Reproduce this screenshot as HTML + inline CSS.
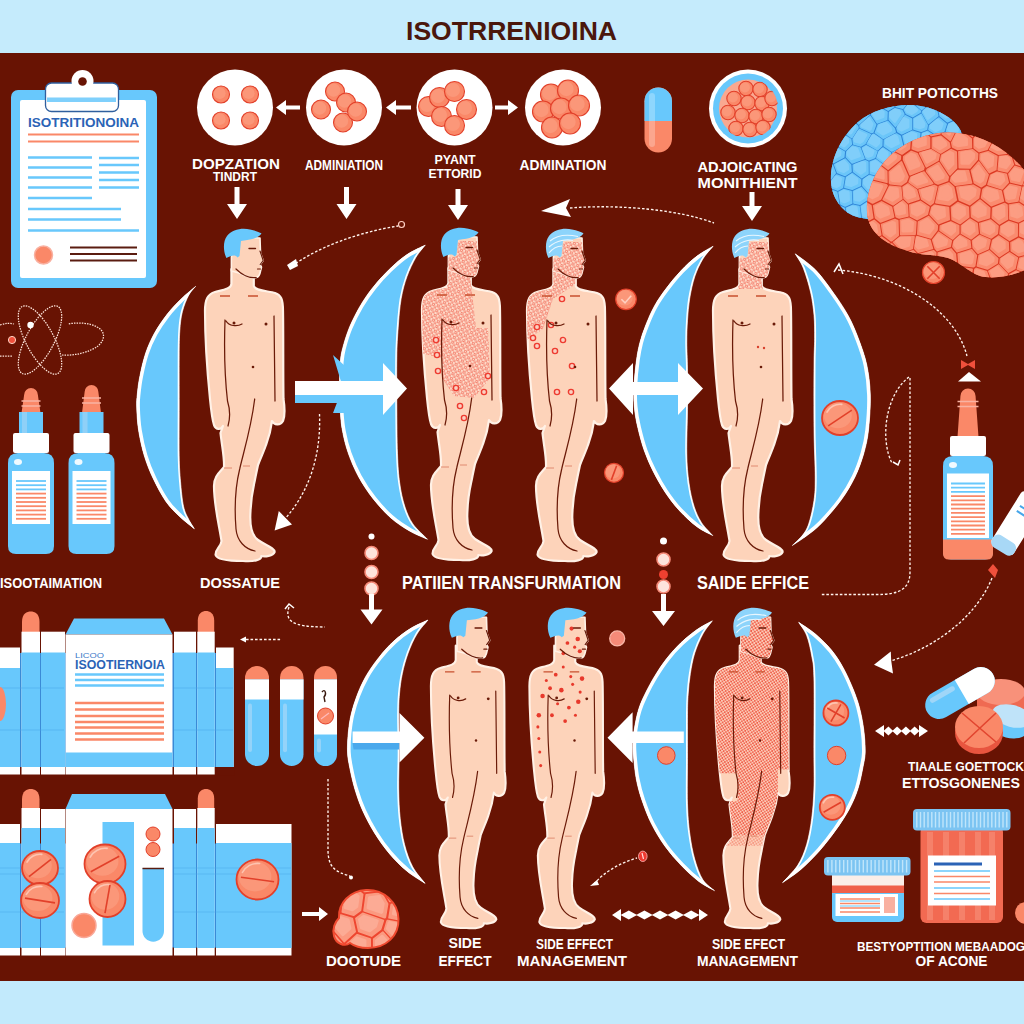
<!DOCTYPE html>
<html lang="en"><head><meta charset="utf-8"><title>Isotrrenioina</title>
<style>html,body{margin:0;padding:0;background:#681303;}svg{display:block;}text{font-family:"Liberation Sans",sans-serif;}</style></head>
<body>
<svg width="1024" height="1024" viewBox="0 0 1024 1024">
<defs>
<clipPath id="bodyclip"><path d="M-13.6,40 L-13.6,55 C-14,60 -22,61 -30,63 C-37,65 -40,70 -40,82 C-40,120 -37,150 -35,170 C-34,180 -33,190 -31,196 C-29,201 -24,201 -22,197 L-24.5,204 C-23,218 -20.5,228 -21,238 C-25,243 -31,247 -31,257 C-31,276 -26,296 -23.5,312 C-24,318 -30,320 -29.4,326 C-28,331 -15,332 -2,332 C8,333 17,331 16.3,327 C20,328 28,327 29.6,323 C30,319 20,316 13,311 C6,306 4.5,296 5.5,282 C6,268 8,260 9.7,252 C11,245 12,241 13,236 C16,228 19,222 21,216 C24,208 26,200 27,192 C29,196 35,197 38,192 C40,187 40,180 38.5,170 C38,140 38.5,110 38,82 C38,70 36,66 30,64 C24,62 10,62 8.8,57 L8.8,46 Z"/></clipPath>
<clipPath id="headclip"><path d="M-13.6,28 L-13.6,42 L-6,44 C0,47 6,49.5 11.3,48.5 C14,48 15,45 15.5,42 L16.5,38 L15.2,35.5 L18.2,31.5 L15.5,24 L15,9 L-7,8 Z"/></clipPath>
<pattern id="pdense" width="5" height="5" patternUnits="userSpaceOnUse" patternTransform="rotate(18)"><rect width="5" height="5" fill="#fddccb"/><circle cx="1.4" cy="1.4" r="1.2" fill="none" stroke="#ee5540" stroke-width="0.85"/><circle cx="3.9" cy="3.9" r="1.05" fill="none" stroke="#f26a56" stroke-width="0.8"/></pattern>
<pattern id="pfull" width="3.6" height="3.6" patternUnits="userSpaceOnUse" patternTransform="rotate(12)"><rect width="3.6" height="3.6" fill="#fdcfbb"/><circle cx="1" cy="1" r="0.95" fill="#ec4632"/><circle cx="2.8" cy="2.8" r="0.9" fill="#ee5642"/></pattern>
<clipPath id="c5"><circle cx="748" cy="108.5" r="30"/></clipPath>
<clipPath id="cr1"><path d="M195.7,286.3 C193.3,288.4 185.9,294.3 181.1,299.0 C176.3,303.7 171.5,308.6 167.1,314.3 C162.7,320.0 158.0,326.8 154.4,333.3 C150.8,339.9 147.9,346.4 145.5,353.6 C143.1,360.8 141.2,369.7 139.8,376.5 C138.4,383.3 137.8,389.2 137.3,394.3 C136.8,399.4 136.5,401.0 136.7,407.0 C136.9,413.0 137.3,422.3 138.6,430.4 C139.9,438.5 141.9,447.8 144.3,455.8 C146.7,463.8 149.6,471.0 153.2,478.6 C156.8,486.2 161.5,495.1 165.9,501.5 C170.3,507.9 175.1,512.2 179.8,516.7 C184.6,521.2 192.0,526.8 194.4,528.8 C193.4,527.2 190.5,523.0 188.7,519.3 C186.9,515.6 185.0,513.0 183.6,506.6 C182.2,500.2 181.2,489.7 180.5,481.2 C179.8,472.7 179.4,468.5 179.2,455.8 C179.0,443.1 179.2,421.6 179.2,405.0 C179.2,388.4 179.1,368.6 179.2,356.2 C179.3,343.8 179.3,338.2 179.8,330.8 C180.3,323.4 180.9,317.6 182.4,311.7 C183.9,305.8 186.5,299.4 188.7,295.2 C190.9,291.0 194.5,287.8 195.7,286.3 Z"/></clipPath>
<clipPath id="cr2"><path d="M425.3,245.1 C422.2,246.7 413.0,250.6 407.0,254.6 C401.0,258.6 395.0,263.9 389.4,269.3 C383.8,274.7 378.2,280.8 373.3,286.9 C368.4,293.0 364.2,299.1 360.2,305.9 C356.2,312.7 352.1,320.8 349.2,327.9 C346.3,335.0 344.1,342.7 342.6,348.4 C341.1,354.1 340.9,355.7 340.4,362.0 C339.9,368.3 339.5,377.6 339.5,386.0 C339.5,394.4 339.9,405.0 340.4,412.6 C340.9,420.2 341.3,424.8 342.6,431.6 C343.9,438.4 345.7,446.0 348.4,453.6 C351.1,461.2 354.5,469.4 358.7,477.0 C362.9,484.6 367.9,492.2 373.3,499.0 C378.7,505.8 384.8,512.6 390.9,518.0 C397.0,523.4 403.9,527.7 410.0,531.2 C416.1,534.8 424.6,537.9 427.5,539.3 C425.1,536.7 416.7,529.4 412.9,523.9 C409.1,518.4 407.0,513.1 404.8,506.3 C402.6,499.5 400.9,491.7 399.7,482.9 C398.5,474.1 398.0,466.8 397.5,453.6 C397.0,440.4 396.9,419.9 396.8,403.8 C396.7,387.7 396.6,369.9 396.8,357.2 C397.0,344.5 397.5,337.7 398.2,327.9 C398.9,318.1 399.7,307.2 401.2,298.6 C402.7,290.1 404.6,283.4 407.0,276.6 C409.4,269.8 412.8,262.9 415.8,257.6 C418.9,252.4 423.7,247.2 425.3,245.1 Z"/></clipPath>
<clipPath id="cr3"><path d="M713.1,246.2 C710.4,247.8 702.4,252.0 697.0,256.1 C691.6,260.2 686.0,265.4 680.9,270.8 C675.8,276.2 670.7,282.5 666.3,288.3 C661.9,294.1 657.9,299.8 654.5,305.9 C651.1,312.0 648.2,318.9 645.8,325.0 C643.4,331.1 641.4,336.7 639.9,342.5 C638.4,348.3 637.5,352.8 636.5,360.0 C635.5,367.2 634.4,378.2 634.0,386.0 C633.6,393.8 633.7,399.8 634.3,406.7 C634.9,413.6 636.0,419.9 637.7,427.2 C639.4,434.5 641.7,443.4 644.3,450.7 C646.9,458.0 649.7,464.4 653.1,471.2 C656.5,478.0 660.4,485.1 664.8,491.7 C669.2,498.3 674.1,504.9 679.5,510.7 C684.9,516.5 691.5,522.6 697.0,526.8 C702.5,530.9 710.2,534.1 712.8,535.6 C710.9,533.4 704.5,527.3 701.4,522.4 C698.3,517.5 696.2,512.9 694.1,506.3 C692.0,499.7 690.2,491.7 689.0,482.9 C687.8,474.1 687.0,465.8 686.8,453.6 C686.5,441.4 687.4,423.7 687.5,409.6 C687.6,395.5 687.6,380.1 687.5,368.9 C687.4,357.7 686.8,350.6 686.8,342.5 C686.8,334.4 687.0,327.9 687.5,320.6 C688.0,313.3 688.5,305.9 689.7,298.6 C690.9,291.3 692.6,283.2 694.8,276.6 C697.0,270.0 699.8,264.1 702.9,259.0 C706.0,253.9 711.4,248.3 713.1,246.2 Z"/></clipPath>
<clipPath id="cr4"><path d="M795.2,253.8 C798.5,256.4 808.9,263.2 815.2,269.6 C821.5,276.0 827.3,284.3 832.8,291.9 C838.3,299.5 843.7,307.5 848.0,315.3 C852.3,323.1 855.4,330.5 858.5,338.8 C861.6,347.1 864.8,355.6 866.8,365.0 C868.8,374.4 870.0,384.2 870.3,395.0 C870.6,405.8 869.6,420.3 868.5,430.0 C867.4,439.7 866.0,445.6 863.8,453.4 C861.5,461.2 858.8,469.1 855.0,476.9 C851.2,484.7 846.7,492.5 841.0,500.3 C835.3,508.1 826.7,517.9 821.0,523.8 C815.3,529.7 811.8,531.9 807.0,535.5 C802.2,539.1 794.8,543.8 792.3,545.5 C794.0,543.8 799.6,539.1 802.3,535.5 C805.0,531.9 806.8,529.7 808.7,523.8 C810.7,517.9 812.9,508.1 814.0,500.3 C815.1,492.5 815.2,488.6 815.2,476.9 C815.2,465.2 814.2,448.6 814.0,430.0 C813.8,411.4 813.9,380.2 814.0,365.0 C814.1,349.8 814.6,347.1 814.6,338.8 C814.6,330.5 814.7,323.1 814.0,315.3 C813.3,307.5 812.3,299.7 810.5,291.9 C808.7,284.1 805.9,274.8 803.4,268.4 C800.9,262.0 796.6,256.2 795.2,253.8 Z"/></clipPath>
<clipPath id="cr5"><path d="M428.0,620.0 C425.2,621.4 416.9,624.6 411.2,628.1 C405.5,631.6 399.0,636.4 393.6,641.3 C388.2,646.2 383.5,651.5 378.9,657.4 C374.3,663.2 369.4,670.0 365.8,676.4 C362.2,682.8 359.4,689.1 357.0,695.5 C354.6,701.9 352.6,708.1 351.1,714.5 C349.6,720.9 348.8,727.4 348.2,733.6 C347.6,739.9 347.3,746.4 347.5,752.0 C347.7,757.6 348.4,760.8 349.6,767.0 C350.8,773.2 352.6,781.7 354.8,789.0 C357.0,796.3 359.5,803.6 362.8,810.9 C366.1,818.2 370.1,825.8 374.5,832.9 C378.9,840.0 383.8,847.0 389.2,853.4 C394.6,859.8 400.8,866.0 406.8,871.0 C412.8,876.0 422.1,881.3 425.1,883.4 C423.0,880.6 416.0,873.1 412.6,866.6 C409.2,860.1 406.7,852.7 404.6,844.6 C402.5,836.5 401.2,827.5 400.2,818.2 C399.2,808.9 398.9,800.0 398.7,789.0 C398.5,778.0 399.2,764.4 399.2,752.0 C399.2,739.6 398.6,724.2 398.7,714.5 C398.8,704.8 398.9,700.8 399.5,694.0 C400.1,687.2 400.9,680.3 402.4,673.5 C403.8,666.7 405.8,659.6 408.2,653.0 C410.6,646.4 413.7,639.5 417.0,634.0 C420.3,628.5 426.2,622.3 428.0,620.0 Z"/></clipPath>
<clipPath id="cr6"><path d="M712.4,620.8 C709.8,622.3 702.2,625.9 697.0,629.6 C691.8,633.3 686.0,637.9 680.9,642.8 C675.8,647.7 670.7,653.3 666.3,658.9 C661.9,664.5 658.2,670.3 654.5,676.4 C650.8,682.5 647.0,689.9 644.3,695.5 C641.6,701.1 640.1,704.5 638.4,710.1 C636.7,715.7 635.2,723.4 634.3,729.2 C633.4,735.0 633.1,740.5 633.0,745.0 C632.9,749.5 633.0,750.4 633.5,756.0 C634.0,761.6 634.8,771.2 636.2,778.7 C637.6,786.2 639.5,793.1 642.1,800.7 C644.7,808.3 647.8,816.6 651.6,824.1 C655.4,831.6 659.9,839.2 664.8,846.0 C669.7,852.8 675.3,859.2 680.9,865.1 C686.5,871.0 692.9,876.9 698.5,881.2 C704.1,885.5 711.9,889.1 714.6,890.7 C712.6,888.9 706.2,885.0 702.9,879.8 C699.6,874.6 697.0,867.1 694.8,859.3 C692.6,851.5 690.9,842.2 689.7,832.9 C688.5,823.6 687.9,816.0 687.5,803.6 C687.1,791.2 687.5,773.4 687.5,758.5 C687.5,743.6 687.4,725.2 687.5,714.5 C687.6,703.8 687.7,700.8 688.2,694.0 C688.7,687.2 689.3,680.3 690.4,673.5 C691.5,666.7 692.7,659.6 694.8,653.0 C696.9,646.4 700.0,639.4 702.9,634.0 C705.8,628.6 710.8,623.0 712.4,620.8 Z"/></clipPath>
<clipPath id="cr7"><path d="M798.6,622.3 C801.4,624.2 809.9,629.4 815.4,634.0 C820.9,638.6 826.9,644.5 831.5,650.1 C836.1,655.7 839.7,661.4 843.2,667.7 C846.8,674.1 850.1,681.6 852.8,688.2 C855.5,694.8 857.6,700.4 859.4,707.2 C861.2,714.0 862.7,721.7 863.7,729.2 C864.7,736.7 865.3,745.7 865.2,752.0 C865.1,758.3 864.2,760.8 863.0,767.0 C861.8,773.2 860.2,781.9 857.9,789.0 C855.6,796.1 852.8,802.6 849.1,809.4 C845.4,816.2 840.8,823.1 835.9,830.0 C831.0,836.9 825.6,843.9 819.8,850.5 C813.9,857.1 807.0,864.1 800.8,869.5 C794.6,874.9 785.5,880.5 782.5,882.7 C785.0,879.8 793.8,871.5 797.8,865.1 C801.8,858.8 804.3,852.4 806.6,844.6 C808.9,836.8 810.5,827.5 811.7,818.2 C812.9,808.9 813.5,800.0 813.9,789.0 C814.3,778.0 813.9,770.5 813.9,752.0 C813.9,733.5 814.3,693.9 813.9,677.9 C813.5,661.9 812.9,663.1 811.7,656.0 C810.5,648.9 808.8,641.0 806.6,635.4 C804.4,629.8 799.9,624.5 798.6,622.3 Z"/></clipPath>
<clipPath id="bb1"><path d="M862,218 C845,216 832,200 831,182 C830,160 840,138 858,122 C878,106 910,100 935,110 C950,116 960,126 962,134 L900,170 L890,215 C880,220 870,220 862,218 Z"/></clipPath>
<clipPath id="bb2"><path d="M867,212 C866,190 876,168 892,154 C910,138 935,130 958,133 C985,136 1008,150 1024,170 L1030,172 L1030,268 C1015,275 995,280 980,276 C968,272 960,262 948,258 C935,254 920,256 905,250 C885,244 868,232 867,212 Z"/></clipPath>
<clipPath id="bb3"><path d="M366,890 C383,889 398,902 398.5,919 C399,936 386,948 368,948 C360,948 354,946 350,943 C345,947 336,944 334,936 C332,929 335,922 339,918 C338,903 350,891 366,890 Z"/></clipPath>
</defs>
<rect x="0" y="0" width="1024" height="1024" fill="#681303"/>
<rect x="0" y="0" width="1024" height="53" fill="#c5ebfc"/>
<rect x="0" y="981" width="1024" height="43" fill="#c2eafc"/>
<text x="511.5" y="40" font-size="26" text-anchor="middle" fill="#4b170c" font-weight="bold" textLength="211" lengthAdjust="spacingAndGlyphs">ISOTRRENIOINA</text>
<circle cx="235" cy="107.5" r="38" fill="#ffffff"/>
<circle cx="344" cy="107.5" r="38" fill="#ffffff"/>
<circle cx="454.5" cy="107.5" r="38" fill="#ffffff"/>
<circle cx="563" cy="107.5" r="38" fill="#ffffff"/>
<circle cx="221" cy="94.5" r="8.5" fill="#fa8868" stroke="#e2402a" stroke-width="1.1"/>
<circle cx="219.7" cy="93.2" r="5.9" fill="#fdb49c" opacity="0.35"/>
<circle cx="250" cy="94.5" r="8.5" fill="#fa8868" stroke="#e2402a" stroke-width="1.1"/>
<circle cx="248.7" cy="93.2" r="5.9" fill="#fdb49c" opacity="0.35"/>
<circle cx="221" cy="120.5" r="8.5" fill="#fa8868" stroke="#e2402a" stroke-width="1.1"/>
<circle cx="219.7" cy="119.2" r="5.9" fill="#fdb49c" opacity="0.35"/>
<circle cx="250" cy="120.5" r="8.5" fill="#fa8868" stroke="#e2402a" stroke-width="1.1"/>
<circle cx="248.7" cy="119.2" r="5.9" fill="#fdb49c" opacity="0.35"/>
<circle cx="321" cy="109.5" r="9.5" fill="#fa8868" stroke="#e2402a" stroke-width="1.1"/>
<circle cx="319.6" cy="108.1" r="6.6" fill="#fdb49c" opacity="0.35"/>
<circle cx="335" cy="91.5" r="9.5" fill="#fa8868" stroke="#e2402a" stroke-width="1.1"/>
<circle cx="333.6" cy="90.1" r="6.6" fill="#fdb49c" opacity="0.35"/>
<circle cx="346" cy="102.5" r="9.5" fill="#fa8868" stroke="#e2402a" stroke-width="1.1"/>
<circle cx="344.6" cy="101.1" r="6.6" fill="#fdb49c" opacity="0.35"/>
<circle cx="343" cy="122.5" r="9.5" fill="#fa8868" stroke="#e2402a" stroke-width="1.1"/>
<circle cx="341.6" cy="121.1" r="6.6" fill="#fdb49c" opacity="0.35"/>
<circle cx="357" cy="111.5" r="9.5" fill="#fa8868" stroke="#e2402a" stroke-width="1.1"/>
<circle cx="355.6" cy="110.1" r="6.6" fill="#fdb49c" opacity="0.35"/>
<circle cx="428.5" cy="106.5" r="10" fill="#fa8868" stroke="#e2402a" stroke-width="1.1"/>
<circle cx="427.0" cy="105.0" r="7.0" fill="#fdb49c" opacity="0.35"/>
<circle cx="439.5" cy="97.5" r="10" fill="#fa8868" stroke="#e2402a" stroke-width="1.1"/>
<circle cx="438.0" cy="96.0" r="7.0" fill="#fdb49c" opacity="0.35"/>
<circle cx="454.5" cy="91.5" r="10" fill="#fa8868" stroke="#e2402a" stroke-width="1.1"/>
<circle cx="453.0" cy="90.0" r="7.0" fill="#fdb49c" opacity="0.35"/>
<circle cx="441.5" cy="116.5" r="10" fill="#fa8868" stroke="#e2402a" stroke-width="1.1"/>
<circle cx="440.0" cy="115.0" r="7.0" fill="#fdb49c" opacity="0.35"/>
<circle cx="466.5" cy="109.5" r="10" fill="#fa8868" stroke="#e2402a" stroke-width="1.1"/>
<circle cx="465.0" cy="108.0" r="7.0" fill="#fdb49c" opacity="0.35"/>
<circle cx="454.5" cy="125.5" r="10" fill="#fa8868" stroke="#e2402a" stroke-width="1.1"/>
<circle cx="453.0" cy="124.0" r="7.0" fill="#fdb49c" opacity="0.35"/>
<circle cx="551" cy="94.5" r="10.5" fill="#fa8868" stroke="#e2402a" stroke-width="1.1"/>
<circle cx="549.4" cy="92.9" r="7.3" fill="#fdb49c" opacity="0.35"/>
<circle cx="568" cy="90.5" r="10.5" fill="#fa8868" stroke="#e2402a" stroke-width="1.1"/>
<circle cx="566.4" cy="88.9" r="7.3" fill="#fdb49c" opacity="0.35"/>
<circle cx="543" cy="111.5" r="10.5" fill="#fa8868" stroke="#e2402a" stroke-width="1.1"/>
<circle cx="541.4" cy="109.9" r="7.3" fill="#fdb49c" opacity="0.35"/>
<circle cx="561" cy="108.5" r="10.5" fill="#fa8868" stroke="#e2402a" stroke-width="1.1"/>
<circle cx="559.4" cy="106.9" r="7.3" fill="#fdb49c" opacity="0.35"/>
<circle cx="579" cy="105.5" r="10.5" fill="#fa8868" stroke="#e2402a" stroke-width="1.1"/>
<circle cx="577.4" cy="103.9" r="7.3" fill="#fdb49c" opacity="0.35"/>
<circle cx="552" cy="127.5" r="10.5" fill="#fa8868" stroke="#e2402a" stroke-width="1.1"/>
<circle cx="550.4" cy="125.9" r="7.3" fill="#fdb49c" opacity="0.35"/>
<circle cx="570" cy="123.5" r="10.5" fill="#fa8868" stroke="#e2402a" stroke-width="1.1"/>
<circle cx="568.4" cy="121.9" r="7.3" fill="#fdb49c" opacity="0.35"/>
<circle cx="748" cy="108.5" r="39" fill="#ffffff"/>
<circle cx="748" cy="108.5" r="35" fill="#68c8fc"/>
<circle cx="748" cy="108.5" r="29" fill="#f9a890"/>
<g clip-path="url(#c5)">
<circle cx="746" cy="88.5" r="7.2" fill="#fa8868" stroke="#e2402a" stroke-width="1.1"/>
<circle cx="744.9" cy="87.4" r="5.0" fill="#fdb49c" opacity="0.35"/>
<circle cx="760" cy="89.5" r="7.2" fill="#fa8868" stroke="#e2402a" stroke-width="1.1"/>
<circle cx="758.9" cy="88.4" r="5.0" fill="#fdb49c" opacity="0.35"/>
<circle cx="734" cy="98.5" r="7.2" fill="#fa8868" stroke="#e2402a" stroke-width="1.1"/>
<circle cx="732.9" cy="97.4" r="5.0" fill="#fdb49c" opacity="0.35"/>
<circle cx="748" cy="102.5" r="7.2" fill="#fa8868" stroke="#e2402a" stroke-width="1.1"/>
<circle cx="746.9" cy="101.4" r="5.0" fill="#fdb49c" opacity="0.35"/>
<circle cx="762" cy="103.5" r="7.2" fill="#fa8868" stroke="#e2402a" stroke-width="1.1"/>
<circle cx="760.9" cy="102.4" r="5.0" fill="#fdb49c" opacity="0.35"/>
<circle cx="772" cy="98.5" r="7.2" fill="#fa8868" stroke="#e2402a" stroke-width="1.1"/>
<circle cx="770.9" cy="97.4" r="5.0" fill="#fdb49c" opacity="0.35"/>
<circle cx="728" cy="112.5" r="7.2" fill="#fa8868" stroke="#e2402a" stroke-width="1.1"/>
<circle cx="726.9" cy="111.4" r="5.0" fill="#fdb49c" opacity="0.35"/>
<circle cx="742" cy="115.5" r="7.2" fill="#fa8868" stroke="#e2402a" stroke-width="1.1"/>
<circle cx="740.9" cy="114.4" r="5.0" fill="#fdb49c" opacity="0.35"/>
<circle cx="756" cy="116.5" r="7.2" fill="#fa8868" stroke="#e2402a" stroke-width="1.1"/>
<circle cx="754.9" cy="115.4" r="5.0" fill="#fdb49c" opacity="0.35"/>
<circle cx="769" cy="114.5" r="7.2" fill="#fa8868" stroke="#e2402a" stroke-width="1.1"/>
<circle cx="767.9" cy="113.4" r="5.0" fill="#fdb49c" opacity="0.35"/>
<circle cx="736" cy="128.5" r="7.2" fill="#fa8868" stroke="#e2402a" stroke-width="1.1"/>
<circle cx="734.9" cy="127.4" r="5.0" fill="#fdb49c" opacity="0.35"/>
<circle cx="750" cy="129.5" r="7.2" fill="#fa8868" stroke="#e2402a" stroke-width="1.1"/>
<circle cx="748.9" cy="128.4" r="5.0" fill="#fdb49c" opacity="0.35"/>
<circle cx="763" cy="127.5" r="7.2" fill="#fa8868" stroke="#e2402a" stroke-width="1.1"/>
<circle cx="761.9" cy="126.4" r="5.0" fill="#fdb49c" opacity="0.35"/>
</g>
<rect x="644.5" y="87.5" width="27.5" height="65" rx="13.7" fill="#fa8868"/>
<path d="M644.5,121 V101.2 A13.75,13.75 0 0 1 672,101.2 V121 Z" fill="#68c8fc"/>
<rect x="649" y="93" width="6" height="54" rx="3" fill="#fff" opacity="0.25"/>
<path d="M300,105.5 H286 V100.0 L276,107.5 L286,115.0 V109.5 H300 Z" fill="#ffffff"/>
<path d="M411,105.5 H396 V100.0 L386,107.5 L396,115.0 V109.5 H411 Z" fill="#ffffff"/>
<path d="M495,105.5 H508 V100.0 L518,107.5 L508,115.0 V109.5 H495 Z" fill="#ffffff"/>
<text x="236" y="168.5" font-size="15" text-anchor="middle" fill="#ffffff" font-weight="bold" textLength="88" lengthAdjust="spacingAndGlyphs">DOPZATION</text>
<text x="235" y="181" font-size="13" text-anchor="middle" fill="#ffffff" font-weight="bold" textLength="44" lengthAdjust="spacingAndGlyphs">TINDRT</text>
<text x="344" y="170" font-size="14" text-anchor="middle" fill="#ffffff" font-weight="bold" textLength="78" lengthAdjust="spacingAndGlyphs">ADMINIATION</text>
<text x="455" y="164" font-size="12.5" text-anchor="middle" fill="#ffffff" font-weight="bold" textLength="41" lengthAdjust="spacingAndGlyphs">PYANT</text>
<text x="455" y="178" font-size="12.5" text-anchor="middle" fill="#ffffff" font-weight="bold" textLength="53" lengthAdjust="spacingAndGlyphs">ETTORID</text>
<text x="563" y="170" font-size="14" text-anchor="middle" fill="#ffffff" font-weight="bold" textLength="87" lengthAdjust="spacingAndGlyphs">ADMINATION</text>
<text x="747.5" y="171.8" font-size="15.3" text-anchor="middle" fill="#ffffff" font-weight="bold" textLength="100" lengthAdjust="spacingAndGlyphs">ADJOICATING</text>
<text x="747.5" y="188" font-size="15" text-anchor="middle" fill="#ffffff" font-weight="bold" textLength="100" lengthAdjust="spacingAndGlyphs">MONITHIENT</text>
<text x="940" y="97.5" font-size="15" text-anchor="middle" fill="#ffffff" font-weight="bold" textLength="116" lengthAdjust="spacingAndGlyphs">BHIT POTICOTHS</text>
<path d="M234.5,187 H239.5 V204 H247 L237,219 L227,204 H234.5 Z" fill="#ffffff"/>
<path d="M344.0,187 H349.0 V204 H356.5 L346.5,219 L336.5,204 H344.0 Z" fill="#ffffff"/>
<path d="M455.5,189 H460.5 V205 H468 L458,220 L448,205 H455.5 Z" fill="#ffffff"/>
<path d="M749.5,192 H754.5 V206 H762 L752,221 L742,206 H749.5 Z" fill="#ffffff"/>
<rect x="11" y="90" width="146" height="198" rx="7" fill="#68c8fc"/>
<rect x="20" y="100" width="126" height="178" rx="2" fill="#ffffff"/>
<rect x="45.5" y="83" width="73" height="28.5" rx="6" fill="#ffffff" stroke="#2f5f9e" stroke-width="1.3"/>
<circle cx="82.5" cy="81" r="11" fill="#ffffff"/>
<circle cx="82.5" cy="81.5" r="4.3" fill="#681303"/>
<rect x="47" y="97.5" width="69" height="4.5" fill="#68c8fc" opacity="0.85"/>
<text x="83.5" y="127" font-size="13" text-anchor="middle" fill="#2b63b6" font-weight="bold" textLength="111" lengthAdjust="spacingAndGlyphs">ISOTRITIONOINA</text>
<path d="M28,134.5 H139 M28,141.5 H139" stroke="#fa8868" stroke-width="2.2"/>
<path d="M28,157.5 H92 M28,167.5 H92 M28,177.5 H92 M28,187.5 H92 M28,198 H92 M99,158 H139 M99,165 H139 M99,172.5 H139 M99,180 H139 M99,187.5 H139 M28,209 H121 M28,219.5 H121 M28,230.5 H139" stroke="#68c8fc" stroke-width="2.6"/>
<circle cx="43.5" cy="255" r="9" fill="#fa8868" stroke="#f9b0a0" stroke-width="1.5"/>
<path d="M70,247.5 H137 M70,254 H137 M70,260.5 H137" stroke="#5a1c10" stroke-width="2.2"/>
<g fill="none" stroke="#ffe6dc" stroke-width="1.25" stroke-dasharray="1.5 1.1"><ellipse cx="40" cy="340" rx="14" ry="38" transform="rotate(-28 40 340)"/><ellipse cx="40" cy="340" rx="14" ry="38" transform="rotate(28 40 340)"/><path d="M0,325 C6,323 10,323 14,324 M0,356 H12 M62,355 C75,356 90,352 98,346 C106,339 105,331 97,327 C90,323 78,322 68,324"/></g>
<circle cx="30.5" cy="325" r="3.2" fill="#fff" />
<circle cx="12" cy="340" r="3.6" fill="#f0503c" stroke="#ffd0c0" stroke-width="1"/>
<path d="M21.5,413 L24.16,394.84 A6.84,6.84 0 0 1 37.84,394.84 L40.5,413 Z" fill="#fa8868"/>
<path d="M21.5,401 h19 M21.5,406 h19" stroke="#f9b3a3" stroke-width="1.5"/>
<rect x="19.0" y="412" width="24" height="22" fill="#68c8fc"/>
<rect x="22.0" y="412" width="5" height="22" fill="#8fd0f7"/>
<rect x="13.0" y="433" width="36" height="20" rx="2" fill="#ffffff"/>
<path d="M8.0,546 V463 Q8.0,453 18.0,453 H44.0 Q54.0,453 54.0,463 V546 Q54.0,554 46.0,554 H16.0 Q8.0,554 8.0,546 Z" fill="#68c8fc"/>
<ellipse cx="18.0" cy="462" rx="4" ry="3" fill="#fff" opacity="0.9"/>
<rect x="12.0" y="471" width="38" height="53" fill="#ffffff"/>
<path d="M16.0,481 H46.0" stroke="#68c8fc" stroke-width="1.8"/>
<path d="M16.0,485.2 H46.0" stroke="#68c8fc" stroke-width="1.8"/>
<path d="M16.0,489.4 H46.0" stroke="#68c8fc" stroke-width="1.8"/>
<path d="M16.0,493.59999999999997 H46.0" stroke="#fa8868" stroke-width="1.8"/>
<path d="M16.0,497.79999999999995 H46.0" stroke="#fa8868" stroke-width="1.8"/>
<path d="M16.0,501.99999999999994 H46.0" stroke="#fa8868" stroke-width="1.8"/>
<path d="M16.0,506.19999999999993 H46.0" stroke="#fa8868" stroke-width="1.8"/>
<path d="M16.0,510.3999999999999 H46.0" stroke="#fa8868" stroke-width="1.8"/>
<path d="M16.0,514.5999999999999 H46.0" stroke="#fa8868" stroke-width="1.8"/>
<path d="M16.0,518.8 H46.0" stroke="#fa8868" stroke-width="1.8"/>
<path d="M82.0,413 L84.66,391.84 A6.84,6.84 0 0 1 98.34,391.84 L101.0,413 Z" fill="#fa8868"/>
<path d="M82.0,398 h19 M82.0,403 h19" stroke="#f9b3a3" stroke-width="1.5"/>
<rect x="79.5" y="412" width="24" height="22" fill="#68c8fc"/>
<rect x="82.5" y="412" width="5" height="22" fill="#8fd0f7"/>
<rect x="73.5" y="433" width="36" height="20" rx="2" fill="#ffffff"/>
<path d="M68.5,546 V463 Q68.5,453 78.5,453 H104.5 Q114.5,453 114.5,463 V546 Q114.5,554 106.5,554 H76.5 Q68.5,554 68.5,546 Z" fill="#68c8fc"/>
<ellipse cx="78.5" cy="462" rx="4" ry="3" fill="#fff" opacity="0.9"/>
<rect x="72.5" y="471" width="38" height="53" fill="#ffffff"/>
<path d="M76.5,481 H106.5" stroke="#68c8fc" stroke-width="1.8"/>
<path d="M76.5,485.2 H106.5" stroke="#68c8fc" stroke-width="1.8"/>
<path d="M76.5,489.4 H106.5" stroke="#68c8fc" stroke-width="1.8"/>
<path d="M76.5,493.59999999999997 H106.5" stroke="#fa8868" stroke-width="1.8"/>
<path d="M76.5,497.79999999999995 H106.5" stroke="#fa8868" stroke-width="1.8"/>
<path d="M76.5,501.99999999999994 H106.5" stroke="#fa8868" stroke-width="1.8"/>
<path d="M76.5,506.19999999999993 H106.5" stroke="#fa8868" stroke-width="1.8"/>
<path d="M76.5,510.3999999999999 H106.5" stroke="#fa8868" stroke-width="1.8"/>
<path d="M76.5,514.5999999999999 H106.5" stroke="#fa8868" stroke-width="1.8"/>
<path d="M76.5,518.8 H106.5" stroke="#fa8868" stroke-width="1.8"/>
<path d="M957.5,437 L960.44,396.06 A7.56,7.56 0 0 1 975.56,396.06 L978.5,437 Z" fill="#fa8868"/>
<path d="M957.5,401.5 h21 M957.5,406.5 h21" stroke="#f9b3a3" stroke-width="1.5"/>
<rect x="950.0" y="436" width="36" height="20" rx="2" fill="#ffffff"/>
<path d="M943.0,551.5 V466 Q943.0,456 953.0,456 H983.0 Q993.0,456 993.0,466 V551.5 Q993.0,559.5 985.0,559.5 H951.0 Q943.0,559.5 943.0,551.5 Z" fill="#68c8fc"/>
<path d="M943.0,539.5 H993.0 V553.5 Q993.0,559.5 987.0,559.5 H949.0 Q943.0,559.5 943.0,553.5 Z" fill="#fa8868"/>
<ellipse cx="953.0" cy="465" rx="4" ry="3" fill="#fff" opacity="0.9"/>
<rect x="947.0" y="473.5" width="42" height="64.5" fill="#ffffff"/>
<path d="M951.0,483.5 H985.0" stroke="#68c8fc" stroke-width="1.8"/>
<path d="M951.0,487.7 H985.0" stroke="#68c8fc" stroke-width="1.8"/>
<path d="M951.0,491.9 H985.0" stroke="#68c8fc" stroke-width="1.8"/>
<path d="M951.0,496.09999999999997 H985.0" stroke="#fa8868" stroke-width="1.8"/>
<path d="M951.0,500.29999999999995 H985.0" stroke="#fa8868" stroke-width="1.8"/>
<path d="M951.0,504.49999999999994 H985.0" stroke="#fa8868" stroke-width="1.8"/>
<path d="M951.0,508.69999999999993 H985.0" stroke="#fa8868" stroke-width="1.8"/>
<path d="M951.0,512.9 H985.0" stroke="#fa8868" stroke-width="1.8"/>
<path d="M951.0,517.1 H985.0" stroke="#fa8868" stroke-width="1.8"/>
<path d="M951.0,521.3000000000001 H985.0" stroke="#fa8868" stroke-width="1.8"/>
<path d="M951.0,525.5000000000001 H985.0" stroke="#fa8868" stroke-width="1.8"/>
<path d="M951.0,529.7000000000002 H985.0" stroke="#fa8868" stroke-width="1.8"/>
<path d="M951.0,533.9000000000002 H985.0" stroke="#fa8868" stroke-width="1.8"/>
<g transform="rotate(32 1010 535)"><rect x="997" y="490" width="26" height="62" rx="4" fill="#ffffff"/><rect x="997" y="540" width="26" height="14" rx="6" fill="#a8d8f6"/><path d="M1003,505 h12 M1003,511 h12" stroke="#46a6ea" stroke-width="2"/></g>
<g clip-path="url(#cr1)"><path d="M195.7,286.3 C193.3,288.4 185.9,294.3 181.1,299.0 C176.3,303.7 171.5,308.6 167.1,314.3 C162.7,320.0 158.0,326.8 154.4,333.3 C150.8,339.9 147.9,346.4 145.5,353.6 C143.1,360.8 141.2,369.7 139.8,376.5 C138.4,383.3 137.8,389.2 137.3,394.3 C136.8,399.4 136.5,401.0 136.7,407.0 C136.9,413.0 137.3,422.3 138.6,430.4 C139.9,438.5 141.9,447.8 144.3,455.8 C146.7,463.8 149.6,471.0 153.2,478.6 C156.8,486.2 161.5,495.1 165.9,501.5 C170.3,507.9 175.1,512.2 179.8,516.7 C184.6,521.2 192.0,526.8 194.4,528.8 C193.4,527.2 190.5,523.0 188.7,519.3 C186.9,515.6 185.0,513.0 183.6,506.6 C182.2,500.2 181.2,489.7 180.5,481.2 C179.8,472.7 179.4,468.5 179.2,455.8 C179.0,443.1 179.2,421.6 179.2,405.0 C179.2,388.4 179.1,368.6 179.2,356.2 C179.3,343.8 179.3,338.2 179.8,330.8 C180.3,323.4 180.9,317.6 182.4,311.7 C183.9,305.8 186.5,299.4 188.7,295.2 C190.9,291.0 194.5,287.8 195.7,286.3 Z" fill="#68c8fc" stroke="#ffffff" stroke-width="3.0"/><path d="M195.7,286.3 C193.3,288.4 185.9,294.3 181.1,299.0 C176.3,303.7 171.5,308.6 167.1,314.3 C162.7,320.0 158.0,326.8 154.4,333.3 C150.8,339.9 147.9,346.4 145.5,353.6 C143.1,360.8 141.2,369.7 139.8,376.5 C138.4,383.3 137.8,389.2 137.3,394.3 C136.8,399.4 136.5,401.0 136.7,407.0 C136.9,413.0 137.3,422.3 138.6,430.4 C139.9,438.5 141.9,447.8 144.3,455.8 C146.7,463.8 149.6,471.0 153.2,478.6 C156.8,486.2 161.5,495.1 165.9,501.5 C170.3,507.9 175.1,512.2 179.8,516.7 C184.6,521.2 192.0,526.8 194.4,528.8 " fill="none" stroke="#ffffff" stroke-width="6.4"/></g>
<path d="M195.7,286.3 C193.3,288.4 185.9,294.3 181.1,299.0 C176.3,303.7 171.5,308.6 167.1,314.3 C162.7,320.0 158.0,326.8 154.4,333.3 C150.8,339.9 147.9,346.4 145.5,353.6 C143.1,360.8 141.2,369.7 139.8,376.5 C138.4,383.3 137.8,389.2 137.3,394.3 C136.8,399.4 136.5,401.0 136.7,407.0 C136.9,413.0 137.3,422.3 138.6,430.4 C139.9,438.5 141.9,447.8 144.3,455.8 C146.7,463.8 149.6,471.0 153.2,478.6 C156.8,486.2 161.5,495.1 165.9,501.5 C170.3,507.9 175.1,512.2 179.8,516.7 C184.6,521.2 192.0,526.8 194.4,528.8 C193.4,527.2 190.5,523.0 188.7,519.3 C186.9,515.6 185.0,513.0 183.6,506.6 C182.2,500.2 181.2,489.7 180.5,481.2 C179.8,472.7 179.4,468.5 179.2,455.8 C179.0,443.1 179.2,421.6 179.2,405.0 C179.2,388.4 179.1,368.6 179.2,356.2 C179.3,343.8 179.3,338.2 179.8,330.8 C180.3,323.4 180.9,317.6 182.4,311.7 C183.9,305.8 186.5,299.4 188.7,295.2 C190.9,291.0 194.5,287.8 195.7,286.3 Z" fill="none" stroke="#ffffff" stroke-width="0.6"/>
<g clip-path="url(#cr2)"><path d="M425.3,245.1 C422.2,246.7 413.0,250.6 407.0,254.6 C401.0,258.6 395.0,263.9 389.4,269.3 C383.8,274.7 378.2,280.8 373.3,286.9 C368.4,293.0 364.2,299.1 360.2,305.9 C356.2,312.7 352.1,320.8 349.2,327.9 C346.3,335.0 344.1,342.7 342.6,348.4 C341.1,354.1 340.9,355.7 340.4,362.0 C339.9,368.3 339.5,377.6 339.5,386.0 C339.5,394.4 339.9,405.0 340.4,412.6 C340.9,420.2 341.3,424.8 342.6,431.6 C343.9,438.4 345.7,446.0 348.4,453.6 C351.1,461.2 354.5,469.4 358.7,477.0 C362.9,484.6 367.9,492.2 373.3,499.0 C378.7,505.8 384.8,512.6 390.9,518.0 C397.0,523.4 403.9,527.7 410.0,531.2 C416.1,534.8 424.6,537.9 427.5,539.3 C425.1,536.7 416.7,529.4 412.9,523.9 C409.1,518.4 407.0,513.1 404.8,506.3 C402.6,499.5 400.9,491.7 399.7,482.9 C398.5,474.1 398.0,466.8 397.5,453.6 C397.0,440.4 396.9,419.9 396.8,403.8 C396.7,387.7 396.6,369.9 396.8,357.2 C397.0,344.5 397.5,337.7 398.2,327.9 C398.9,318.1 399.7,307.2 401.2,298.6 C402.7,290.1 404.6,283.4 407.0,276.6 C409.4,269.8 412.8,262.9 415.8,257.6 C418.9,252.4 423.7,247.2 425.3,245.1 Z" fill="#68c8fc" stroke="#ffffff" stroke-width="3.0"/><path d="M425.3,245.1 C422.2,246.7 413.0,250.6 407.0,254.6 C401.0,258.6 395.0,263.9 389.4,269.3 C383.8,274.7 378.2,280.8 373.3,286.9 C368.4,293.0 364.2,299.1 360.2,305.9 C356.2,312.7 352.1,320.8 349.2,327.9 C346.3,335.0 344.1,342.7 342.6,348.4 C341.1,354.1 340.9,355.7 340.4,362.0 C339.9,368.3 339.5,377.6 339.5,386.0 C339.5,394.4 339.9,405.0 340.4,412.6 C340.9,420.2 341.3,424.8 342.6,431.6 C343.9,438.4 345.7,446.0 348.4,453.6 C351.1,461.2 354.5,469.4 358.7,477.0 C362.9,484.6 367.9,492.2 373.3,499.0 C378.7,505.8 384.8,512.6 390.9,518.0 C397.0,523.4 403.9,527.7 410.0,531.2 C416.1,534.8 424.6,537.9 427.5,539.3 " fill="none" stroke="#ffffff" stroke-width="6.4"/></g>
<path d="M425.3,245.1 C422.2,246.7 413.0,250.6 407.0,254.6 C401.0,258.6 395.0,263.9 389.4,269.3 C383.8,274.7 378.2,280.8 373.3,286.9 C368.4,293.0 364.2,299.1 360.2,305.9 C356.2,312.7 352.1,320.8 349.2,327.9 C346.3,335.0 344.1,342.7 342.6,348.4 C341.1,354.1 340.9,355.7 340.4,362.0 C339.9,368.3 339.5,377.6 339.5,386.0 C339.5,394.4 339.9,405.0 340.4,412.6 C340.9,420.2 341.3,424.8 342.6,431.6 C343.9,438.4 345.7,446.0 348.4,453.6 C351.1,461.2 354.5,469.4 358.7,477.0 C362.9,484.6 367.9,492.2 373.3,499.0 C378.7,505.8 384.8,512.6 390.9,518.0 C397.0,523.4 403.9,527.7 410.0,531.2 C416.1,534.8 424.6,537.9 427.5,539.3 C425.1,536.7 416.7,529.4 412.9,523.9 C409.1,518.4 407.0,513.1 404.8,506.3 C402.6,499.5 400.9,491.7 399.7,482.9 C398.5,474.1 398.0,466.8 397.5,453.6 C397.0,440.4 396.9,419.9 396.8,403.8 C396.7,387.7 396.6,369.9 396.8,357.2 C397.0,344.5 397.5,337.7 398.2,327.9 C398.9,318.1 399.7,307.2 401.2,298.6 C402.7,290.1 404.6,283.4 407.0,276.6 C409.4,269.8 412.8,262.9 415.8,257.6 C418.9,252.4 423.7,247.2 425.3,245.1 Z" fill="none" stroke="#ffffff" stroke-width="0.6"/>
<g clip-path="url(#cr3)"><path d="M713.1,246.2 C710.4,247.8 702.4,252.0 697.0,256.1 C691.6,260.2 686.0,265.4 680.9,270.8 C675.8,276.2 670.7,282.5 666.3,288.3 C661.9,294.1 657.9,299.8 654.5,305.9 C651.1,312.0 648.2,318.9 645.8,325.0 C643.4,331.1 641.4,336.7 639.9,342.5 C638.4,348.3 637.5,352.8 636.5,360.0 C635.5,367.2 634.4,378.2 634.0,386.0 C633.6,393.8 633.7,399.8 634.3,406.7 C634.9,413.6 636.0,419.9 637.7,427.2 C639.4,434.5 641.7,443.4 644.3,450.7 C646.9,458.0 649.7,464.4 653.1,471.2 C656.5,478.0 660.4,485.1 664.8,491.7 C669.2,498.3 674.1,504.9 679.5,510.7 C684.9,516.5 691.5,522.6 697.0,526.8 C702.5,530.9 710.2,534.1 712.8,535.6 C710.9,533.4 704.5,527.3 701.4,522.4 C698.3,517.5 696.2,512.9 694.1,506.3 C692.0,499.7 690.2,491.7 689.0,482.9 C687.8,474.1 687.0,465.8 686.8,453.6 C686.5,441.4 687.4,423.7 687.5,409.6 C687.6,395.5 687.6,380.1 687.5,368.9 C687.4,357.7 686.8,350.6 686.8,342.5 C686.8,334.4 687.0,327.9 687.5,320.6 C688.0,313.3 688.5,305.9 689.7,298.6 C690.9,291.3 692.6,283.2 694.8,276.6 C697.0,270.0 699.8,264.1 702.9,259.0 C706.0,253.9 711.4,248.3 713.1,246.2 Z" fill="#68c8fc" stroke="#ffffff" stroke-width="3.0"/><path d="M713.1,246.2 C710.4,247.8 702.4,252.0 697.0,256.1 C691.6,260.2 686.0,265.4 680.9,270.8 C675.8,276.2 670.7,282.5 666.3,288.3 C661.9,294.1 657.9,299.8 654.5,305.9 C651.1,312.0 648.2,318.9 645.8,325.0 C643.4,331.1 641.4,336.7 639.9,342.5 C638.4,348.3 637.5,352.8 636.5,360.0 C635.5,367.2 634.4,378.2 634.0,386.0 C633.6,393.8 633.7,399.8 634.3,406.7 C634.9,413.6 636.0,419.9 637.7,427.2 C639.4,434.5 641.7,443.4 644.3,450.7 C646.9,458.0 649.7,464.4 653.1,471.2 C656.5,478.0 660.4,485.1 664.8,491.7 C669.2,498.3 674.1,504.9 679.5,510.7 C684.9,516.5 691.5,522.6 697.0,526.8 C702.5,530.9 710.2,534.1 712.8,535.6 " fill="none" stroke="#ffffff" stroke-width="6.4"/></g>
<path d="M713.1,246.2 C710.4,247.8 702.4,252.0 697.0,256.1 C691.6,260.2 686.0,265.4 680.9,270.8 C675.8,276.2 670.7,282.5 666.3,288.3 C661.9,294.1 657.9,299.8 654.5,305.9 C651.1,312.0 648.2,318.9 645.8,325.0 C643.4,331.1 641.4,336.7 639.9,342.5 C638.4,348.3 637.5,352.8 636.5,360.0 C635.5,367.2 634.4,378.2 634.0,386.0 C633.6,393.8 633.7,399.8 634.3,406.7 C634.9,413.6 636.0,419.9 637.7,427.2 C639.4,434.5 641.7,443.4 644.3,450.7 C646.9,458.0 649.7,464.4 653.1,471.2 C656.5,478.0 660.4,485.1 664.8,491.7 C669.2,498.3 674.1,504.9 679.5,510.7 C684.9,516.5 691.5,522.6 697.0,526.8 C702.5,530.9 710.2,534.1 712.8,535.6 C710.9,533.4 704.5,527.3 701.4,522.4 C698.3,517.5 696.2,512.9 694.1,506.3 C692.0,499.7 690.2,491.7 689.0,482.9 C687.8,474.1 687.0,465.8 686.8,453.6 C686.5,441.4 687.4,423.7 687.5,409.6 C687.6,395.5 687.6,380.1 687.5,368.9 C687.4,357.7 686.8,350.6 686.8,342.5 C686.8,334.4 687.0,327.9 687.5,320.6 C688.0,313.3 688.5,305.9 689.7,298.6 C690.9,291.3 692.6,283.2 694.8,276.6 C697.0,270.0 699.8,264.1 702.9,259.0 C706.0,253.9 711.4,248.3 713.1,246.2 Z" fill="none" stroke="#ffffff" stroke-width="0.6"/>
<g clip-path="url(#cr4)"><path d="M795.2,253.8 C798.5,256.4 808.9,263.2 815.2,269.6 C821.5,276.0 827.3,284.3 832.8,291.9 C838.3,299.5 843.7,307.5 848.0,315.3 C852.3,323.1 855.4,330.5 858.5,338.8 C861.6,347.1 864.8,355.6 866.8,365.0 C868.8,374.4 870.0,384.2 870.3,395.0 C870.6,405.8 869.6,420.3 868.5,430.0 C867.4,439.7 866.0,445.6 863.8,453.4 C861.5,461.2 858.8,469.1 855.0,476.9 C851.2,484.7 846.7,492.5 841.0,500.3 C835.3,508.1 826.7,517.9 821.0,523.8 C815.3,529.7 811.8,531.9 807.0,535.5 C802.2,539.1 794.8,543.8 792.3,545.5 C794.0,543.8 799.6,539.1 802.3,535.5 C805.0,531.9 806.8,529.7 808.7,523.8 C810.7,517.9 812.9,508.1 814.0,500.3 C815.1,492.5 815.2,488.6 815.2,476.9 C815.2,465.2 814.2,448.6 814.0,430.0 C813.8,411.4 813.9,380.2 814.0,365.0 C814.1,349.8 814.6,347.1 814.6,338.8 C814.6,330.5 814.7,323.1 814.0,315.3 C813.3,307.5 812.3,299.7 810.5,291.9 C808.7,284.1 805.9,274.8 803.4,268.4 C800.9,262.0 796.6,256.2 795.2,253.8 Z" fill="#68c8fc" stroke="#ffffff" stroke-width="3.0"/><path d="M795.2,253.8 C798.5,256.4 808.9,263.2 815.2,269.6 C821.5,276.0 827.3,284.3 832.8,291.9 C838.3,299.5 843.7,307.5 848.0,315.3 C852.3,323.1 855.4,330.5 858.5,338.8 C861.6,347.1 864.8,355.6 866.8,365.0 C868.8,374.4 870.0,384.2 870.3,395.0 C870.6,405.8 869.6,420.3 868.5,430.0 C867.4,439.7 866.0,445.6 863.8,453.4 C861.5,461.2 858.8,469.1 855.0,476.9 C851.2,484.7 846.7,492.5 841.0,500.3 C835.3,508.1 826.7,517.9 821.0,523.8 C815.3,529.7 811.8,531.9 807.0,535.5 C802.2,539.1 794.8,543.8 792.3,545.5 " fill="none" stroke="#ffffff" stroke-width="6.4"/></g>
<path d="M795.2,253.8 C798.5,256.4 808.9,263.2 815.2,269.6 C821.5,276.0 827.3,284.3 832.8,291.9 C838.3,299.5 843.7,307.5 848.0,315.3 C852.3,323.1 855.4,330.5 858.5,338.8 C861.6,347.1 864.8,355.6 866.8,365.0 C868.8,374.4 870.0,384.2 870.3,395.0 C870.6,405.8 869.6,420.3 868.5,430.0 C867.4,439.7 866.0,445.6 863.8,453.4 C861.5,461.2 858.8,469.1 855.0,476.9 C851.2,484.7 846.7,492.5 841.0,500.3 C835.3,508.1 826.7,517.9 821.0,523.8 C815.3,529.7 811.8,531.9 807.0,535.5 C802.2,539.1 794.8,543.8 792.3,545.5 C794.0,543.8 799.6,539.1 802.3,535.5 C805.0,531.9 806.8,529.7 808.7,523.8 C810.7,517.9 812.9,508.1 814.0,500.3 C815.1,492.5 815.2,488.6 815.2,476.9 C815.2,465.2 814.2,448.6 814.0,430.0 C813.8,411.4 813.9,380.2 814.0,365.0 C814.1,349.8 814.6,347.1 814.6,338.8 C814.6,330.5 814.7,323.1 814.0,315.3 C813.3,307.5 812.3,299.7 810.5,291.9 C808.7,284.1 805.9,274.8 803.4,268.4 C800.9,262.0 796.6,256.2 795.2,253.8 Z" fill="none" stroke="#ffffff" stroke-width="0.6"/>
<g clip-path="url(#cr5)"><path d="M428.0,620.0 C425.2,621.4 416.9,624.6 411.2,628.1 C405.5,631.6 399.0,636.4 393.6,641.3 C388.2,646.2 383.5,651.5 378.9,657.4 C374.3,663.2 369.4,670.0 365.8,676.4 C362.2,682.8 359.4,689.1 357.0,695.5 C354.6,701.9 352.6,708.1 351.1,714.5 C349.6,720.9 348.8,727.4 348.2,733.6 C347.6,739.9 347.3,746.4 347.5,752.0 C347.7,757.6 348.4,760.8 349.6,767.0 C350.8,773.2 352.6,781.7 354.8,789.0 C357.0,796.3 359.5,803.6 362.8,810.9 C366.1,818.2 370.1,825.8 374.5,832.9 C378.9,840.0 383.8,847.0 389.2,853.4 C394.6,859.8 400.8,866.0 406.8,871.0 C412.8,876.0 422.1,881.3 425.1,883.4 C423.0,880.6 416.0,873.1 412.6,866.6 C409.2,860.1 406.7,852.7 404.6,844.6 C402.5,836.5 401.2,827.5 400.2,818.2 C399.2,808.9 398.9,800.0 398.7,789.0 C398.5,778.0 399.2,764.4 399.2,752.0 C399.2,739.6 398.6,724.2 398.7,714.5 C398.8,704.8 398.9,700.8 399.5,694.0 C400.1,687.2 400.9,680.3 402.4,673.5 C403.8,666.7 405.8,659.6 408.2,653.0 C410.6,646.4 413.7,639.5 417.0,634.0 C420.3,628.5 426.2,622.3 428.0,620.0 Z" fill="#68c8fc" stroke="#ffffff" stroke-width="3.0"/><path d="M428.0,620.0 C425.2,621.4 416.9,624.6 411.2,628.1 C405.5,631.6 399.0,636.4 393.6,641.3 C388.2,646.2 383.5,651.5 378.9,657.4 C374.3,663.2 369.4,670.0 365.8,676.4 C362.2,682.8 359.4,689.1 357.0,695.5 C354.6,701.9 352.6,708.1 351.1,714.5 C349.6,720.9 348.8,727.4 348.2,733.6 C347.6,739.9 347.3,746.4 347.5,752.0 C347.7,757.6 348.4,760.8 349.6,767.0 C350.8,773.2 352.6,781.7 354.8,789.0 C357.0,796.3 359.5,803.6 362.8,810.9 C366.1,818.2 370.1,825.8 374.5,832.9 C378.9,840.0 383.8,847.0 389.2,853.4 C394.6,859.8 400.8,866.0 406.8,871.0 C412.8,876.0 422.1,881.3 425.1,883.4 " fill="none" stroke="#ffffff" stroke-width="6.4"/></g>
<path d="M428.0,620.0 C425.2,621.4 416.9,624.6 411.2,628.1 C405.5,631.6 399.0,636.4 393.6,641.3 C388.2,646.2 383.5,651.5 378.9,657.4 C374.3,663.2 369.4,670.0 365.8,676.4 C362.2,682.8 359.4,689.1 357.0,695.5 C354.6,701.9 352.6,708.1 351.1,714.5 C349.6,720.9 348.8,727.4 348.2,733.6 C347.6,739.9 347.3,746.4 347.5,752.0 C347.7,757.6 348.4,760.8 349.6,767.0 C350.8,773.2 352.6,781.7 354.8,789.0 C357.0,796.3 359.5,803.6 362.8,810.9 C366.1,818.2 370.1,825.8 374.5,832.9 C378.9,840.0 383.8,847.0 389.2,853.4 C394.6,859.8 400.8,866.0 406.8,871.0 C412.8,876.0 422.1,881.3 425.1,883.4 C423.0,880.6 416.0,873.1 412.6,866.6 C409.2,860.1 406.7,852.7 404.6,844.6 C402.5,836.5 401.2,827.5 400.2,818.2 C399.2,808.9 398.9,800.0 398.7,789.0 C398.5,778.0 399.2,764.4 399.2,752.0 C399.2,739.6 398.6,724.2 398.7,714.5 C398.8,704.8 398.9,700.8 399.5,694.0 C400.1,687.2 400.9,680.3 402.4,673.5 C403.8,666.7 405.8,659.6 408.2,653.0 C410.6,646.4 413.7,639.5 417.0,634.0 C420.3,628.5 426.2,622.3 428.0,620.0 Z" fill="none" stroke="#ffffff" stroke-width="0.6"/>
<g clip-path="url(#cr6)"><path d="M712.4,620.8 C709.8,622.3 702.2,625.9 697.0,629.6 C691.8,633.3 686.0,637.9 680.9,642.8 C675.8,647.7 670.7,653.3 666.3,658.9 C661.9,664.5 658.2,670.3 654.5,676.4 C650.8,682.5 647.0,689.9 644.3,695.5 C641.6,701.1 640.1,704.5 638.4,710.1 C636.7,715.7 635.2,723.4 634.3,729.2 C633.4,735.0 633.1,740.5 633.0,745.0 C632.9,749.5 633.0,750.4 633.5,756.0 C634.0,761.6 634.8,771.2 636.2,778.7 C637.6,786.2 639.5,793.1 642.1,800.7 C644.7,808.3 647.8,816.6 651.6,824.1 C655.4,831.6 659.9,839.2 664.8,846.0 C669.7,852.8 675.3,859.2 680.9,865.1 C686.5,871.0 692.9,876.9 698.5,881.2 C704.1,885.5 711.9,889.1 714.6,890.7 C712.6,888.9 706.2,885.0 702.9,879.8 C699.6,874.6 697.0,867.1 694.8,859.3 C692.6,851.5 690.9,842.2 689.7,832.9 C688.5,823.6 687.9,816.0 687.5,803.6 C687.1,791.2 687.5,773.4 687.5,758.5 C687.5,743.6 687.4,725.2 687.5,714.5 C687.6,703.8 687.7,700.8 688.2,694.0 C688.7,687.2 689.3,680.3 690.4,673.5 C691.5,666.7 692.7,659.6 694.8,653.0 C696.9,646.4 700.0,639.4 702.9,634.0 C705.8,628.6 710.8,623.0 712.4,620.8 Z" fill="#68c8fc" stroke="#ffffff" stroke-width="3.0"/><path d="M712.4,620.8 C709.8,622.3 702.2,625.9 697.0,629.6 C691.8,633.3 686.0,637.9 680.9,642.8 C675.8,647.7 670.7,653.3 666.3,658.9 C661.9,664.5 658.2,670.3 654.5,676.4 C650.8,682.5 647.0,689.9 644.3,695.5 C641.6,701.1 640.1,704.5 638.4,710.1 C636.7,715.7 635.2,723.4 634.3,729.2 C633.4,735.0 633.1,740.5 633.0,745.0 C632.9,749.5 633.0,750.4 633.5,756.0 C634.0,761.6 634.8,771.2 636.2,778.7 C637.6,786.2 639.5,793.1 642.1,800.7 C644.7,808.3 647.8,816.6 651.6,824.1 C655.4,831.6 659.9,839.2 664.8,846.0 C669.7,852.8 675.3,859.2 680.9,865.1 C686.5,871.0 692.9,876.9 698.5,881.2 C704.1,885.5 711.9,889.1 714.6,890.7 " fill="none" stroke="#ffffff" stroke-width="6.4"/></g>
<path d="M712.4,620.8 C709.8,622.3 702.2,625.9 697.0,629.6 C691.8,633.3 686.0,637.9 680.9,642.8 C675.8,647.7 670.7,653.3 666.3,658.9 C661.9,664.5 658.2,670.3 654.5,676.4 C650.8,682.5 647.0,689.9 644.3,695.5 C641.6,701.1 640.1,704.5 638.4,710.1 C636.7,715.7 635.2,723.4 634.3,729.2 C633.4,735.0 633.1,740.5 633.0,745.0 C632.9,749.5 633.0,750.4 633.5,756.0 C634.0,761.6 634.8,771.2 636.2,778.7 C637.6,786.2 639.5,793.1 642.1,800.7 C644.7,808.3 647.8,816.6 651.6,824.1 C655.4,831.6 659.9,839.2 664.8,846.0 C669.7,852.8 675.3,859.2 680.9,865.1 C686.5,871.0 692.9,876.9 698.5,881.2 C704.1,885.5 711.9,889.1 714.6,890.7 C712.6,888.9 706.2,885.0 702.9,879.8 C699.6,874.6 697.0,867.1 694.8,859.3 C692.6,851.5 690.9,842.2 689.7,832.9 C688.5,823.6 687.9,816.0 687.5,803.6 C687.1,791.2 687.5,773.4 687.5,758.5 C687.5,743.6 687.4,725.2 687.5,714.5 C687.6,703.8 687.7,700.8 688.2,694.0 C688.7,687.2 689.3,680.3 690.4,673.5 C691.5,666.7 692.7,659.6 694.8,653.0 C696.9,646.4 700.0,639.4 702.9,634.0 C705.8,628.6 710.8,623.0 712.4,620.8 Z" fill="none" stroke="#ffffff" stroke-width="0.6"/>
<g clip-path="url(#cr7)"><path d="M798.6,622.3 C801.4,624.2 809.9,629.4 815.4,634.0 C820.9,638.6 826.9,644.5 831.5,650.1 C836.1,655.7 839.7,661.4 843.2,667.7 C846.8,674.1 850.1,681.6 852.8,688.2 C855.5,694.8 857.6,700.4 859.4,707.2 C861.2,714.0 862.7,721.7 863.7,729.2 C864.7,736.7 865.3,745.7 865.2,752.0 C865.1,758.3 864.2,760.8 863.0,767.0 C861.8,773.2 860.2,781.9 857.9,789.0 C855.6,796.1 852.8,802.6 849.1,809.4 C845.4,816.2 840.8,823.1 835.9,830.0 C831.0,836.9 825.6,843.9 819.8,850.5 C813.9,857.1 807.0,864.1 800.8,869.5 C794.6,874.9 785.5,880.5 782.5,882.7 C785.0,879.8 793.8,871.5 797.8,865.1 C801.8,858.8 804.3,852.4 806.6,844.6 C808.9,836.8 810.5,827.5 811.7,818.2 C812.9,808.9 813.5,800.0 813.9,789.0 C814.3,778.0 813.9,770.5 813.9,752.0 C813.9,733.5 814.3,693.9 813.9,677.9 C813.5,661.9 812.9,663.1 811.7,656.0 C810.5,648.9 808.8,641.0 806.6,635.4 C804.4,629.8 799.9,624.5 798.6,622.3 Z" fill="#68c8fc" stroke="#ffffff" stroke-width="3.0"/><path d="M798.6,622.3 C801.4,624.2 809.9,629.4 815.4,634.0 C820.9,638.6 826.9,644.5 831.5,650.1 C836.1,655.7 839.7,661.4 843.2,667.7 C846.8,674.1 850.1,681.6 852.8,688.2 C855.5,694.8 857.6,700.4 859.4,707.2 C861.2,714.0 862.7,721.7 863.7,729.2 C864.7,736.7 865.3,745.7 865.2,752.0 C865.1,758.3 864.2,760.8 863.0,767.0 C861.8,773.2 860.2,781.9 857.9,789.0 C855.6,796.1 852.8,802.6 849.1,809.4 C845.4,816.2 840.8,823.1 835.9,830.0 C831.0,836.9 825.6,843.9 819.8,850.5 C813.9,857.1 807.0,864.1 800.8,869.5 C794.6,874.9 785.5,880.5 782.5,882.7 " fill="none" stroke="#ffffff" stroke-width="6.4"/></g>
<path d="M798.6,622.3 C801.4,624.2 809.9,629.4 815.4,634.0 C820.9,638.6 826.9,644.5 831.5,650.1 C836.1,655.7 839.7,661.4 843.2,667.7 C846.8,674.1 850.1,681.6 852.8,688.2 C855.5,694.8 857.6,700.4 859.4,707.2 C861.2,714.0 862.7,721.7 863.7,729.2 C864.7,736.7 865.3,745.7 865.2,752.0 C865.1,758.3 864.2,760.8 863.0,767.0 C861.8,773.2 860.2,781.9 857.9,789.0 C855.6,796.1 852.8,802.6 849.1,809.4 C845.4,816.2 840.8,823.1 835.9,830.0 C831.0,836.9 825.6,843.9 819.8,850.5 C813.9,857.1 807.0,864.1 800.8,869.5 C794.6,874.9 785.5,880.5 782.5,882.7 C785.0,879.8 793.8,871.5 797.8,865.1 C801.8,858.8 804.3,852.4 806.6,844.6 C808.9,836.8 810.5,827.5 811.7,818.2 C812.9,808.9 813.5,800.0 813.9,789.0 C814.3,778.0 813.9,770.5 813.9,752.0 C813.9,733.5 814.3,693.9 813.9,677.9 C813.5,661.9 812.9,663.1 811.7,656.0 C810.5,648.9 808.8,641.0 806.6,635.4 C804.4,629.8 799.9,624.5 798.6,622.3 Z" fill="none" stroke="#ffffff" stroke-width="0.6"/>
<path d="M333,355 L345,366 V413 L333,413 L338,400 L295,400 V395 H345 Z" fill="#68c8fc"/>
<path d="M295,395 H383 V403 H295 Z" fill="#68c8fc"/>
<path d="M295,381 H383 V363 L407,388.5 L383,415 V395 H295 Z" fill="#ffffff"/>
<path d="M609,388.5 L633,363 V382 H678 V363 L703,388.5 L678,415 V395 H633 V415 Z" fill="#ffffff"/>
<path d="M352.6,743 H399.5 V749.5 H353.5 Z" fill="#4aa9ec"/>
<path d="M352.6,731.4 H399.5 V713 L424.4,737.7 L399.5,762.4 V743.1 H352.6 Z" fill="#ffffff"/>
<path d="M607.5,737.7 L632.6,712.3 V731.4 H683.8 V743.1 H632.6 V763 Z" fill="#ffffff"/>
<g transform="translate(245,229) scale(1.0,1.0)">
<path d="M-13.6,40 L-13.6,55 C-14,60 -22,61 -30,63 C-37,65 -40,70 -40,82 C-40,120 -37,150 -35,170 C-34,180 -33,190 -31,196 C-29,201 -24,201 -22,197 L-24.5,204 C-23,218 -20.5,228 -21,238 C-25,243 -31,247 -31,257 C-31,276 -26,296 -23.5,312 C-24,318 -30,320 -29.4,326 C-28,331 -15,332 -2,332 C8,333 17,331 16.3,327 C20,328 28,327 29.6,323 C30,319 20,316 13,311 C6,306 4.5,296 5.5,282 C6,268 8,260 9.7,252 C11,245 12,241 13,236 C16,228 19,222 21,216 C24,208 26,200 27,192 C29,196 35,197 38,192 C40,187 40,180 38.5,170 C38,140 38.5,110 38,82 C38,70 36,66 30,64 C24,62 10,62 8.8,57 L8.8,46 Z" fill="#fdd3ba" stroke="#fff1e6" stroke-width="2.2" stroke-linejoin="round"/>
<g><path d="M-20,91 C-21,120 -20,150 -17.5,172 C-15,180 -15,190 -17,197 M29,87 C29.5,120 30,150 30,172 M9.7,170 C6,200 -2,225 -5.3,240 C-9,255 -11,275 -9,300 C-8,312 0,320 10,322 M-19,92 C-16,97 -8,98 -3,95 " fill="none" stroke="#6a1a08" stroke-width="1.25" stroke-linecap="round"/><path d="M-25,67 H-15 M3,67 H13" stroke="#c8502f" stroke-width="1.3" fill="none"/><path d="M-21,239 h8 M-2,237 h7" stroke="#e08a70" stroke-width="1" fill="none"/><circle cx="-11" cy="94" r="1.5" fill="#6a1a08"/><circle cx="21" cy="95" r="1.5" fill="#6a1a08"/><circle cx="8" cy="138" r="1.3" fill="#6a1a08"/></g>
</g>
<g transform="translate(245,229) scale(1.0)">
<path d="M-13.6,28 L-13.6,42 L-6,44 C0,47 6,49.5 11.3,48.5 C14,48 15,45 15.5,42 L16.5,38 L15.2,35.5 L18.2,31.5 L15.5,24 L15,9 L-7,8 Z" fill="#fdd3ba" stroke="#fff1e6" stroke-width="1.6" stroke-linejoin="round"/>
<g><path d="M-9,40 C-3,46 5,49.5 11.3,48.5 M15,22 L18.2,31.5 L15.2,35.5 M15.5,40 h-3" fill="none" stroke="#6a1a08" stroke-width="1.2" stroke-linecap="round"/><path d="M4,19.5 h6.5" stroke="#6a1a08" stroke-width="1.4" stroke-linecap="round"/></g>
<path d="M-18.6,29 C-22,22 -22,12 -18,7 C-13,0 -2,-1.5 5,0.5 C10,1.5 14,3 16.5,4.3 C14,8.5 9,10.5 -4,12 L-5.5,27 L-7.5,28.5 C-10,25 -14,27 -18.6,29 Z" fill="#68c8fc"/>
</g>
<g transform="translate(462,228) scale(1.0,1.0)">
<path d="M-13.6,40 L-13.6,55 C-14,60 -22,61 -30,63 C-37,65 -40,70 -40,82 C-40,120 -37,150 -35,170 C-34,180 -33,190 -31,196 C-29,201 -24,201 -22,197 L-24.5,204 C-23,218 -20.5,228 -21,238 C-25,243 -31,247 -31,257 C-31,276 -26,296 -23.5,312 C-24,318 -30,320 -29.4,326 C-28,331 -15,332 -2,332 C8,333 17,331 16.3,327 C20,328 28,327 29.6,323 C30,319 20,316 13,311 C6,306 4.5,296 5.5,282 C6,268 8,260 9.7,252 C11,245 12,241 13,236 C16,228 19,222 21,216 C24,208 26,200 27,192 C29,196 35,197 38,192 C40,187 40,180 38.5,170 C38,140 38.5,110 38,82 C38,70 36,66 30,64 C24,62 10,62 8.8,57 L8.8,46 Z" fill="#fdd3ba" stroke="#fff1e6" stroke-width="2.2" stroke-linejoin="round"/>
<g clip-path="url(#bodyclip)">
<path d="M-42,60 L-15,60 L-15,38 L10,38 L10,64 L14,100 L26,100 L28,150 L12,170 L-8,168 L-20,150 L-20,130 L-42,125 Z" fill="url(#pdense)"/>
</g>
<circle cx="-26" cy="112" r="2.6" fill="#fbd0c0" stroke="#ee3b30" stroke-width="1.4"/>
<circle cx="-25" cy="127" r="2.6" fill="#fbd0c0" stroke="#ee3b30" stroke-width="1.4"/>
<circle cx="-24" cy="143" r="2.6" fill="#fbd0c0" stroke="#ee3b30" stroke-width="1.4"/>
<circle cx="-6" cy="160" r="2.6" fill="#fbd0c0" stroke="#ee3b30" stroke-width="1.4"/>
<circle cx="-2" cy="178" r="2.6" fill="#fbd0c0" stroke="#ee3b30" stroke-width="1.4"/>
<circle cx="2" cy="190" r="2.6" fill="#fbd0c0" stroke="#ee3b30" stroke-width="1.4"/>
<circle cx="22" cy="164" r="2.6" fill="#fbd0c0" stroke="#ee3b30" stroke-width="1.4"/>
<circle cx="26" cy="148" r="2.6" fill="#fbd0c0" stroke="#ee3b30" stroke-width="1.4"/>
<g><path d="M-20,91 C-21,120 -20,150 -17.5,172 C-15,180 -15,190 -17,197 M29,87 C29.5,120 30,150 30,172 M9.7,170 C6,200 -2,225 -5.3,240 C-9,255 -11,275 -9,300 C-8,312 0,320 10,322 M-19,92 C-16,97 -8,98 -3,95 " fill="none" stroke="#6a1a08" stroke-width="1.25" stroke-linecap="round"/><path d="M-25,67 H-15 M3,67 H13" stroke="#c8502f" stroke-width="1.3" fill="none"/><path d="M-21,239 h8 M-2,237 h7" stroke="#e08a70" stroke-width="1" fill="none"/><circle cx="-11" cy="94" r="1.5" fill="#6a1a08"/><circle cx="21" cy="95" r="1.5" fill="#6a1a08"/><circle cx="8" cy="138" r="1.3" fill="#6a1a08"/></g>
</g>
<g transform="translate(462,228) scale(1.0)">
<path d="M-13.6,28 L-13.6,42 L-6,44 C0,47 6,49.5 11.3,48.5 C14,48 15,45 15.5,42 L16.5,38 L15.2,35.5 L18.2,31.5 L15.5,24 L15,9 L-7,8 Z" fill="#fdd3ba" stroke="#fff1e6" stroke-width="1.6" stroke-linejoin="round"/>
<g clip-path="url(#headclip)"><path d="M-15,30 L-5,28 L-4,13 L20,13 L20,50 L-15,50 Z" fill="url(#pdense)"/></g>
<g><path d="M-9,40 C-3,46 5,49.5 11.3,48.5 M15,22 L18.2,31.5 L15.2,35.5 M15.5,40 h-3" fill="none" stroke="#6a1a08" stroke-width="1.2" stroke-linecap="round"/><path d="M4,19.5 h6.5" stroke="#6a1a08" stroke-width="1.4" stroke-linecap="round"/></g>
<path d="M-18.6,29 C-22,22 -22,12 -18,7 C-13,0 -2,-1.5 5,0.5 C10,1.5 14,3 16.5,4.3 C14,8.5 9,10.5 -4,12 L-5.5,27 L-7.5,28.5 C-10,25 -14,27 -18.6,29 Z" fill="#68c8fc"/>
</g>
<g transform="translate(567,229) scale(1.0,1.0)">
<path d="M-13.6,40 L-13.6,55 C-14,60 -22,61 -30,63 C-37,65 -40,70 -40,82 C-40,120 -37,150 -35,170 C-34,180 -33,190 -31,196 C-29,201 -24,201 -22,197 L-24.5,204 C-23,218 -20.5,228 -21,238 C-25,243 -31,247 -31,257 C-31,276 -26,296 -23.5,312 C-24,318 -30,320 -29.4,326 C-28,331 -15,332 -2,332 C8,333 17,331 16.3,327 C20,328 28,327 29.6,323 C30,319 20,316 13,311 C6,306 4.5,296 5.5,282 C6,268 8,260 9.7,252 C11,245 12,241 13,236 C16,228 19,222 21,216 C24,208 26,200 27,192 C29,196 35,197 38,192 C40,187 40,180 38.5,170 C38,140 38.5,110 38,82 C38,70 36,66 30,64 C24,62 10,62 8.8,57 L8.8,46 Z" fill="#fdd3ba" stroke="#fff1e6" stroke-width="2.2" stroke-linejoin="round"/>
<g clip-path="url(#bodyclip)">
<path d="M-42,60 L-15,60 L-15,38 L10,38 L8,56 L-2,62 L-14,70 L-24,100 L-42,112 Z" fill="url(#pdense)"/>
</g>
<circle cx="-5" cy="70" r="2.6" fill="#fbd0c0" stroke="#ee3b30" stroke-width="1.4"/>
<circle cx="-30" cy="98" r="2.6" fill="#fbd0c0" stroke="#ee3b30" stroke-width="1.4"/>
<circle cx="-34" cy="109" r="2.6" fill="#fbd0c0" stroke="#ee3b30" stroke-width="1.4"/>
<circle cx="-30" cy="117" r="2.6" fill="#fbd0c0" stroke="#ee3b30" stroke-width="1.4"/>
<circle cx="-12" cy="122" r="2.6" fill="#fbd0c0" stroke="#ee3b30" stroke-width="1.4"/>
<circle cx="-4" cy="111" r="2.6" fill="#fbd0c0" stroke="#ee3b30" stroke-width="1.4"/>
<circle cx="-16" cy="96" r="2.6" fill="#fbd0c0" stroke="#ee3b30" stroke-width="1.4"/>
<circle cx="5" cy="137" r="2.6" fill="#fbd0c0" stroke="#ee3b30" stroke-width="1.4"/>
<circle cx="-10" cy="163" r="2.6" fill="#fbd0c0" stroke="#ee3b30" stroke-width="1.4"/>
<circle cx="4" cy="163" r="2.6" fill="#fbd0c0" stroke="#ee3b30" stroke-width="1.4"/>
<g><path d="M-20,91 C-21,120 -20,150 -17.5,172 C-15,180 -15,190 -17,197 M29,87 C29.5,120 30,150 30,172 M9.7,170 C6,200 -2,225 -5.3,240 C-9,255 -11,275 -9,300 C-8,312 0,320 10,322 M-19,92 C-16,97 -8,98 -3,95 " fill="none" stroke="#6a1a08" stroke-width="1.25" stroke-linecap="round"/><path d="M-25,67 H-15 M3,67 H13" stroke="#c8502f" stroke-width="1.3" fill="none"/><path d="M-21,239 h8 M-2,237 h7" stroke="#e08a70" stroke-width="1" fill="none"/><circle cx="-11" cy="94" r="1.5" fill="#6a1a08"/><circle cx="21" cy="95" r="1.5" fill="#6a1a08"/><circle cx="8" cy="138" r="1.3" fill="#6a1a08"/></g>
</g>
<g transform="translate(567,229) scale(1.0)">
<path d="M-13.6,28 L-13.6,42 L-6,44 C0,47 6,49.5 11.3,48.5 C14,48 15,45 15.5,42 L16.5,38 L15.2,35.5 L18.2,31.5 L15.5,24 L15,9 L-7,8 Z" fill="#fdd3ba" stroke="#fff1e6" stroke-width="1.6" stroke-linejoin="round"/>
<g clip-path="url(#headclip)"><path d="M-15,30 L-5,28 L-4,13 L20,13 L20,50 L-15,50 Z" fill="url(#pdense)"/></g>
<g><path d="M-9,40 C-3,46 5,49.5 11.3,48.5 M15,22 L18.2,31.5 L15.2,35.5 M15.5,40 h-3" fill="none" stroke="#6a1a08" stroke-width="1.2" stroke-linecap="round"/><path d="M4,19.5 h6.5" stroke="#6a1a08" stroke-width="1.4" stroke-linecap="round"/></g>
<path d="M-18.6,29 C-22,22 -22,12 -18,7 C-13,0 -2,-1.5 5,0.5 C10,1.5 14,3 16.5,4.3 C14,8.5 9,10.5 -4,12 L-5.5,27 L-7.5,28.5 C-10,25 -14,27 -18.6,29 Z" fill="#8dd4fb"/>
<path d="M-17,12 C-10,6 0,5 11,7.5 M-18,18 C-10,11 0,10 6,11.5 M-18,24 C-14,19 -9,17 -5,17" stroke="#e8f6fe" stroke-width="1.1" fill="none"/>
</g>
<g transform="translate(753,229) scale(1.0,1.0)">
<path d="M-13.6,40 L-13.6,55 C-14,60 -22,61 -30,63 C-37,65 -40,70 -40,82 C-40,120 -37,150 -35,170 C-34,180 -33,190 -31,196 C-29,201 -24,201 -22,197 L-24.5,204 C-23,218 -20.5,228 -21,238 C-25,243 -31,247 -31,257 C-31,276 -26,296 -23.5,312 C-24,318 -30,320 -29.4,326 C-28,331 -15,332 -2,332 C8,333 17,331 16.3,327 C20,328 28,327 29.6,323 C30,319 20,316 13,311 C6,306 4.5,296 5.5,282 C6,268 8,260 9.7,252 C11,245 12,241 13,236 C16,228 19,222 21,216 C24,208 26,200 27,192 C29,196 35,197 38,192 C40,187 40,180 38.5,170 C38,140 38.5,110 38,82 C38,70 36,66 30,64 C24,62 10,62 8.8,57 L8.8,46 Z" fill="#fdd3ba" stroke="#fff1e6" stroke-width="2.2" stroke-linejoin="round"/>
<g clip-path="url(#bodyclip)"><path d="M-15,38 L10,38 L10,60 L-15,60 Z" fill="url(#pdense)"/></g>
<circle cx="5" cy="118" r="1.2" fill="#d8402c"/><circle cx="11" cy="119" r="1.2" fill="#d8402c"/>
<g><path d="M-20,91 C-21,120 -20,150 -17.5,172 C-15,180 -15,190 -17,197 M29,87 C29.5,120 30,150 30,172 M9.7,170 C6,200 -2,225 -5.3,240 C-9,255 -11,275 -9,300 C-8,312 0,320 10,322 M-19,92 C-16,97 -8,98 -3,95 " fill="none" stroke="#6a1a08" stroke-width="1.25" stroke-linecap="round"/><path d="M-25,67 H-15 M3,67 H13" stroke="#c8502f" stroke-width="1.3" fill="none"/><path d="M-21,239 h8 M-2,237 h7" stroke="#e08a70" stroke-width="1" fill="none"/><circle cx="-11" cy="94" r="1.5" fill="#6a1a08"/><circle cx="21" cy="95" r="1.5" fill="#6a1a08"/><circle cx="8" cy="138" r="1.3" fill="#6a1a08"/></g>
</g>
<g transform="translate(753,229) scale(1.0)">
<path d="M-13.6,28 L-13.6,42 L-6,44 C0,47 6,49.5 11.3,48.5 C14,48 15,45 15.5,42 L16.5,38 L15.2,35.5 L18.2,31.5 L15.5,24 L15,9 L-7,8 Z" fill="#fdd3ba" stroke="#fff1e6" stroke-width="1.6" stroke-linejoin="round"/>
<g clip-path="url(#headclip)"><path d="M-15,30 L-5,28 L-4,13 L20,13 L20,50 L-15,50 Z" fill="url(#pdense)"/></g>
<g><path d="M-9,40 C-3,46 5,49.5 11.3,48.5 M15,22 L18.2,31.5 L15.2,35.5 M15.5,40 h-3" fill="none" stroke="#6a1a08" stroke-width="1.2" stroke-linecap="round"/><path d="M4,19.5 h6.5" stroke="#6a1a08" stroke-width="1.4" stroke-linecap="round"/></g>
<path d="M-18.6,29 C-22,22 -22,12 -18,7 C-13,0 -2,-1.5 5,0.5 C10,1.5 14,3 16.5,4.3 C14,8.5 9,10.5 -4,12 L-5.5,27 L-7.5,28.5 C-10,25 -14,27 -18.6,29 Z" fill="#8dd4fb"/>
<path d="M-17,12 C-10,6 0,5 11,7.5 M-18,18 C-10,11 0,10 6,11.5 M-18,24 C-14,19 -9,17 -5,17" stroke="#e8f6fe" stroke-width="1.1" fill="none"/>
</g>
<g transform="translate(468.5,607) scale(0.94,0.967)">
<path d="M-13.6,40 L-13.6,55 C-14,60 -22,61 -30,63 C-37,65 -40,70 -40,82 C-40,120 -37,150 -35,170 C-34,180 -33,190 -31,196 C-29,201 -24,201 -22,197 L-24.5,204 C-23,218 -20.5,228 -21,238 C-25,243 -31,247 -31,257 C-31,276 -26,296 -23.5,312 C-24,318 -30,320 -29.4,326 C-28,331 -15,332 -2,332 C8,333 17,331 16.3,327 C20,328 28,327 29.6,323 C30,319 20,316 13,311 C6,306 4.5,296 5.5,282 C6,268 8,260 9.7,252 C11,245 12,241 13,236 C16,228 19,222 21,216 C24,208 26,200 27,192 C29,196 35,197 38,192 C40,187 40,180 38.5,170 C38,140 38.5,110 38,82 C38,70 36,66 30,64 C24,62 10,62 8.8,57 L8.8,46 Z" fill="#fdd3ba" stroke="#fff1e6" stroke-width="2.2" stroke-linejoin="round"/>
<g><path d="M-20,91 C-21,120 -20,150 -17.5,172 C-15,180 -15,190 -17,197 M29,87 C29.5,120 30,150 30,172 M9.7,170 C6,200 -2,225 -5.3,240 C-9,255 -11,275 -9,300 C-8,312 0,320 10,322 M-19,92 C-16,97 -8,98 -3,95 " fill="none" stroke="#6a1a08" stroke-width="1.25" stroke-linecap="round"/><path d="M-25,67 H-15 M3,67 H13" stroke="#c8502f" stroke-width="1.3" fill="none"/><path d="M-21,239 h8 M-2,237 h7" stroke="#e08a70" stroke-width="1" fill="none"/><circle cx="-11" cy="94" r="1.5" fill="#6a1a08"/><circle cx="21" cy="95" r="1.5" fill="#6a1a08"/><circle cx="8" cy="138" r="1.3" fill="#6a1a08"/></g>
</g>
<g transform="translate(471.0,608) scale(1.03)">
<path d="M-13.6,28 L-13.6,42 L-6,44 C0,47 6,49.5 11.3,48.5 C14,48 15,45 15.5,42 L16.5,38 L15.2,35.5 L18.2,31.5 L15.5,24 L15,9 L-7,8 Z" fill="#fdd3ba" stroke="#fff1e6" stroke-width="1.6" stroke-linejoin="round"/>
<g><path d="M-9,40 C-3,46 5,49.5 11.3,48.5 M15,22 L18.2,31.5 L15.2,35.5 M15.5,40 h-3" fill="none" stroke="#6a1a08" stroke-width="1.2" stroke-linecap="round"/><path d="M4,19.5 h6.5" stroke="#6a1a08" stroke-width="1.4" stroke-linecap="round"/></g>
<path d="M-18.6,29 C-22,22 -22,12 -18,7 C-13,0 -2,-1.5 5,0.5 C10,1.5 14,3 16.5,4.3 C14,8.5 9,10.5 -4,12 L-5.5,27 L-7.5,28.5 C-10,25 -14,27 -18.6,29 Z" fill="#68c8fc"/>
</g>
<g transform="translate(567,607) scale(0.94,0.967)">
<path d="M-13.6,40 L-13.6,55 C-14,60 -22,61 -30,63 C-37,65 -40,70 -40,82 C-40,120 -37,150 -35,170 C-34,180 -33,190 -31,196 C-29,201 -24,201 -22,197 L-24.5,204 C-23,218 -20.5,228 -21,238 C-25,243 -31,247 -31,257 C-31,276 -26,296 -23.5,312 C-24,318 -30,320 -29.4,326 C-28,331 -15,332 -2,332 C8,333 17,331 16.3,327 C20,328 28,327 29.6,323 C30,319 20,316 13,311 C6,306 4.5,296 5.5,282 C6,268 8,260 9.7,252 C11,245 12,241 13,236 C16,228 19,222 21,216 C24,208 26,200 27,192 C29,196 35,197 38,192 C40,187 40,180 38.5,170 C38,140 38.5,110 38,82 C38,70 36,66 30,64 C24,62 10,62 8.8,57 L8.8,46 Z" fill="#fdd3ba" stroke="#fff1e6" stroke-width="2.2" stroke-linejoin="round"/>
<circle cx="-12" cy="70" r="2.0" fill="#e8392c"/>
<circle cx="4" cy="72" r="1.6" fill="#e8392c"/>
<circle cx="-18" cy="84" r="2.0" fill="#e8392c"/>
<circle cx="-6" cy="86" r="2.4" fill="#e8392c"/>
<circle cx="6" cy="80" r="1.6" fill="#e8392c"/>
<circle cx="14" cy="88" r="1.6" fill="#e8392c"/>
<circle cx="-26" cy="92" r="2.4" fill="#e8392c"/>
<circle cx="-10" cy="100" r="1.6" fill="#e8392c"/>
<circle cx="2" cy="104" r="2.0" fill="#e8392c"/>
<circle cx="12" cy="98" r="2.4" fill="#e8392c"/>
<circle cx="-4" cy="62" r="1.6" fill="#e8392c"/>
<circle cx="-30" cy="112" r="2.4" fill="#e8392c"/>
<circle cx="-31" cy="124" r="1.6" fill="#e8392c"/>
<circle cx="-30" cy="136" r="1.6" fill="#e8392c"/>
<circle cx="-29" cy="150" r="1.6" fill="#e8392c"/>
<circle cx="-16" cy="112" r="2.0" fill="#e8392c"/>
<circle cx="-2" cy="118" r="2.0" fill="#e8392c"/>
<circle cx="9" cy="112" r="1.6" fill="#e8392c"/>
<circle cx="-28" cy="164" r="1.6" fill="#e8392c"/>
<circle cx="-22" cy="76" r="1.6" fill="#e8392c"/>
<circle cx="16" cy="74" r="2.4" fill="#e8392c"/>
<g><path d="M-20,91 C-21,120 -20,150 -17.5,172 C-15,180 -15,190 -17,197 M29,87 C29.5,120 30,150 30,172 M9.7,170 C6,200 -2,225 -5.3,240 C-9,255 -11,275 -9,300 C-8,312 0,320 10,322 M-19,92 C-16,97 -8,98 -3,95 " fill="none" stroke="#6a1a08" stroke-width="1.25" stroke-linecap="round"/><path d="M-25,67 H-15 M3,67 H13" stroke="#c8502f" stroke-width="1.3" fill="none"/><path d="M-21,239 h8 M-2,237 h7" stroke="#e08a70" stroke-width="1" fill="none"/><circle cx="-11" cy="94" r="1.5" fill="#6a1a08"/><circle cx="21" cy="95" r="1.5" fill="#6a1a08"/><circle cx="8" cy="138" r="1.3" fill="#6a1a08"/></g>
</g>
<g transform="translate(569.5,608) scale(1.03)">
<path d="M-13.6,28 L-13.6,42 L-6,44 C0,47 6,49.5 11.3,48.5 C14,48 15,45 15.5,42 L16.5,38 L15.2,35.5 L18.2,31.5 L15.5,24 L15,9 L-7,8 Z" fill="#fdd3ba" stroke="#fff1e6" stroke-width="1.6" stroke-linejoin="round"/>
<circle cx="2" cy="20" r="2" fill="#e8392c"/>
<circle cx="8" cy="30" r="2.2" fill="#e8392c"/>
<circle cx="-2" cy="34" r="1.8" fill="#e8392c"/>
<circle cx="10" cy="42" r="2" fill="#e8392c"/>
<circle cx="-6" cy="44" r="1.8" fill="#e8392c"/>
<circle cx="5" cy="38" r="1.5" fill="#e8392c"/>
<g><path d="M-9,40 C-3,46 5,49.5 11.3,48.5 M15,22 L18.2,31.5 L15.2,35.5 M15.5,40 h-3" fill="none" stroke="#6a1a08" stroke-width="1.2" stroke-linecap="round"/><path d="M4,19.5 h6.5" stroke="#6a1a08" stroke-width="1.4" stroke-linecap="round"/></g>
<path d="M-18.6,29 C-22,22 -22,12 -18,7 C-13,0 -2,-1.5 5,0.5 C10,1.5 14,3 16.5,4.3 C14,8.5 9,10.5 -4,12 L-5.5,27 L-7.5,28.5 C-10,25 -14,27 -18.6,29 Z" fill="#68c8fc"/>
</g>
<g transform="translate(752.5,607) scale(0.94,0.967)">
<path d="M-13.6,40 L-13.6,55 C-14,60 -22,61 -30,63 C-37,65 -40,70 -40,82 C-40,120 -37,150 -35,170 C-34,180 -33,190 -31,196 C-29,201 -24,201 -22,197 L-24.5,204 C-23,218 -20.5,228 -21,238 C-25,243 -31,247 -31,257 C-31,276 -26,296 -23.5,312 C-24,318 -30,320 -29.4,326 C-28,331 -15,332 -2,332 C8,333 17,331 16.3,327 C20,328 28,327 29.6,323 C30,319 20,316 13,311 C6,306 4.5,296 5.5,282 C6,268 8,260 9.7,252 C11,245 12,241 13,236 C16,228 19,222 21,216 C24,208 26,200 27,192 C29,196 35,197 38,192 C40,187 40,180 38.5,170 C38,140 38.5,110 38,82 C38,70 36,66 30,64 C24,62 10,62 8.8,57 L8.8,46 Z" fill="#fdd3ba" stroke="#fff1e6" stroke-width="2.2" stroke-linejoin="round"/>
<g clip-path="url(#bodyclip)"><path d="M-45,30 H45 V168 H27 V236 H-30 V201 H-16 V172 H-45 Z" fill="url(#pfull)"/><rect x="-45" y="235" width="90" height="12" fill="url(#pfull)" opacity="0.5"/></g>
<g><path d="M-20,91 C-21,120 -20,150 -17.5,172 C-15,180 -15,190 -17,197 M29,87 C29.5,120 30,150 30,172 M9.7,170 C6,200 -2,225 -5.3,240 C-9,255 -11,275 -9,300 C-8,312 0,320 10,322 M-19,92 C-16,97 -8,98 -3,95 " fill="none" stroke="#6a1a08" stroke-width="1.25" stroke-linecap="round"/><path d="M-25,67 H-15 M3,67 H13" stroke="#c8502f" stroke-width="1.3" fill="none"/><path d="M-21,239 h8 M-2,237 h7" stroke="#e08a70" stroke-width="1" fill="none"/><circle cx="-11" cy="94" r="1.5" fill="#6a1a08"/><circle cx="21" cy="95" r="1.5" fill="#6a1a08"/><circle cx="8" cy="138" r="1.3" fill="#6a1a08"/></g>
</g>
<g transform="translate(755.0,608) scale(1.03)">
<path d="M-13.6,28 L-13.6,42 L-6,44 C0,47 6,49.5 11.3,48.5 C14,48 15,45 15.5,42 L16.5,38 L15.2,35.5 L18.2,31.5 L15.5,24 L15,9 L-7,8 Z" fill="#fdd3ba" stroke="#fff1e6" stroke-width="1.6" stroke-linejoin="round"/>
<g clip-path="url(#headclip)"><rect x="-20" y="5" width="45" height="50" fill="url(#pfull)"/></g>
<g><path d="M-9,40 C-3,46 5,49.5 11.3,48.5 M15,22 L18.2,31.5 L15.2,35.5 M15.5,40 h-3" fill="none" stroke="#6a1a08" stroke-width="1.2" stroke-linecap="round"/><path d="M4,19.5 h6.5" stroke="#6a1a08" stroke-width="1.4" stroke-linecap="round"/></g>
<path d="M-18.6,29 C-22,22 -22,12 -18,7 C-13,0 -2,-1.5 5,0.5 C10,1.5 14,3 16.5,4.3 C14,8.5 9,10.5 -4,12 L-5.5,27 L-7.5,28.5 C-10,25 -14,27 -18.6,29 Z" fill="#8dd4fb"/>
<path d="M-17,12 C-10,6 0,5 11,7.5 M-18,18 C-10,11 0,10 6,11.5 M-18,24 C-14,19 -9,17 -5,17" stroke="#e8f6fe" stroke-width="1.1" fill="none"/>
</g>
<text x="0" y="588" font-size="15" text-anchor="start" fill="#ffffff" font-weight="bold" textLength="102" lengthAdjust="spacingAndGlyphs">ISOOTAIMATION</text>
<text x="240" y="588" font-size="15" text-anchor="middle" fill="#ffffff" font-weight="bold" textLength="80" lengthAdjust="spacingAndGlyphs">DOSSATUE</text>
<text x="511.5" y="588.5" font-size="17.5" text-anchor="middle" fill="#ffffff" font-weight="bold" textLength="219" lengthAdjust="spacingAndGlyphs">PATIIEN TRANSFURMATION</text>
<text x="753" y="588.5" font-size="17.5" text-anchor="middle" fill="#ffffff" font-weight="bold" textLength="112" lengthAdjust="spacingAndGlyphs">SAIDE EFFICE</text>
<text x="363.5" y="965.5" font-size="15" text-anchor="middle" fill="#ffffff" font-weight="bold" textLength="75" lengthAdjust="spacingAndGlyphs">DOOTUDE</text>
<text x="465" y="948" font-size="14" text-anchor="middle" fill="#ffffff" font-weight="bold" textLength="33" lengthAdjust="spacingAndGlyphs">SIDE</text>
<text x="465" y="965.5" font-size="15" text-anchor="middle" fill="#ffffff" font-weight="bold" textLength="53" lengthAdjust="spacingAndGlyphs">EFFECT</text>
<text x="574.5" y="948.5" font-size="14.5" text-anchor="middle" fill="#ffffff" font-weight="bold" textLength="77" lengthAdjust="spacingAndGlyphs">SIDE EFFECT</text>
<text x="572" y="965.5" font-size="15.5" text-anchor="middle" fill="#ffffff" font-weight="bold" textLength="110" lengthAdjust="spacingAndGlyphs">MANAGEMENT</text>
<text x="748.5" y="948.5" font-size="14.5" text-anchor="middle" fill="#ffffff" font-weight="bold" textLength="73" lengthAdjust="spacingAndGlyphs">SIDE EFECT</text>
<text x="747.5" y="965.5" font-size="15.5" text-anchor="middle" fill="#ffffff" font-weight="bold" textLength="101" lengthAdjust="spacingAndGlyphs">MANAGEMENT</text>
<text x="966" y="771.2" font-size="13.5" text-anchor="middle" fill="#ffffff" font-weight="bold" textLength="116" lengthAdjust="spacingAndGlyphs">TIAALE GOETTOCK</text>
<text x="961" y="787.7" font-size="15" text-anchor="middle" fill="#ffffff" font-weight="bold" textLength="118" lengthAdjust="spacingAndGlyphs">ETTOSGONENES</text>
<text x="941" y="950.5" font-size="13.5" text-anchor="middle" fill="#ffffff" font-weight="bold" textLength="168" lengthAdjust="spacingAndGlyphs">BESTYOPTITION MEBAADOG</text>
<text x="951.5" y="965.5" font-size="14.5" text-anchor="middle" fill="#ffffff" font-weight="bold" textLength="72" lengthAdjust="spacingAndGlyphs">OF ACONE</text>
<circle cx="371.5" cy="536.5" r="3" fill="#fff"/>
<circle cx="371.5" cy="553" r="6.5" fill="#fde4dc" stroke="#f58a78" stroke-width="1.6"/>
<circle cx="371.5" cy="572" r="6.5" fill="#fde4dc" stroke="#f58a78" stroke-width="1.6"/>
<circle cx="371.5" cy="588.5" r="6.5" fill="#fde4dc" stroke="#f58a78" stroke-width="1.6"/>
<path d="M369.0,594 H374.0 V609.5 H382.5 L371.5,624.5 L360.5,609.5 H369.0 Z" fill="#ffffff"/>
<circle cx="663.5" cy="541" r="3.5" fill="#fff"/>
<circle cx="663.5" cy="559.5" r="6.5" fill="#fde4dc" stroke="#f58a78" stroke-width="1.6"/>
<circle cx="663.5" cy="574.5" r="4.5" fill="#ee4030"/>
<circle cx="663.5" cy="586.5" r="6.5" fill="#fde4dc" stroke="#f58a78" stroke-width="1.6"/>
<path d="M661.0,594 H666.0 V611 H675.0 L663.5,626 L652.0,611 H661.0 Z" fill="#ffffff"/>
<g transform="translate(626,299.3)">
<ellipse rx="10.3" ry="10.3" fill="#fa8868" stroke="#e2402a" stroke-width="1.2"/>
<ellipse cx="-1.2" cy="-1.5" rx="8.0" ry="7.7" fill="#fdb49c" opacity="0.35"/>
<path d="M-4.6,0 L-1.0,3.6 L5.2,-3.6" stroke="#ffd0c0" stroke-width="1.6" fill="none"/>
</g>
<g transform="translate(614,472.8)">
<ellipse rx="9.5" ry="9.5" fill="#fa8868" stroke="#e2402a" stroke-width="1.2"/>
<ellipse cx="-1.1" cy="-1.4" rx="7.4" ry="7.1" fill="#fdb49c" opacity="0.35"/>
<path d="M-2.6,7.1 L2.6,-7.1" stroke="#e2402a" stroke-width="1.6" fill="none"/>
</g>
<g transform="translate(840,418)">
<ellipse rx="18" ry="17" fill="#fa8868" stroke="#e2402a" stroke-width="1.8"/>
<path d="M-13.0,-5.9 A14.4,13.6 0 0 1 1.8,-13.6" fill="none" stroke="#ffd9cc" stroke-width="1.6" stroke-linecap="round" opacity="0.85"/>
<ellipse cx="-2.2" cy="-2.5" rx="14.0" ry="12.8" fill="#fdb49c" opacity="0.35"/>
<path d="M-11.8,7.8 L11.8,-7.8" stroke="#e2402a" stroke-width="1.6" fill="none"/>
</g>
<circle cx="617.2" cy="638.4" r="7.5" fill="#f58a78" stroke="#f9b5a6" stroke-width="1.3"/>
<circle cx="666.3" cy="755.5" r="8.8" fill="#fa8868" stroke="#e2402a" stroke-width="1"/>
<g transform="translate(835.9,713)">
<ellipse rx="12.5" ry="12.5" fill="#fa8868" stroke="#e2402a" stroke-width="1.8"/>
<path d="M-9.0,-4.4 A10.0,10.0 0 0 1 1.2,-10.0" fill="none" stroke="#ffd9cc" stroke-width="1.6" stroke-linecap="round" opacity="0.85"/>
<ellipse cx="-1.5" cy="-1.9" rx="9.8" ry="9.4" fill="#fdb49c" opacity="0.35"/>
<path d="M-8.7,-5.0 L8.7,5.0 M5.0,-8.7 L-5.0,8.7" stroke="#e2402a" stroke-width="1.6" fill="none"/>
</g>
<circle cx="836.6" cy="755.5" r="9.2" fill="#fa8868" stroke="#e2402a" stroke-width="1"/>
<g transform="translate(832.3,807.3)">
<ellipse rx="12.5" ry="12.5" fill="#fa8868" stroke="#e2402a" stroke-width="1.8"/>
<path d="M-9.0,-4.4 A10.0,10.0 0 0 1 1.2,-10.0" fill="none" stroke="#ffd9cc" stroke-width="1.6" stroke-linecap="round" opacity="0.85"/>
<ellipse cx="-1.5" cy="-1.9" rx="9.8" ry="9.4" fill="#fdb49c" opacity="0.35"/>
<path d="M-8.7,5.0 L8.7,-5.0" stroke="#e2402a" stroke-width="1.6" fill="none"/>
</g>
<g transform="translate(933.5,272.5)">
<ellipse rx="11" ry="11" fill="#fa8868" stroke="#e2402a" stroke-width="1.2"/>
<ellipse cx="-1.3" cy="-1.6" rx="8.6" ry="8.2" fill="#fdb49c" opacity="0.35"/>
<path d="M-6.2,6.2 L6.2,-6.2 M-6.2,-6.2 L6.2,6.2" stroke="#e2402a" stroke-width="1.6" fill="none"/>
</g>
<path d="M292,266 C320,246 360,232 398,226" fill="none" stroke="#fff4ee" stroke-width="1.35" stroke-dasharray="2.6 1.9" stroke-linecap="butt"/>
<circle cx="401.5" cy="224.5" r="3" fill="none" stroke="#ffd0c4" stroke-width="1.2"/>
<path d="M287,265 L296,259 L298,266 L290,270 Z" fill="#fff"/>
<path d="M319.5,414 C321,450 312,490 283,521" fill="none" stroke="#fff4ee" stroke-width="1.35" stroke-dasharray="2.6 1.9" stroke-linecap="butt"/>
<path d="M274.6,530.4 L278.8,511 L292,524.6 Z" fill="#fff"/>
<path d="M570,208 C620,204 680,210 714,223" fill="none" stroke="#fff4ee" stroke-width="1.35" stroke-dasharray="2.6 1.9" stroke-linecap="butt"/>
<path d="M541,211 L570,199 L566,208 L571,217 Z" fill="#fff"/>
<path d="M838,270 C900,275 955,310 967,356" fill="none" stroke="#fff4ee" stroke-width="1.35" stroke-dasharray="2.6 1.9" stroke-linecap="butt"/>
<path d="M834,272 L839,264 L843,274" fill="none" stroke="#fff" stroke-width="1.5"/>
<path d="M961,360 l7,4 l7,-4 v9 l-7,-4 l-7,4 Z" fill="#f0503c"/>
<path d="M958,381.5 L969,372 L981,381.5 Z" fill="#fff"/>
<path d="M910,378 V572 C910,589 899,594.5 878,594.5 H820" fill="none" stroke="#fff4ee" stroke-width="1.35" stroke-dasharray="2.6 1.9" stroke-linecap="butt"/>
<path d="M909,377 C885,395 880,440 892,463" fill="none" stroke="#fff4ee" stroke-width="1.35" stroke-dasharray="2.6 1.9" stroke-linecap="butt"/>
<path d="M893,462 l5,3 l2,-5" fill="none" stroke="#fff" stroke-width="1.5"/>
<path d="M992,578 C975,620 930,650 890,661" fill="none" stroke="#fff4ee" stroke-width="1.35" stroke-dasharray="2.6 1.9" stroke-linecap="butt"/>
<path d="M874,664.7 L890.8,651.5 L891.2,660.5 L893,673.5 Z" fill="#fff"/>
<path d="M988,570 l5,-6 l5,6 l-3,8 Z" fill="#f0503c"/>
<path d="M289,607 C285,620 290,627 325,627" fill="none" stroke="#fff4ee" stroke-width="1.35" stroke-dasharray="2.6 1.9" stroke-linecap="butt"/>
<path d="M285,609 l4,-5 l5,4" fill="none" stroke="#fff" stroke-width="1.5"/>
<path d="M246,639.5 H281" fill="none" stroke="#fff4ee" stroke-width="1.35" stroke-dasharray="2.6 1.9" stroke-linecap="butt"/>
<path d="M240,639.5 l6,-3 v6 Z" fill="#fff"/>
<path d="M328,779 V850 C328,868 336,872 350,876" fill="none" stroke="#fff4ee" stroke-width="1.35" stroke-dasharray="2.6 1.9" stroke-linecap="butt"/>
<circle cx="351" cy="877.5" r="2" fill="#fff"/>
<path d="M594,884 C604,872 620,863 637,858" fill="none" stroke="#fff4ee" stroke-width="1.35" stroke-dasharray="2.6 1.9" stroke-linecap="butt"/>
<path d="M590,886 l7,-6 l2,5 Z" fill="#fff"/>
<ellipse cx="642.8" cy="856.3" rx="4.3" ry="5.2" fill="#ee3a30" stroke="#fbb" stroke-width="0.8"/><path d="M642,853 l1.5,6" stroke="#fdd" stroke-width="1.2"/>
<path d="M302,912.0 H319 V907 L328,914 L319,921 V916.0 H302 Z" fill="#ffffff"/>
<path d="M612,915 L621,909 L621,921 Z M708,915 L699,909 L699,921 Z " fill="#fff"/>
<path d="M620.5,915 L628.8,910.5 L637.1,915 L628.8,919.5 Z" fill="#fff"/>
<path d="M636.1,915 L644.4,910.5 L652.7,915 L644.4,919.5 Z" fill="#fff"/>
<path d="M651.7,915 L660.0,910.5 L668.3,915 L660.0,919.5 Z" fill="#fff"/>
<path d="M667.3,915 L675.6,910.5 L683.9,915 L675.6,919.5 Z" fill="#fff"/>
<path d="M682.9,915 L691.2,910.5 L699.5,915 L691.2,919.5 Z" fill="#fff"/>
<path d="M875,731 L884,725 L884,737 Z M928,731 L919,725 L919,737 Z " fill="#fff"/>
<path d="M883.5,731 L888.4,726.5 L893.2,731 L888.4,735.5 Z" fill="#fff"/>
<path d="M892.2,731 L897.1,726.5 L902.0,731 L897.1,735.5 Z" fill="#fff"/>
<path d="M901.0,731 L905.9,726.5 L910.8,731 L905.9,735.5 Z" fill="#fff"/>
<path d="M909.8,731 L914.6,726.5 L919.5,731 L914.6,735.5 Z" fill="#fff"/>
<rect x="0" y="653" width="233" height="114" fill="#3a8ad6"/>
<rect x="-2" y="647.5" width="22" height="127.0" fill="#ffffff"/>
<rect x="-2" y="668" width="22" height="99.0" fill="#68c8fc"/>
<path d="M22.0,632.7 V621.675 C22.0,613.5 27.05,611.5 30.75,611.5 C34.45,611.5 39.5,613.5 39.5,621.675 V632.7 Z" fill="#fa8868"/>
<rect x="21.5" y="631.7" width="18.5" height="142.79999999999995" fill="#ffffff"/>
<rect x="21.5" y="652.5" width="18.5" height="114.5" fill="#68c8fc"/>
<rect x="41" y="631.7" width="24" height="142.79999999999995" fill="#ffffff"/>
<rect x="41" y="652.5" width="24" height="114.5" fill="#68c8fc"/>
<rect x="174" y="631.7" width="22" height="142.79999999999995" fill="#ffffff"/>
<rect x="174" y="652.5" width="22" height="114.5" fill="#68c8fc"/>
<path d="M197.8,632.7 V620.5699999999999 C197.8,613 202.52,611 206.0,611 C209.48,611 214.2,613 214.2,620.5699999999999 V632.7 Z" fill="#fa8868"/>
<rect x="197.3" y="631.7" width="17.399999999999977" height="142.79999999999995" fill="#ffffff"/>
<rect x="197.3" y="652.5" width="17.399999999999977" height="114.5" fill="#68c8fc"/>
<rect x="216" y="647.5" width="17.69999999999999" height="127.0" fill="#ffffff"/>
<rect x="216" y="668" width="17.69999999999999" height="99.0" fill="#68c8fc"/>
<rect x="215.5" y="767" width="19" height="8.5" fill="#681303"/>
<path d="M74,618.5 H164 L172.5,634.5 H65.5 Z" fill="#68c8fc"/>
<rect x="65.5" y="634.5" width="107" height="140" fill="#ffffff"/>
<rect x="65.5" y="752.5" width="107" height="14.5" fill="#68c8fc"/>
<path d="M0,688 H64 M174,688 H233 M0,730 H64 M174,730 H233" stroke="#46a6ea" stroke-width="1" opacity="0.5"/>
<ellipse cx="0" cy="704" rx="6" ry="17" fill="#fa8868"/>
<text x="75" y="657.5" font-size="7.5" text-anchor="start" fill="#3b79c9" font-weight="normal" textLength="29" lengthAdjust="spacingAndGlyphs">LICOO</text>
<text x="75" y="669" font-size="12.5" text-anchor="start" fill="#2b63b6" font-weight="bold" textLength="90" lengthAdjust="spacingAndGlyphs">ISOOTIERNOIA</text>
<path d="M75,674.5 H164 M75,680 H164 M75,685.5 H164" stroke="#68c8fc" stroke-width="2.4"/>
<path d="M75,703 H164 M75,709.5 H164 M75,716 H164 M75,722 H164 M75,727.5 H164 M75,733.5 H164 M75,739.5 H164 " stroke="#fa8868" stroke-width="2.4"/>
<rect x="0" y="843.5" width="291" height="104" fill="#3a8ad6"/>
<rect x="-2" y="824" width="22" height="131.5" fill="#ffffff"/>
<rect x="-2" y="843" width="22" height="105.0" fill="#68c8fc"/>
<path d="M22.0,809 V799.175 C22.0,791 27.05,789 30.75,789 C34.45,789 39.5,791 39.5,799.175 V809 Z" fill="#fa8868"/>
<rect x="21.5" y="808" width="18.5" height="147.5" fill="#ffffff"/>
<rect x="21.5" y="828" width="18.5" height="120.0" fill="#68c8fc"/>
<rect x="41" y="809" width="24" height="146.5" fill="#ffffff"/>
<rect x="41" y="828" width="24" height="120.0" fill="#68c8fc"/>
<rect x="174" y="809" width="22" height="146.5" fill="#ffffff"/>
<rect x="174" y="828" width="22" height="120.0" fill="#68c8fc"/>
<path d="M197.8,809 V798.5699999999999 C197.8,791 202.52,789 206.0,789 C209.48,789 214.2,791 214.2,798.5699999999999 V809 Z" fill="#fa8868"/>
<rect x="197.3" y="808" width="17.399999999999977" height="147.5" fill="#ffffff"/>
<rect x="197.3" y="828" width="17.399999999999977" height="120.0" fill="#68c8fc"/>
<rect x="216" y="824" width="75.5" height="131.5" fill="#ffffff"/>
<rect x="216" y="843" width="75.5" height="105.0" fill="#68c8fc"/>
<path d="M72,794 H165 L172.5,809 H65.5 Z" fill="#68c8fc"/>
<rect x="65.5" y="809" width="107" height="146.5" fill="#ffffff"/>
<rect x="102.5" y="822" width="31.5" height="123.5" fill="#68c8fc"/>
<path d="M0,868 H64 M174,868 H291 M0,912 H64 M174,912 H291 M0,874 H64 M174,874 H291" stroke="#46a6ea" stroke-width="1" opacity="0.45"/>
<g transform="translate(40,868)">
<ellipse rx="18" ry="17" fill="#fa8868" stroke="#e2402a" stroke-width="1.8"/>
<path d="M-13.0,-5.9 A14.4,13.6 0 0 1 1.8,-13.6" fill="none" stroke="#ffd9cc" stroke-width="1.6" stroke-linecap="round" opacity="0.85"/>
<ellipse cx="-2.2" cy="-2.5" rx="14.0" ry="12.8" fill="#fdb49c" opacity="0.35"/>
<path d="M-11.0,8.7 L11.0,-8.7" stroke="#e2402a" stroke-width="1.6" fill="none"/>
</g>
<g transform="translate(40,900.5)">
<ellipse rx="19" ry="17.5" fill="#fa8868" stroke="#e2402a" stroke-width="1.8"/>
<path d="M-13.7,-6.1 A15.2,14.0 0 0 1 1.9,-14.0" fill="none" stroke="#ffd9cc" stroke-width="1.6" stroke-linecap="round" opacity="0.85"/>
<ellipse cx="-2.3" cy="-2.6" rx="14.8" ry="13.1" fill="#fdb49c" opacity="0.35"/>
<path d="M-15.0,-2.4 L15.0,2.4" stroke="#e2402a" stroke-width="1.6" fill="none"/>
</g>
<g transform="translate(105,864)">
<ellipse rx="20.5" ry="19.5" fill="#fa8868" stroke="#e2402a" stroke-width="1.8"/>
<path d="M-14.8,-6.8 A16.4,15.6 0 0 1 2.1,-15.6" fill="none" stroke="#ffd9cc" stroke-width="1.6" stroke-linecap="round" opacity="0.85"/>
<ellipse cx="-2.5" cy="-2.9" rx="16.0" ry="14.6" fill="#fdb49c" opacity="0.35"/>
<path d="M-14.2,7.8 L14.2,-7.8" stroke="#e2402a" stroke-width="1.6" fill="none"/>
</g>
<g transform="translate(107.5,899)">
<ellipse rx="18" ry="18" fill="#fa8868" stroke="#e2402a" stroke-width="1.8"/>
<path d="M-13.0,-6.3 A14.4,14.4 0 0 1 1.8,-14.4" fill="none" stroke="#ffd9cc" stroke-width="1.6" stroke-linecap="round" opacity="0.85"/>
<ellipse cx="-2.2" cy="-2.7" rx="14.0" ry="13.5" fill="#fdb49c" opacity="0.35"/>
<path d="M-2.5,14.2 L2.5,-14.2" stroke="#e2402a" stroke-width="1.6" fill="none"/>
</g>
<circle cx="84" cy="925.5" r="12" fill="#fa8868" stroke="#f9a898" stroke-width="1.5"/>
<circle cx="153" cy="834" r="7" fill="#fa8868" stroke="#e2402a" stroke-width="1"/><circle cx="153" cy="849.5" r="7" fill="#fa8868" stroke="#e2402a" stroke-width="1"/>
<path d="M142.5,868 H164 V931 A10.75,10.75 0 0 1 142.5,931 Z" fill="#68c8fc"/><path d="M142.5,868.5 H164" stroke="#5a1c10" stroke-width="1.5"/>
<g transform="translate(257.5,879.5)">
<ellipse rx="21" ry="20" fill="#fa8868" stroke="#e2402a" stroke-width="1.8"/>
<path d="M-15.1,-7.0 A16.8,16.0 0 0 1 2.1,-16.0" fill="none" stroke="#ffd9cc" stroke-width="1.6" stroke-linecap="round" opacity="0.85"/>
<ellipse cx="-2.5" cy="-3.0" rx="16.4" ry="15.0" fill="#fdb49c" opacity="0.35"/>
<path d="M-16.6,-2.2 L16.6,2.2" stroke="#e2402a" stroke-width="1.6" fill="none"/>
</g>
<path d="M245,680 V678.0 A12.0,12.0 0 0 1 269,678.0 V680 Z" fill="#fa8868"/>
<path d="M245,679.5 H269 V754.0 A12.0,12.0 0 0 1 245,754.0 Z" fill="#68c8fc"/>
<rect x="245" y="679.5" width="24" height="20.0" fill="#ffffff"/>
<rect x="248" y="703.5" width="4" height="48.5" rx="2" fill="#9fd6f8" opacity="0.8"/>
<path d="M280,680 V677.75 A11.75,11.75 0 0 1 303.5,677.75 V680 Z" fill="#fa8868"/>
<path d="M280,679.5 H303.5 V754.25 A11.75,11.75 0 0 1 280,754.25 Z" fill="#68c8fc"/>
<rect x="280" y="679.5" width="23.5" height="20.0" fill="#ffffff"/>
<rect x="283" y="703.5" width="4" height="48.75" rx="2" fill="#9fd6f8" opacity="0.8"/>
<path d="M314,680 V677.5 A11.5,11.5 0 0 1 337,677.5 V680 Z" fill="#fa8868"/>
<path d="M314,679.5 H337 V754.5 A11.5,11.5 0 0 1 314,754.5 Z" fill="#68c8fc"/>
<rect x="314" y="679.5" width="23" height="55.0" fill="#ffffff"/>
<rect x="317" y="738.5" width="4" height="14.0" rx="2" fill="#9fd6f8" opacity="0.8"/>
<circle cx="325.5" cy="716" r="8" fill="#fa8868" stroke="#e2402a" stroke-width="1"/>
<path d="M321,719 l8,-6" stroke="#fbb" stroke-width="1.2"/>
<path d="M322,692 c3,-4 5,2 2,5 l1,5" stroke="#3a1a10" stroke-width="1.4" fill="none"/>
<ellipse cx="245" cy="700" rx="0" ry="0"/>
<path d="M862,218 C845,216 832,200 831,182 C830,160 840,138 858,122 C878,106 910,100 935,110 C950,116 960,126 962,134 L900,170 L890,215 C880,220 870,220 862,218 Z" fill="#2f86d8"/>
<g clip-path="url(#bb1)">
<path d="M847.7,91.0 L864.2,91.6 L866.2,89.6 L860.5,70.6 L847.5,90.4 Z" fill="#6cc6f9" stroke="#6cc6f9" stroke-width="1.6" stroke-linejoin="round"/>
<path d="M850.0,88.3 L860.7,88.6 L862.0,87.3 L858.4,75.1 L849.9,87.9 Z" fill="#93d6fb" stroke="#93d6fb" stroke-width="3" stroke-linejoin="round" opacity="0.55"/>
<path d="M825.8,93.1 L818.2,90.6 L810.5,97.5 L820.6,105.7 L829.3,101.5 Z" fill="#6cc6f9" stroke="#6cc6f9" stroke-width="1.6" stroke-linejoin="round"/>
<path d="M823.1,93.5 L818.2,91.9 L813.2,96.3 L819.7,101.7 L825.4,99.0 Z" fill="#93d6fb" stroke="#93d6fb" stroke-width="3" stroke-linejoin="round" opacity="0.55"/>
<path d="M844.8,92.3 L843.4,99.9 L836.8,102.9 L831.9,101.1 L828.4,92.7 L836.9,85.5 L844.6,91.7 Z" fill="#6cc6f9" stroke="#6cc6f9" stroke-width="1.6" stroke-linejoin="round"/>
<path d="M841.4,92.1 L840.5,97.1 L836.3,99.0 L833.1,97.8 L830.8,92.4 L836.4,87.7 L841.3,91.7 Z" fill="#93d6fb" stroke="#93d6fb" stroke-width="3" stroke-linejoin="round" opacity="0.55"/>
<path d="M847.2,93.0 L863.8,93.5 L861.0,104.9 L853.5,107.2 L845.8,100.6 Z" fill="#6cc6f9" stroke="#6cc6f9" stroke-width="1.6" stroke-linejoin="round"/>
<path d="M848.7,94.2 L859.4,94.6 L857.6,101.9 L852.8,103.4 L847.8,99.2 Z" fill="#93d6fb" stroke="#93d6fb" stroke-width="3" stroke-linejoin="round" opacity="0.55"/>
<path d="M870.6,109.5 L878.1,105.5 L878.4,93.6 L868.2,91.6 L866.3,93.5 L863.4,104.9 Z" fill="#6cc6f9" stroke="#6cc6f9" stroke-width="1.6" stroke-linejoin="round"/>
<path d="M869.7,104.9 L874.5,102.3 L874.7,94.6 L868.1,93.3 L866.9,94.5 L865.0,101.9 Z" fill="#93d6fb" stroke="#93d6fb" stroke-width="3" stroke-linejoin="round" opacity="0.55"/>
<path d="M893.8,106.5 L892.8,93.9 L886.5,90.2 L880.8,93.6 L880.5,105.6 L888.2,110.1 Z" fill="#6cc6f9" stroke="#6cc6f9" stroke-width="1.6" stroke-linejoin="round"/>
<path d="M890.5,103.0 L889.8,94.9 L885.7,92.5 L882.0,94.7 L881.9,102.4 L886.8,105.3 Z" fill="#93d6fb" stroke="#93d6fb" stroke-width="3" stroke-linejoin="round" opacity="0.55"/>
<path d="M903.0,108.1 L896.2,106.4 L895.2,93.8 L905.6,92.2 L909.2,94.8 L908.8,100.7 Z" fill="#6cc6f9" stroke="#6cc6f9" stroke-width="1.6" stroke-linejoin="round"/>
<path d="M902.0,103.8 L897.6,102.7 L897.0,94.6 L903.7,93.5 L906.0,95.2 L905.7,99.0 Z" fill="#93d6fb" stroke="#93d6fb" stroke-width="3" stroke-linejoin="round" opacity="0.55"/>
<path d="M911.4,100.6 L911.8,94.7 L922.4,92.1 L925.5,93.5 L929.2,103.1 L921.6,109.4 Z" fill="#6cc6f9" stroke="#6cc6f9" stroke-width="1.6" stroke-linejoin="round"/>
<path d="M913.5,98.8 L913.8,95.0 L920.7,93.3 L922.7,94.2 L925.0,100.4 L920.2,104.5 Z" fill="#93d6fb" stroke="#93d6fb" stroke-width="3" stroke-linejoin="round" opacity="0.55"/>
<path d="M931.5,102.9 L936.8,104.9 L941.6,102.7 L942.7,93.0 L935.8,87.3 L927.9,93.3 Z" fill="#6cc6f9" stroke="#6cc6f9" stroke-width="1.6" stroke-linejoin="round"/>
<path d="M932.1,99.7 L935.5,101.0 L938.6,99.6 L939.3,93.4 L934.9,89.7 L929.8,93.5 Z" fill="#93d6fb" stroke="#93d6fb" stroke-width="3" stroke-linejoin="round" opacity="0.55"/>
<path d="M958.7,97.6 L952.7,103.3 L943.7,102.7 L944.8,93.0 L952.3,89.8 Z" fill="#6cc6f9" stroke="#6cc6f9" stroke-width="1.6" stroke-linejoin="round"/>
<path d="M954.8,96.3 L950.9,100.0 L945.1,99.6 L945.8,93.3 L950.7,91.2 Z" fill="#93d6fb" stroke="#93d6fb" stroke-width="3" stroke-linejoin="round" opacity="0.55"/>
<path d="M971.3,88.4 L994.4,95.6 L972.1,105.5 L962.8,97.5 Z" fill="#6cc6f9" stroke="#6cc6f9" stroke-width="1.6" stroke-linejoin="round"/>
<path d="M971.7,90.1 L986.6,94.8 L972.2,101.2 L966.1,96.1 Z" fill="#93d6fb" stroke="#93d6fb" stroke-width="3" stroke-linejoin="round" opacity="0.55"/>
<path d="M830.5,103.7 L821.8,107.8 L821.5,114.0 L829.8,121.6 L833.7,119.4 L835.4,105.4 Z" fill="#6cc6f9" stroke="#6cc6f9" stroke-width="1.6" stroke-linejoin="round"/>
<path d="M828.9,105.4 L823.3,108.1 L823.1,112.1 L828.5,117.0 L831.0,115.6 L832.1,106.5 Z" fill="#93d6fb" stroke="#93d6fb" stroke-width="3" stroke-linejoin="round" opacity="0.55"/>
<path d="M844.2,102.6 L852.0,109.1 L850.5,118.2 L842.9,120.9 L835.9,119.5 L837.7,105.5 Z" fill="#6cc6f9" stroke="#6cc6f9" stroke-width="1.6" stroke-linejoin="round"/>
<path d="M843.1,104.9 L848.1,109.1 L847.2,115.0 L842.3,116.8 L837.7,115.9 L838.8,106.8 Z" fill="#93d6fb" stroke="#93d6fb" stroke-width="3" stroke-linejoin="round" opacity="0.55"/>
<path d="M869.1,111.7 L862.0,107.1 L854.6,109.3 L853.1,118.4 L858.9,123.9 L869.1,114.7 Z" fill="#6cc6f9" stroke="#6cc6f9" stroke-width="1.6" stroke-linejoin="round"/>
<path d="M865.3,111.4 L860.7,108.4 L855.9,109.8 L854.9,115.7 L858.7,119.3 L865.3,113.3 Z" fill="#93d6fb" stroke="#93d6fb" stroke-width="3" stroke-linejoin="round" opacity="0.55"/>
<path d="M871.8,111.8 L879.3,107.8 L887.0,112.3 L886.7,119.4 L877.2,122.9 L871.8,114.8 Z" fill="#6cc6f9" stroke="#6cc6f9" stroke-width="1.6" stroke-linejoin="round"/>
<path d="M873.3,111.7 L878.2,109.1 L883.1,112.0 L883.0,116.6 L876.8,118.8 L873.3,113.6 Z" fill="#93d6fb" stroke="#93d6fb" stroke-width="3" stroke-linejoin="round" opacity="0.55"/>
<path d="M901.9,110.5 L895.2,108.8 L889.5,112.4 L889.3,119.5 L895.6,126.4 L903.8,114.2 Z" fill="#6cc6f9" stroke="#6cc6f9" stroke-width="1.6" stroke-linejoin="round"/>
<path d="M898.8,111.0 L894.4,109.9 L890.8,112.2 L890.6,116.8 L894.7,121.3 L900.0,113.4 Z" fill="#93d6fb" stroke="#93d6fb" stroke-width="3" stroke-linejoin="round" opacity="0.55"/>
<path d="M904.4,109.8 L910.2,102.4 L920.4,111.2 L919.9,112.4 L912.7,116.6 L906.3,113.5 Z" fill="#6cc6f9" stroke="#6cc6f9" stroke-width="1.6" stroke-linejoin="round"/>
<path d="M906.2,109.0 L909.9,104.2 L916.6,109.9 L916.2,110.7 L911.6,113.4 L907.4,111.4 Z" fill="#93d6fb" stroke="#93d6fb" stroke-width="3" stroke-linejoin="round" opacity="0.55"/>
<path d="M923.0,111.4 L930.6,105.2 L935.9,107.2 L937.7,115.8 L928.5,123.3 L922.5,112.6 Z" fill="#6cc6f9" stroke="#6cc6f9" stroke-width="1.6" stroke-linejoin="round"/>
<path d="M924.4,110.6 L929.3,106.6 L932.7,107.9 L933.9,113.5 L927.9,118.3 L924.1,111.4 Z" fill="#93d6fb" stroke="#93d6fb" stroke-width="3" stroke-linejoin="round" opacity="0.55"/>
<path d="M943.1,105.0 L938.3,107.1 L940.2,115.8 L947.5,121.8 L954.9,118.5 L952.0,105.6 Z" fill="#6cc6f9" stroke="#6cc6f9" stroke-width="1.6" stroke-linejoin="round"/>
<path d="M943.1,106.4 L940.0,107.8 L941.2,113.3 L946.0,117.2 L950.8,115.1 L948.9,106.7 Z" fill="#93d6fb" stroke="#93d6fb" stroke-width="3" stroke-linejoin="round" opacity="0.55"/>
<path d="M960.4,99.5 L960.8,99.5 L970.1,107.5 L968.1,117.7 L961.9,119.5 L957.3,118.1 L954.4,105.2 Z" fill="#6cc6f9" stroke="#6cc6f9" stroke-width="1.6" stroke-linejoin="round"/>
<path d="M959.9,101.8 L960.2,101.8 L966.2,107.0 L964.9,113.6 L960.9,114.8 L957.9,113.9 L956.0,105.5 Z" fill="#93d6fb" stroke="#93d6fb" stroke-width="3" stroke-linejoin="round" opacity="0.55"/>
<path d="M828.5,123.3 L828.0,124.5 L819.3,131.4 L803.6,122.7 L820.1,115.7 Z" fill="#6cc6f9" stroke="#6cc6f9" stroke-width="1.6" stroke-linejoin="round"/>
<path d="M824.5,122.2 L824.2,123.0 L818.6,127.4 L808.3,121.8 L819.1,117.3 Z" fill="#93d6fb" stroke="#93d6fb" stroke-width="3" stroke-linejoin="round" opacity="0.55"/>
<path d="M843.7,133.4 L835.8,135.3 L830.5,125.0 L831.0,123.9 L834.8,121.6 L841.8,123.0 Z" fill="#6cc6f9" stroke="#6cc6f9" stroke-width="1.6" stroke-linejoin="round"/>
<path d="M840.1,129.9 L835.0,131.2 L831.5,124.6 L831.8,123.8 L834.3,122.4 L838.8,123.3 Z" fill="#93d6fb" stroke="#93d6fb" stroke-width="3" stroke-linejoin="round" opacity="0.55"/>
<path d="M851.7,120.5 L844.1,123.2 L846.0,133.5 L851.8,137.5 L858.0,127.9 L857.4,126.0 Z" fill="#6cc6f9" stroke="#6cc6f9" stroke-width="1.6" stroke-linejoin="round"/>
<path d="M850.6,122.0 L845.7,123.7 L846.9,130.4 L850.7,133.0 L854.7,126.8 L854.3,125.5 Z" fill="#93d6fb" stroke="#93d6fb" stroke-width="3" stroke-linejoin="round" opacity="0.55"/>
<path d="M870.2,116.6 L875.6,124.6 L872.8,132.2 L871.5,132.5 L860.5,127.6 L860.0,125.8 Z" fill="#6cc6f9" stroke="#6cc6f9" stroke-width="1.6" stroke-linejoin="round"/>
<path d="M868.6,118.9 L872.0,124.1 L870.2,129.0 L869.4,129.2 L862.3,126.1 L861.9,124.8 Z" fill="#93d6fb" stroke="#93d6fb" stroke-width="3" stroke-linejoin="round" opacity="0.55"/>
<path d="M883.4,138.3 L875.4,132.7 L878.2,125.1 L887.7,121.6 L894.1,128.6 L895.2,132.1 Z" fill="#6cc6f9" stroke="#6cc6f9" stroke-width="1.6" stroke-linejoin="round"/>
<path d="M883.2,134.0 L878.0,130.4 L879.8,125.5 L886.0,123.3 L890.1,127.8 L890.8,130.1 Z" fill="#93d6fb" stroke="#93d6fb" stroke-width="3" stroke-linejoin="round" opacity="0.55"/>
<path d="M905.1,115.8 L896.9,128.1 L897.9,131.6 L901.8,133.9 L911.5,129.2 L911.5,118.9 Z" fill="#6cc6f9" stroke="#6cc6f9" stroke-width="1.6" stroke-linejoin="round"/>
<path d="M903.7,118.3 L898.4,126.2 L899.1,128.5 L901.6,130.0 L907.9,126.9 L907.9,120.3 Z" fill="#93d6fb" stroke="#93d6fb" stroke-width="3" stroke-linejoin="round" opacity="0.55"/>
<path d="M913.9,118.6 L913.9,128.9 L921.2,131.3 L926.5,129.3 L927.2,125.1 L921.2,114.4 Z" fill="#6cc6f9" stroke="#6cc6f9" stroke-width="1.6" stroke-linejoin="round"/>
<path d="M915.3,119.6 L915.3,126.2 L920.0,127.7 L923.4,126.5 L923.9,123.8 L920.0,116.8 Z" fill="#93d6fb" stroke="#93d6fb" stroke-width="3" stroke-linejoin="round" opacity="0.55"/>
<path d="M929.0,129.7 L936.2,134.4 L943.9,130.9 L946.2,124.0 L938.9,118.0 L929.7,125.5 Z" fill="#6cc6f9" stroke="#6cc6f9" stroke-width="1.6" stroke-linejoin="round"/>
<path d="M930.9,127.6 L935.6,130.6 L940.6,128.4 L942.1,123.9 L937.3,120.0 L931.4,124.9 Z" fill="#93d6fb" stroke="#93d6fb" stroke-width="3" stroke-linejoin="round" opacity="0.55"/>
<path d="M948.8,124.2 L946.5,131.1 L953.0,137.4 L960.6,133.7 L960.8,122.3 L956.2,120.9 Z" fill="#6cc6f9" stroke="#6cc6f9" stroke-width="1.6" stroke-linejoin="round"/>
<path d="M949.7,124.4 L948.2,128.9 L952.4,133.0 L957.4,130.6 L957.5,123.2 L954.5,122.3 Z" fill="#93d6fb" stroke="#93d6fb" stroke-width="3" stroke-linejoin="round" opacity="0.55"/>
<path d="M970.3,139.1 L979.9,127.1 L969.2,120.6 L963.0,122.4 L962.8,133.8 Z" fill="#6cc6f9" stroke="#6cc6f9" stroke-width="1.6" stroke-linejoin="round"/>
<path d="M968.9,134.2 L975.1,126.4 L968.2,122.2 L964.1,123.4 L964.0,130.7 Z" fill="#93d6fb" stroke="#93d6fb" stroke-width="3" stroke-linejoin="round" opacity="0.55"/>
<path d="M832.7,143.5 L834.4,137.0 L829.1,126.8 L820.4,133.7 L820.6,143.9 L824.7,145.8 Z" fill="#6cc6f9" stroke="#6cc6f9" stroke-width="1.6" stroke-linejoin="round"/>
<path d="M829.7,140.5 L830.8,136.3 L827.4,129.7 L821.7,134.1 L821.9,140.7 L824.5,142.0 Z" fill="#93d6fb" stroke="#93d6fb" stroke-width="3" stroke-linejoin="round" opacity="0.55"/>
<path d="M850.7,139.5 L851.3,144.2 L845.5,150.0 L835.2,144.0 L837.0,137.5 L844.9,135.6 Z" fill="#6cc6f9" stroke="#6cc6f9" stroke-width="1.6" stroke-linejoin="round"/>
<path d="M847.4,139.1 L847.7,142.2 L844.0,145.9 L837.4,142.0 L838.5,137.8 L843.6,136.6 Z" fill="#93d6fb" stroke="#93d6fb" stroke-width="3" stroke-linejoin="round" opacity="0.55"/>
<path d="M853.2,139.2 L853.7,143.9 L861.0,145.9 L864.9,143.6 L870.3,134.4 L859.3,129.6 Z" fill="#6cc6f9" stroke="#6cc6f9" stroke-width="1.6" stroke-linejoin="round"/>
<path d="M854.7,138.1 L855.1,141.1 L859.8,142.4 L862.3,140.9 L865.8,135.0 L858.7,131.9 Z" fill="#93d6fb" stroke="#93d6fb" stroke-width="3" stroke-linejoin="round" opacity="0.55"/>
<path d="M881.9,140.0 L873.9,134.4 L872.6,134.7 L867.2,143.9 L877.7,149.7 L881.7,145.8 Z" fill="#6cc6f9" stroke="#6cc6f9" stroke-width="1.6" stroke-linejoin="round"/>
<path d="M878.8,139.3 L873.6,135.7 L872.7,135.9 L869.3,141.8 L876.1,145.6 L878.6,143.1 Z" fill="#93d6fb" stroke="#93d6fb" stroke-width="3" stroke-linejoin="round" opacity="0.55"/>
<path d="M884.5,140.1 L896.3,133.9 L900.2,136.2 L902.5,145.6 L891.8,151.0 L884.3,145.9 Z" fill="#6cc6f9" stroke="#6cc6f9" stroke-width="1.6" stroke-linejoin="round"/>
<path d="M886.6,139.6 L894.2,135.6 L896.8,137.1 L898.3,143.2 L891.3,146.6 L886.5,143.4 Z" fill="#93d6fb" stroke="#93d6fb" stroke-width="3" stroke-linejoin="round" opacity="0.55"/>
<path d="M912.5,131.2 L902.9,135.9 L905.2,145.3 L908.5,148.5 L918.7,143.3 L919.7,133.5 Z" fill="#6cc6f9" stroke="#6cc6f9" stroke-width="1.6" stroke-linejoin="round"/>
<path d="M911.1,133.0 L904.9,136.0 L906.4,142.1 L908.5,144.2 L915.1,140.8 L915.8,134.5 Z" fill="#93d6fb" stroke="#93d6fb" stroke-width="3" stroke-linejoin="round" opacity="0.55"/>
<path d="M927.7,131.6 L934.8,136.3 L934.5,144.3 L928.8,148.3 L921.3,143.3 L922.3,133.5 Z" fill="#6cc6f9" stroke="#6cc6f9" stroke-width="1.6" stroke-linejoin="round"/>
<path d="M926.9,133.2 L931.5,136.2 L931.3,141.4 L927.6,144.0 L922.7,140.8 L923.4,134.4 Z" fill="#93d6fb" stroke="#93d6fb" stroke-width="3" stroke-linejoin="round" opacity="0.55"/>
<path d="M936.9,144.6 L944.7,149.5 L951.4,144.8 L951.5,139.3 L945.0,133.0 L937.2,136.5 Z" fill="#6cc6f9" stroke="#6cc6f9" stroke-width="1.6" stroke-linejoin="round"/>
<path d="M938.6,142.2 L943.6,145.4 L948.0,142.3 L948.0,138.8 L943.8,134.8 L938.8,137.0 Z" fill="#93d6fb" stroke="#93d6fb" stroke-width="3" stroke-linejoin="round" opacity="0.55"/>
<path d="M954.0,145.0 L962.6,150.1 L969.5,145.8 L969.2,141.3 L961.8,135.9 L954.1,139.6 Z" fill="#6cc6f9" stroke="#6cc6f9" stroke-width="1.6" stroke-linejoin="round"/>
<path d="M955.8,143.1 L961.3,146.4 L965.8,143.6 L965.6,140.7 L960.8,137.2 L955.8,139.6 Z" fill="#93d6fb" stroke="#93d6fb" stroke-width="3" stroke-linejoin="round" opacity="0.55"/>
<path d="M827.1,161.8 L818.6,167.2 L808.0,151.7 L819.5,146.4 L823.5,148.3 Z" fill="#6cc6f9" stroke="#6cc6f9" stroke-width="1.6" stroke-linejoin="round"/>
<path d="M823.4,158.2 L817.9,161.7 L811.0,151.7 L818.4,148.2 L821.1,149.5 Z" fill="#93d6fb" stroke="#93d6fb" stroke-width="3" stroke-linejoin="round" opacity="0.55"/>
<path d="M833.4,162.5 L829.5,161.7 L825.9,148.2 L833.9,145.9 L844.2,151.9 L843.7,157.1 Z" fill="#6cc6f9" stroke="#6cc6f9" stroke-width="1.6" stroke-linejoin="round"/>
<path d="M833.0,158.5 L830.5,158.0 L828.1,149.2 L833.3,147.7 L840.0,151.7 L839.7,155.0 Z" fill="#93d6fb" stroke="#93d6fb" stroke-width="3" stroke-linejoin="round" opacity="0.55"/>
<path d="M846.5,157.0 L846.9,151.9 L852.7,146.1 L860.0,148.1 L864.0,158.6 L852.1,163.0 Z" fill="#6cc6f9" stroke="#6cc6f9" stroke-width="1.6" stroke-linejoin="round"/>
<path d="M848.0,154.8 L848.3,151.5 L852.1,147.7 L856.8,149.0 L859.3,155.8 L851.6,158.7 Z" fill="#93d6fb" stroke="#93d6fb" stroke-width="3" stroke-linejoin="round" opacity="0.55"/>
<path d="M869.0,159.7 L866.3,158.5 L862.4,148.0 L866.2,145.7 L876.8,151.5 L874.7,157.6 Z" fill="#6cc6f9" stroke="#6cc6f9" stroke-width="1.6" stroke-linejoin="round"/>
<path d="M868.1,156.3 L866.3,155.5 L863.8,148.7 L866.3,147.3 L873.1,151.0 L871.8,155.0 Z" fill="#93d6fb" stroke="#93d6fb" stroke-width="3" stroke-linejoin="round" opacity="0.55"/>
<path d="M882.9,148.0 L879.0,151.9 L876.9,158.0 L885.0,163.9 L890.2,161.1 L890.4,153.0 Z" fill="#6cc6f9" stroke="#6cc6f9" stroke-width="1.6" stroke-linejoin="round"/>
<path d="M882.3,149.6 L879.8,152.2 L878.4,156.1 L883.6,159.9 L887.0,158.1 L887.1,152.9 Z" fill="#93d6fb" stroke="#93d6fb" stroke-width="3" stroke-linejoin="round" opacity="0.55"/>
<path d="M892.9,153.0 L892.7,161.0 L900.3,163.7 L908.3,156.6 L906.9,150.9 L903.6,147.6 Z" fill="#6cc6f9" stroke="#6cc6f9" stroke-width="1.6" stroke-linejoin="round"/>
<path d="M894.7,152.6 L894.5,157.9 L899.4,159.6 L904.6,155.0 L903.8,151.3 L901.6,149.2 Z" fill="#93d6fb" stroke="#93d6fb" stroke-width="3" stroke-linejoin="round" opacity="0.55"/>
<path d="M927.4,150.4 L926.1,155.9 L918.5,161.1 L911.0,156.2 L909.6,150.6 L919.8,145.4 Z" fill="#6cc6f9" stroke="#6cc6f9" stroke-width="1.6" stroke-linejoin="round"/>
<path d="M923.3,150.2 L922.5,153.8 L917.6,157.2 L912.7,154.0 L911.9,150.3 L918.4,147.0 Z" fill="#93d6fb" stroke="#93d6fb" stroke-width="3" stroke-linejoin="round" opacity="0.55"/>
<path d="M930.1,150.6 L928.8,156.1 L938.5,162.6 L944.0,160.1 L943.5,151.5 L935.8,146.6 Z" fill="#6cc6f9" stroke="#6cc6f9" stroke-width="1.6" stroke-linejoin="round"/>
<path d="M931.5,150.8 L930.7,154.4 L936.9,158.6 L940.5,157.0 L940.1,151.4 L935.1,148.2 Z" fill="#93d6fb" stroke="#93d6fb" stroke-width="3" stroke-linejoin="round" opacity="0.55"/>
<path d="M952.6,146.8 L961.2,152.0 L959.9,158.0 L949.6,161.8 L946.4,160.2 L945.9,151.6 Z" fill="#6cc6f9" stroke="#6cc6f9" stroke-width="1.6" stroke-linejoin="round"/>
<path d="M951.6,148.5 L957.2,151.8 L956.3,155.8 L949.6,158.2 L947.6,157.2 L947.3,151.6 Z" fill="#93d6fb" stroke="#93d6fb" stroke-width="3" stroke-linejoin="round" opacity="0.55"/>
<path d="M970.6,147.8 L963.7,152.1 L962.4,158.1 L968.9,166.1 L981.2,154.5 Z" fill="#6cc6f9" stroke="#6cc6f9" stroke-width="1.6" stroke-linejoin="round"/>
<path d="M969.2,149.4 L964.7,152.1 L963.9,156.0 L968.0,161.2 L976.1,153.7 Z" fill="#93d6fb" stroke="#93d6fb" stroke-width="3" stroke-linejoin="round" opacity="0.55"/>
<path d="M832.2,165.0 L828.3,164.2 L819.8,169.6 L819.2,171.2 L827.8,182.9 L835.2,173.1 Z" fill="#6cc6f9" stroke="#6cc6f9" stroke-width="1.6" stroke-linejoin="round"/>
<path d="M829.4,165.9 L826.8,165.4 L821.4,168.9 L821.0,170.0 L826.5,177.5 L831.3,171.1 Z" fill="#93d6fb" stroke="#93d6fb" stroke-width="3" stroke-linejoin="round" opacity="0.55"/>
<path d="M851.0,171.5 L850.6,165.1 L845.1,159.1 L834.7,164.6 L837.7,172.6 L845.2,175.4 Z" fill="#6cc6f9" stroke="#6cc6f9" stroke-width="1.6" stroke-linejoin="round"/>
<path d="M847.6,169.1 L847.3,165.0 L843.7,161.1 L837.0,164.6 L839.0,169.8 L843.8,171.6 Z" fill="#93d6fb" stroke="#93d6fb" stroke-width="3" stroke-linejoin="round" opacity="0.55"/>
<path d="M861.8,177.6 L868.0,173.5 L867.9,162.0 L865.2,160.7 L853.3,165.2 L853.7,171.5 Z" fill="#6cc6f9" stroke="#6cc6f9" stroke-width="1.6" stroke-linejoin="round"/>
<path d="M860.8,173.2 L864.7,170.5 L864.7,163.0 L862.9,162.2 L855.2,165.1 L855.5,169.2 Z" fill="#93d6fb" stroke="#93d6fb" stroke-width="3" stroke-linejoin="round" opacity="0.55"/>
<path d="M879.5,175.7 L882.9,172.4 L883.9,165.7 L875.9,159.8 L870.2,161.9 L870.3,173.4 Z" fill="#6cc6f9" stroke="#6cc6f9" stroke-width="1.6" stroke-linejoin="round"/>
<path d="M877.7,171.9 L879.8,169.7 L880.5,165.4 L875.3,161.5 L871.7,162.9 L871.7,170.4 Z" fill="#93d6fb" stroke="#93d6fb" stroke-width="3" stroke-linejoin="round" opacity="0.55"/>
<path d="M886.3,166.0 L891.5,163.2 L899.1,165.9 L900.2,174.6 L896.3,176.7 L885.3,172.7 Z" fill="#6cc6f9" stroke="#6cc6f9" stroke-width="1.6" stroke-linejoin="round"/>
<path d="M887.7,166.1 L891.1,164.3 L896.0,166.1 L896.7,171.7 L894.2,173.1 L887.0,170.5 Z" fill="#93d6fb" stroke="#93d6fb" stroke-width="3" stroke-linejoin="round" opacity="0.55"/>
<path d="M909.7,158.5 L901.7,165.7 L902.8,174.4 L911.0,178.3 L918.4,171.5 L917.2,163.5 Z" fill="#6cc6f9" stroke="#6cc6f9" stroke-width="1.6" stroke-linejoin="round"/>
<path d="M908.8,160.9 L903.6,165.5 L904.4,171.2 L909.7,173.7 L914.5,169.3 L913.7,164.1 Z" fill="#93d6fb" stroke="#93d6fb" stroke-width="3" stroke-linejoin="round" opacity="0.55"/>
<path d="M919.8,163.2 L921.0,171.2 L925.5,173.0 L934.1,171.2 L937.1,164.5 L927.5,158.0 Z" fill="#6cc6f9" stroke="#6cc6f9" stroke-width="1.6" stroke-linejoin="round"/>
<path d="M921.5,163.3 L922.3,168.5 L925.2,169.6 L930.8,168.5 L932.7,164.1 L926.5,159.9 Z" fill="#93d6fb" stroke="#93d6fb" stroke-width="3" stroke-linejoin="round" opacity="0.55"/>
<path d="M939.6,164.8 L945.1,162.3 L948.3,163.9 L951.1,172.3 L942.6,179.5 L936.6,171.6 Z" fill="#6cc6f9" stroke="#6cc6f9" stroke-width="1.6" stroke-linejoin="round"/>
<path d="M940.1,165.1 L943.7,163.5 L945.7,164.5 L947.5,169.9 L942.0,174.6 L938.1,169.5 Z" fill="#93d6fb" stroke="#93d6fb" stroke-width="3" stroke-linejoin="round" opacity="0.55"/>
<path d="M961.1,160.1 L950.8,163.9 L953.6,172.3 L963.1,176.5 L967.5,173.7 L967.5,168.1 Z" fill="#6cc6f9" stroke="#6cc6f9" stroke-width="1.6" stroke-linejoin="round"/>
<path d="M959.9,162.1 L953.2,164.5 L955.1,170.0 L961.2,172.7 L964.1,170.9 L964.1,167.3 Z" fill="#93d6fb" stroke="#93d6fb" stroke-width="3" stroke-linejoin="round" opacity="0.55"/>
<path d="M826.9,187.1 L826.5,184.8 L817.9,173.2 L802.4,181.7 L820.0,193.0 Z" fill="#6cc6f9" stroke="#6cc6f9" stroke-width="1.6" stroke-linejoin="round"/>
<path d="M823.0,184.8 L822.8,183.3 L817.2,175.8 L807.1,181.3 L818.5,188.6 Z" fill="#93d6fb" stroke="#93d6fb" stroke-width="3" stroke-linejoin="round" opacity="0.55"/>
<path d="M842.4,187.5 L844.0,177.8 L836.6,175.0 L829.2,184.8 L829.6,187.1 L837.7,190.1 Z" fill="#6cc6f9" stroke="#6cc6f9" stroke-width="1.6" stroke-linejoin="round"/>
<path d="M839.4,185.0 L840.4,178.7 L835.6,176.9 L830.8,183.2 L831.0,184.7 L836.3,186.7 Z" fill="#93d6fb" stroke="#93d6fb" stroke-width="3" stroke-linejoin="round" opacity="0.55"/>
<path d="M844.9,187.3 L846.5,177.5 L852.3,173.6 L860.5,179.7 L860.3,185.5 L852.2,189.2 Z" fill="#6cc6f9" stroke="#6cc6f9" stroke-width="1.6" stroke-linejoin="round"/>
<path d="M846.7,184.3 L847.7,177.9 L851.5,175.4 L856.8,179.3 L856.6,183.1 L851.4,185.5 Z" fill="#93d6fb" stroke="#93d6fb" stroke-width="3" stroke-linejoin="round" opacity="0.55"/>
<path d="M862.9,185.6 L869.1,192.7 L879.7,186.1 L878.5,178.0 L869.3,175.6 L863.2,179.8 Z" fill="#6cc6f9" stroke="#6cc6f9" stroke-width="1.6" stroke-linejoin="round"/>
<path d="M864.6,183.5 L868.6,188.0 L875.4,183.8 L874.7,178.5 L868.7,177.0 L864.7,179.7 Z" fill="#93d6fb" stroke="#93d6fb" stroke-width="3" stroke-linejoin="round" opacity="0.55"/>
<path d="M881.0,177.9 L884.4,174.6 L895.4,178.5 L891.9,187.9 L887.1,188.9 L882.2,186.0 Z" fill="#6cc6f9" stroke="#6cc6f9" stroke-width="1.6" stroke-linejoin="round"/>
<path d="M882.1,178.2 L884.3,176.1 L891.4,178.7 L889.1,184.7 L886.1,185.3 L882.9,183.5 Z" fill="#93d6fb" stroke="#93d6fb" stroke-width="3" stroke-linejoin="round" opacity="0.55"/>
<path d="M901.4,192.9 L894.2,188.1 L897.7,178.8 L901.6,176.7 L909.8,180.5 L910.3,186.2 Z" fill="#6cc6f9" stroke="#6cc6f9" stroke-width="1.6" stroke-linejoin="round"/>
<path d="M900.8,188.5 L896.1,185.4 L898.4,179.4 L900.9,178.0 L906.3,180.5 L906.6,184.2 Z" fill="#93d6fb" stroke="#93d6fb" stroke-width="3" stroke-linejoin="round" opacity="0.55"/>
<path d="M920.0,192.4 L927.7,186.7 L924.3,175.4 L919.8,173.6 L912.4,180.3 L912.9,186.0 Z" fill="#6cc6f9" stroke="#6cc6f9" stroke-width="1.6" stroke-linejoin="round"/>
<path d="M918.8,187.7 L923.8,184.0 L921.6,176.6 L918.7,175.5 L913.9,179.9 L914.2,183.5 Z" fill="#93d6fb" stroke="#93d6fb" stroke-width="3" stroke-linejoin="round" opacity="0.55"/>
<path d="M941.0,187.9 L941.2,181.2 L935.2,173.3 L926.6,175.1 L930.0,186.5 Z" fill="#6cc6f9" stroke="#6cc6f9" stroke-width="1.6" stroke-linejoin="round"/>
<path d="M937.8,184.2 L938.0,179.9 L934.1,174.8 L928.5,175.9 L930.7,183.3 Z" fill="#93d6fb" stroke="#93d6fb" stroke-width="3" stroke-linejoin="round" opacity="0.55"/>
<path d="M943.9,189.4 L951.2,193.9 L958.0,190.3 L961.6,178.9 L952.1,174.7 L943.6,181.9 L943.4,188.5 Z" fill="#6cc6f9" stroke="#6cc6f9" stroke-width="1.6" stroke-linejoin="round"/>
<path d="M945.3,186.8 L950.0,189.7 L954.4,187.4 L956.7,180.0 L950.5,177.3 L945.0,181.9 L944.9,186.2 Z" fill="#93d6fb" stroke="#93d6fb" stroke-width="3" stroke-linejoin="round" opacity="0.55"/>
<path d="M994.8,186.7 L969.2,176.1 L964.8,178.9 L961.2,190.3 L969.9,194.4 Z" fill="#6cc6f9" stroke="#6cc6f9" stroke-width="1.6" stroke-linejoin="round"/>
<path d="M985.7,185.0 L969.2,178.1 L966.3,180.0 L964.0,187.3 L969.6,190.0 Z" fill="#93d6fb" stroke="#93d6fb" stroke-width="3" stroke-linejoin="round" opacity="0.55"/>
<path d="M836.7,192.3 L828.5,189.2 L821.7,195.1 L821.0,199.3 L832.3,207.0 L838.7,204.0 Z" fill="#6cc6f9" stroke="#6cc6f9" stroke-width="1.6" stroke-linejoin="round"/>
<path d="M833.3,193.0 L828.0,191.0 L823.5,194.9 L823.1,197.6 L830.4,202.6 L834.5,200.6 Z" fill="#93d6fb" stroke="#93d6fb" stroke-width="3" stroke-linejoin="round" opacity="0.55"/>
<path d="M851.7,203.1 L851.1,191.5 L843.7,189.6 L839.0,192.2 L841.0,204.0 L845.1,205.9 Z" fill="#6cc6f9" stroke="#6cc6f9" stroke-width="1.6" stroke-linejoin="round"/>
<path d="M848.4,200.0 L848.1,192.5 L843.3,191.3 L840.2,193.0 L841.5,200.6 L844.2,201.8 Z" fill="#93d6fb" stroke="#93d6fb" stroke-width="3" stroke-linejoin="round" opacity="0.55"/>
<path d="M854.0,202.9 L853.4,191.4 L861.4,187.7 L867.7,194.7 L867.7,199.1 L860.1,204.1 Z" fill="#6cc6f9" stroke="#6cc6f9" stroke-width="1.6" stroke-linejoin="round"/>
<path d="M855.4,199.5 L855.0,192.0 L860.2,189.6 L864.2,194.2 L864.2,197.1 L859.3,200.3 Z" fill="#93d6fb" stroke="#93d6fb" stroke-width="3" stroke-linejoin="round" opacity="0.55"/>
<path d="M880.8,188.1 L885.7,190.9 L884.7,200.6 L874.9,203.0 L870.2,199.0 L870.2,194.6 Z" fill="#6cc6f9" stroke="#6cc6f9" stroke-width="1.6" stroke-linejoin="round"/>
<path d="M878.7,189.7 L881.9,191.5 L881.2,197.8 L874.9,199.4 L871.9,196.8 L871.9,193.9 Z" fill="#93d6fb" stroke="#93d6fb" stroke-width="3" stroke-linejoin="round" opacity="0.55"/>
<path d="M900.0,200.8 L893.4,206.2 L887.1,200.8 L888.1,191.1 L892.9,190.1 L900.0,194.9 Z" fill="#6cc6f9" stroke="#6cc6f9" stroke-width="1.6" stroke-linejoin="round"/>
<path d="M896.8,198.4 L892.5,201.8 L888.4,198.4 L889.0,192.1 L892.1,191.5 L896.7,194.6 Z" fill="#93d6fb" stroke="#93d6fb" stroke-width="3" stroke-linejoin="round" opacity="0.55"/>
<path d="M902.7,200.8 L911.9,205.4 L919.1,197.7 L918.7,194.6 L911.6,188.2 L902.6,194.8 Z" fill="#6cc6f9" stroke="#6cc6f9" stroke-width="1.6" stroke-linejoin="round"/>
<path d="M904.7,198.2 L910.6,201.2 L915.3,196.2 L915.0,194.2 L910.4,190.1 L904.6,194.4 Z" fill="#93d6fb" stroke="#93d6fb" stroke-width="3" stroke-linejoin="round" opacity="0.55"/>
<path d="M922.0,197.2 L930.0,202.8 L941.0,190.7 L940.4,189.8 L929.4,188.4 L921.7,194.1 Z" fill="#6cc6f9" stroke="#6cc6f9" stroke-width="1.6" stroke-linejoin="round"/>
<path d="M924.1,194.8 L929.3,198.4 L936.4,190.6 L936.0,190.0 L928.8,189.1 L923.9,192.8 Z" fill="#93d6fb" stroke="#93d6fb" stroke-width="3" stroke-linejoin="round" opacity="0.55"/>
<path d="M942.7,191.9 L950.0,196.4 L949.9,204.3 L947.3,207.4 L933.0,207.5 L931.8,204.0 Z" fill="#6cc6f9" stroke="#6cc6f9" stroke-width="1.6" stroke-linejoin="round"/>
<path d="M941.6,194.2 L946.3,197.1 L946.2,202.3 L944.6,204.3 L935.3,204.3 L934.5,202.1 Z" fill="#93d6fb" stroke="#93d6fb" stroke-width="3" stroke-linejoin="round" opacity="0.55"/>
<path d="M968.4,205.6 L968.2,196.8 L959.6,192.6 L952.7,196.2 L952.6,204.2 L962.9,210.1 Z" fill="#6cc6f9" stroke="#6cc6f9" stroke-width="1.6" stroke-linejoin="round"/>
<path d="M964.7,202.8 L964.6,197.0 L959.0,194.3 L954.6,196.7 L954.5,201.8 L961.1,205.7 Z" fill="#93d6fb" stroke="#93d6fb" stroke-width="3" stroke-linejoin="round" opacity="0.55"/>
<path d="M830.9,209.0 L819.6,201.3 L809.4,212.6 L815.0,217.5 L828.1,216.3 Z" fill="#6cc6f9" stroke="#6cc6f9" stroke-width="1.6" stroke-linejoin="round"/>
<path d="M826.3,208.7 L819.0,203.7 L812.3,210.9 L816.0,214.1 L824.5,213.4 Z" fill="#93d6fb" stroke="#93d6fb" stroke-width="3" stroke-linejoin="round" opacity="0.55"/>
<path d="M845.8,217.7 L835.9,224.1 L830.8,216.7 L833.6,209.4 L839.9,206.4 L844.1,208.3 Z" fill="#6cc6f9" stroke="#6cc6f9" stroke-width="1.6" stroke-linejoin="round"/>
<path d="M842.2,215.1 L835.8,219.3 L832.5,214.5 L834.3,209.7 L838.4,207.8 L841.1,209.0 Z" fill="#93d6fb" stroke="#93d6fb" stroke-width="3" stroke-linejoin="round" opacity="0.55"/>
<path d="M854.7,221.3 L848.1,217.6 L846.4,208.2 L852.9,205.4 L859.0,206.6 L860.6,219.4 Z" fill="#6cc6f9" stroke="#6cc6f9" stroke-width="1.6" stroke-linejoin="round"/>
<path d="M853.3,217.2 L849.1,214.8 L847.9,208.7 L852.2,206.9 L856.1,207.7 L857.1,216.0 Z" fill="#93d6fb" stroke="#93d6fb" stroke-width="3" stroke-linejoin="round" opacity="0.55"/>
<path d="M862.8,219.1 L867.7,220.9 L875.0,215.2 L873.4,205.3 L868.8,201.3 L861.2,206.3 Z" fill="#6cc6f9" stroke="#6cc6f9" stroke-width="1.6" stroke-linejoin="round"/>
<path d="M863.7,215.2 L866.9,216.3 L871.6,212.6 L870.6,206.2 L867.6,203.7 L862.6,206.9 Z" fill="#93d6fb" stroke="#93d6fb" stroke-width="3" stroke-linejoin="round" opacity="0.55"/>
<path d="M891.3,216.6 L887.8,218.0 L877.5,215.1 L876.0,205.3 L885.8,202.9 L892.1,208.2 Z" fill="#6cc6f9" stroke="#6cc6f9" stroke-width="1.6" stroke-linejoin="round"/>
<path d="M888.1,213.5 L885.9,214.3 L879.2,212.5 L878.2,206.1 L884.5,204.6 L888.6,208.0 Z" fill="#93d6fb" stroke="#93d6fb" stroke-width="3" stroke-linejoin="round" opacity="0.55"/>
<path d="M901.3,203.1 L894.7,208.4 L893.8,216.8 L900.9,220.9 L911.6,216.9 L910.5,207.8 Z" fill="#6cc6f9" stroke="#6cc6f9" stroke-width="1.6" stroke-linejoin="round"/>
<path d="M900.6,205.2 L896.3,208.6 L895.8,214.0 L900.4,216.7 L907.3,214.1 L906.6,208.2 Z" fill="#93d6fb" stroke="#93d6fb" stroke-width="3" stroke-linejoin="round" opacity="0.55"/>
<path d="M920.7,199.6 L928.6,205.2 L929.9,208.7 L928.0,214.2 L916.0,217.3 L914.6,216.5 L913.5,207.4 Z" fill="#6cc6f9" stroke="#6cc6f9" stroke-width="1.6" stroke-linejoin="round"/>
<path d="M920.0,202.0 L925.1,205.6 L925.9,207.9 L924.7,211.5 L917.0,213.4 L916.0,212.9 L915.3,207.0 Z" fill="#93d6fb" stroke="#93d6fb" stroke-width="3" stroke-linejoin="round" opacity="0.55"/>
<path d="M930.5,215.0 L936.1,222.7 L945.5,219.8 L946.6,209.4 L932.4,209.5 Z" fill="#6cc6f9" stroke="#6cc6f9" stroke-width="1.6" stroke-linejoin="round"/>
<path d="M932.2,213.9 L935.8,218.9 L941.9,217.0 L942.6,210.3 L933.4,210.4 Z" fill="#93d6fb" stroke="#93d6fb" stroke-width="3" stroke-linejoin="round" opacity="0.55"/>
<path d="M963.5,221.1 L950.9,222.4 L947.9,219.8 L949.0,209.4 L951.6,206.3 L961.9,212.2 Z" fill="#6cc6f9" stroke="#6cc6f9" stroke-width="1.6" stroke-linejoin="round"/>
<path d="M959.2,217.9 L951.0,218.6 L949.1,217.0 L949.8,210.3 L951.5,208.2 L958.1,212.1 Z" fill="#93d6fb" stroke="#93d6fb" stroke-width="3" stroke-linejoin="round" opacity="0.55"/>
<path d="M966.1,221.3 L964.5,212.4 L970.1,207.9 L988.0,214.4 L969.1,224.1 Z" fill="#6cc6f9" stroke="#6cc6f9" stroke-width="1.6" stroke-linejoin="round"/>
<path d="M967.0,218.2 L966.0,212.4 L969.6,209.5 L981.2,213.7 L969.0,220.0 Z" fill="#93d6fb" stroke="#93d6fb" stroke-width="3" stroke-linejoin="round" opacity="0.55"/>
<path d="M829.2,279.0 L816.0,221.3 L829.1,220.2 L834.3,227.6 Z" fill="#6cc6f9" stroke="#6cc6f9" stroke-width="1.6" stroke-linejoin="round"/>
<path d="M827.5,263.0 L818.9,225.7 L827.4,224.9 L830.7,229.7 Z" fill="#93d6fb" stroke="#93d6fb" stroke-width="3" stroke-linejoin="round" opacity="0.55"/>
<path d="M869.1,223.3 L876.3,217.6 L886.6,220.4 L876.5,248.1 Z" fill="#6cc6f9" stroke="#6cc6f9" stroke-width="1.6" stroke-linejoin="round"/>
<path d="M870.9,223.5 L875.6,219.8 L882.3,221.7 L875.8,239.6 Z" fill="#93d6fb" stroke="#93d6fb" stroke-width="3" stroke-linejoin="round" opacity="0.55"/>
<path d="M916.8,219.9 L926.8,248.5 L934.3,224.5 L928.7,216.8 Z" fill="#6cc6f9" stroke="#6cc6f9" stroke-width="1.6" stroke-linejoin="round"/>
<path d="M919.2,221.4 L925.8,239.8 L930.6,224.4 L927.0,219.4 Z" fill="#93d6fb" stroke="#93d6fb" stroke-width="3" stroke-linejoin="round" opacity="0.55"/>
</g>
<path d="M867,212 C866,190 876,168 892,154 C910,138 935,130 958,133 C985,136 1008,150 1024,170 L1030,172 L1030,268 C1015,275 995,280 980,276 C968,272 960,262 948,258 C935,254 920,256 905,250 C885,244 868,232 867,212 Z" fill="#dc3a24"/>
<g clip-path="url(#bb2)">
<path d="M863.1,130.3 L863.0,122.4 L854.8,112.6 L844.1,124.6 L851.7,132.5 Z" fill="#fa8c70" stroke="#fa8c70" stroke-width="1.6" stroke-linejoin="round"/>
<path d="M859.3,127.0 L859.3,122.0 L854.0,115.7 L847.2,123.4 L852.0,128.4 Z" fill="#fdab94" stroke="#fdab94" stroke-width="3" stroke-linejoin="round" opacity="0.55"/>
<path d="M868.9,132.6 L874.2,131.8 L880.4,122.2 L874.2,113.9 L865.3,122.6 L865.3,130.4 Z" fill="#fa8c70" stroke="#fa8c70" stroke-width="1.6" stroke-linejoin="round"/>
<path d="M868.8,128.8 L872.2,128.4 L876.1,122.2 L872.2,116.9 L866.5,122.4 L866.5,127.5 Z" fill="#fdab94" stroke="#fdab94" stroke-width="3" stroke-linejoin="round" opacity="0.55"/>
<path d="M876.6,132.1 L887.6,139.3 L896.3,128.5 L894.1,121.7 L893.3,121.4 L882.8,122.5 Z" fill="#fa8c70" stroke="#fa8c70" stroke-width="1.6" stroke-linejoin="round"/>
<path d="M879.9,129.3 L886.9,133.9 L892.5,127.0 L891.1,122.6 L890.6,122.4 L883.8,123.1 Z" fill="#fdab94" stroke="#fdab94" stroke-width="3" stroke-linejoin="round" opacity="0.55"/>
<path d="M919.4,127.4 L911.7,133.8 L899.3,128.0 L897.1,121.2 L910.6,110.1 L920.3,124.2 Z" fill="#fa8c70" stroke="#fa8c70" stroke-width="1.6" stroke-linejoin="round"/>
<path d="M914.9,125.0 L910.0,129.1 L902.0,125.4 L900.6,121.1 L909.3,114.0 L915.5,123.0 Z" fill="#fdab94" stroke="#fdab94" stroke-width="3" stroke-linejoin="round" opacity="0.55"/>
<path d="M931.2,135.5 L922.6,127.7 L923.5,124.6 L936.9,117.5 L941.1,119.0 L939.9,133.8 Z" fill="#fa8c70" stroke="#fa8c70" stroke-width="1.6" stroke-linejoin="round"/>
<path d="M930.7,131.0 L925.2,126.0 L925.7,124.0 L934.3,119.5 L937.0,120.4 L936.2,129.9 Z" fill="#fdab94" stroke="#fdab94" stroke-width="3" stroke-linejoin="round" opacity="0.55"/>
<path d="M942.3,133.8 L950.3,140.3 L957.1,126.7 L956.3,120.9 L950.5,118.2 L943.5,119.0 Z" fill="#fa8c70" stroke="#fa8c70" stroke-width="1.6" stroke-linejoin="round"/>
<path d="M944.1,130.0 L949.2,134.1 L953.5,125.4 L953.0,121.7 L949.3,120.0 L944.9,120.5 Z" fill="#fdab94" stroke="#fdab94" stroke-width="3" stroke-linejoin="round" opacity="0.55"/>
<path d="M975.8,131.3 L972.4,136.4 L959.7,126.5 L958.9,120.8 L968.1,116.3 L977.6,121.4 Z" fill="#fa8c70" stroke="#fa8c70" stroke-width="1.6" stroke-linejoin="round"/>
<path d="M972.3,128.0 L970.1,131.2 L962.0,124.9 L961.5,121.3 L967.4,118.4 L973.4,121.7 Z" fill="#fdab94" stroke="#fdab94" stroke-width="3" stroke-linejoin="round" opacity="0.55"/>
<path d="M996.8,121.4 L989.3,119.1 L980.5,121.6 L978.7,131.5 L994.9,134.6 L996.7,132.8 Z" fill="#fa8c70" stroke="#fa8c70" stroke-width="1.6" stroke-linejoin="round"/>
<path d="M993.2,122.2 L988.4,120.7 L982.8,122.3 L981.6,128.6 L992.0,130.6 L993.1,129.5 Z" fill="#fdab94" stroke="#fdab94" stroke-width="3" stroke-linejoin="round" opacity="0.55"/>
<path d="M1018.8,124.8 L1002.5,119.9 L999.7,121.8 L999.6,133.2 L1007.1,137.6 L1021.7,135.2 L1022.1,134.5 Z" fill="#fa8c70" stroke="#fa8c70" stroke-width="1.6" stroke-linejoin="round"/>
<path d="M1014.7,125.3 L1004.3,122.2 L1002.5,123.4 L1002.4,130.7 L1007.2,133.5 L1016.6,132.0 L1016.8,131.5 Z" fill="#fdab94" stroke="#fdab94" stroke-width="3" stroke-linejoin="round" opacity="0.55"/>
<path d="M1037.0,116.1 L1038.5,130.9 L1024.9,133.6 L1021.6,123.9 L1028.8,112.3 Z" fill="#fa8c70" stroke="#fa8c70" stroke-width="1.6" stroke-linejoin="round"/>
<path d="M1033.5,117.5 L1034.5,127.0 L1025.8,128.7 L1023.7,122.5 L1028.3,115.1 Z" fill="#fdab94" stroke="#fdab94" stroke-width="3" stroke-linejoin="round" opacity="0.55"/>
<path d="M850.1,143.0 L852.3,134.9 L863.7,132.7 L867.3,134.8 L866.4,151.0 L859.3,153.9 Z" fill="#fa8c70" stroke="#fa8c70" stroke-width="1.6" stroke-linejoin="round"/>
<path d="M852.6,141.4 L854.0,136.2 L861.3,134.8 L863.6,136.1 L863.1,146.5 L858.5,148.3 Z" fill="#fdab94" stroke="#fdab94" stroke-width="3" stroke-linejoin="round" opacity="0.55"/>
<path d="M887.2,148.1 L886.0,141.6 L875.1,134.5 L869.7,135.2 L868.9,151.4 L877.3,154.7 Z" fill="#fa8c70" stroke="#fa8c70" stroke-width="1.6" stroke-linejoin="round"/>
<path d="M882.6,145.5 L881.9,141.4 L874.9,136.8 L871.5,137.2 L871.0,147.6 L876.4,149.7 Z" fill="#fdab94" stroke="#fdab94" stroke-width="3" stroke-linejoin="round" opacity="0.55"/>
<path d="M901.9,154.0 L909.4,148.9 L910.3,136.5 L897.9,130.7 L889.2,141.5 L890.3,148.0 Z" fill="#fa8c70" stroke="#fa8c70" stroke-width="1.6" stroke-linejoin="round"/>
<path d="M900.2,148.9 L905.0,145.7 L905.6,137.7 L897.6,134.0 L892.0,140.9 L892.8,145.1 Z" fill="#fdab94" stroke="#fdab94" stroke-width="3" stroke-linejoin="round" opacity="0.55"/>
<path d="M929.5,147.7 L929.5,137.7 L921.0,129.9 L913.3,136.3 L912.3,148.7 L918.2,151.0 Z" fill="#fa8c70" stroke="#fa8c70" stroke-width="1.6" stroke-linejoin="round"/>
<path d="M925.3,144.4 L925.3,138.0 L919.9,133.0 L914.9,137.1 L914.3,145.0 L918.1,146.5 Z" fill="#fdab94" stroke="#fdab94" stroke-width="3" stroke-linejoin="round" opacity="0.55"/>
<path d="M940.6,153.0 L949.9,147.4 L949.0,142.8 L941.0,136.3 L932.4,138.0 L932.4,148.0 Z" fill="#fa8c70" stroke="#fa8c70" stroke-width="1.6" stroke-linejoin="round"/>
<path d="M939.7,148.6 L945.7,145.1 L945.1,142.1 L940.0,138.0 L934.4,139.1 L934.4,145.5 Z" fill="#fdab94" stroke="#fdab94" stroke-width="3" stroke-linejoin="round" opacity="0.55"/>
<path d="M958.6,128.9 L951.8,142.5 L952.7,147.1 L957.7,149.5 L971.4,147.7 L971.2,138.8 Z" fill="#fa8c70" stroke="#fa8c70" stroke-width="1.6" stroke-linejoin="round"/>
<path d="M958.3,132.6 L954.0,141.3 L954.5,144.2 L957.8,145.7 L966.5,144.6 L966.4,138.9 Z" fill="#fdab94" stroke="#fdab94" stroke-width="3" stroke-linejoin="round" opacity="0.55"/>
<path d="M979.2,151.6 L974.2,147.8 L974.1,138.8 L977.6,133.7 L993.7,136.9 L987.2,149.2 Z" fill="#fa8c70" stroke="#fa8c70" stroke-width="1.6" stroke-linejoin="round"/>
<path d="M978.9,147.3 L975.7,144.9 L975.6,139.1 L977.8,135.9 L988.1,137.9 L984.0,145.8 Z" fill="#fdab94" stroke="#fdab94" stroke-width="3" stroke-linejoin="round" opacity="0.55"/>
<path d="M1005.5,139.7 L998.1,135.3 L996.2,137.1 L989.7,149.5 L998.4,154.1 L1006.3,153.3 Z" fill="#fa8c70" stroke="#fa8c70" stroke-width="1.6" stroke-linejoin="round"/>
<path d="M1002.2,140.3 L997.4,137.6 L996.3,138.7 L992.1,146.6 L997.6,149.6 L1002.7,149.0 Z" fill="#fdab94" stroke="#fdab94" stroke-width="3" stroke-linejoin="round" opacity="0.55"/>
<path d="M1022.3,137.6 L1007.8,139.9 L1008.5,153.5 L1012.3,155.5 L1023.2,146.0 Z" fill="#fa8c70" stroke="#fa8c70" stroke-width="1.6" stroke-linejoin="round"/>
<path d="M1018.6,139.6 L1009.3,141.1 L1009.8,149.8 L1012.2,151.0 L1019.2,145.0 Z" fill="#fdab94" stroke="#fdab94" stroke-width="3" stroke-linejoin="round" opacity="0.55"/>
<path d="M1039.2,133.4 L1058.0,141.9 L1036.6,154.7 L1026.0,145.3 L1025.2,136.9 L1025.6,136.1 Z" fill="#fa8c70" stroke="#fa8c70" stroke-width="1.6" stroke-linejoin="round"/>
<path d="M1036.7,135.1 L1048.7,140.5 L1035.1,148.7 L1028.3,142.7 L1027.8,137.3 L1028.0,136.8 Z" fill="#fdab94" stroke="#fdab94" stroke-width="3" stroke-linejoin="round" opacity="0.55"/>
<path d="M848.0,145.4 L857.2,156.3 L854.1,162.9 L848.4,167.4 L817.6,160.3 Z" fill="#fa8c70" stroke="#fa8c70" stroke-width="1.6" stroke-linejoin="round"/>
<path d="M846.0,148.9 L851.8,155.9 L849.9,160.1 L846.2,163.0 L826.5,158.5 Z" fill="#fdab94" stroke="#fdab94" stroke-width="3" stroke-linejoin="round" opacity="0.55"/>
<path d="M860.4,156.6 L867.6,153.7 L876.0,157.0 L876.7,162.7 L870.5,170.9 L857.4,163.2 Z" fill="#fa8c70" stroke="#fa8c70" stroke-width="1.6" stroke-linejoin="round"/>
<path d="M862.2,156.9 L866.8,155.0 L872.2,157.1 L872.6,160.8 L868.6,166.0 L860.2,161.1 Z" fill="#fdab94" stroke="#fdab94" stroke-width="3" stroke-linejoin="round" opacity="0.55"/>
<path d="M900.2,159.3 L900.4,156.2 L888.9,150.2 L879.0,156.8 L879.7,162.5 L888.1,169.2 Z" fill="#fa8c70" stroke="#fa8c70" stroke-width="1.6" stroke-linejoin="round"/>
<path d="M895.3,158.0 L895.5,156.0 L888.0,152.2 L881.8,156.4 L882.2,160.0 L887.6,164.3 Z" fill="#fdab94" stroke="#fdab94" stroke-width="3" stroke-linejoin="round" opacity="0.55"/>
<path d="M923.3,169.4 L923.9,167.6 L917.2,153.8 L911.3,151.5 L903.8,156.6 L903.6,159.7 L910.1,174.7 Z" fill="#fa8c70" stroke="#fa8c70" stroke-width="1.6" stroke-linejoin="round"/>
<path d="M918.7,165.5 L919.1,164.3 L914.8,155.5 L911.0,154.1 L906.2,157.3 L906.1,159.3 L910.3,168.9 Z" fill="#fdab94" stroke="#fdab94" stroke-width="3" stroke-linejoin="round" opacity="0.55"/>
<path d="M926.4,166.9 L919.6,153.1 L931.0,149.8 L939.2,154.8 L938.0,160.3 Z" fill="#fa8c70" stroke="#fa8c70" stroke-width="1.6" stroke-linejoin="round"/>
<path d="M927.0,162.1 L922.7,153.3 L929.9,151.2 L935.1,154.4 L934.4,157.9 Z" fill="#fdab94" stroke="#fdab94" stroke-width="3" stroke-linejoin="round" opacity="0.55"/>
<path d="M956.5,168.0 L956.2,152.0 L951.1,149.6 L941.7,155.2 L940.6,160.7 L949.9,174.9 Z" fill="#fa8c70" stroke="#fa8c70" stroke-width="1.6" stroke-linejoin="round"/>
<path d="M952.9,164.0 L952.7,153.7 L949.5,152.2 L943.5,155.7 L942.7,159.3 L948.7,168.3 Z" fill="#fdab94" stroke="#fdab94" stroke-width="3" stroke-linejoin="round" opacity="0.55"/>
<path d="M969.9,167.9 L977.3,159.5 L977.6,153.8 L972.6,149.9 L958.9,151.7 L959.3,167.8 Z" fill="#fa8c70" stroke="#fa8c70" stroke-width="1.6" stroke-linejoin="round"/>
<path d="M968.7,163.3 L973.4,157.9 L973.6,154.3 L970.4,151.8 L961.7,153.0 L961.9,163.2 Z" fill="#fdab94" stroke="#fdab94" stroke-width="3" stroke-linejoin="round" opacity="0.55"/>
<path d="M980.2,154.1 L988.2,151.7 L996.9,156.4 L995.8,169.6 L989.3,172.6 L980.0,159.8 Z" fill="#fa8c70" stroke="#fa8c70" stroke-width="1.6" stroke-linejoin="round"/>
<path d="M982.2,155.3 L987.3,153.7 L992.8,156.7 L992.1,165.2 L988.0,167.1 L982.0,158.9 Z" fill="#fdab94" stroke="#fdab94" stroke-width="3" stroke-linejoin="round" opacity="0.55"/>
<path d="M1011.1,157.8 L1013.3,164.4 L1007.3,172.0 L998.3,169.9 L999.4,156.6 L1007.3,155.8 Z" fill="#fa8c70" stroke="#fa8c70" stroke-width="1.6" stroke-linejoin="round"/>
<path d="M1008.3,158.4 L1009.7,162.6 L1005.9,167.5 L1000.1,166.1 L1000.8,157.6 L1005.8,157.1 Z" fill="#fdab94" stroke="#fdab94" stroke-width="3" stroke-linejoin="round" opacity="0.55"/>
<path d="M1035.2,157.3 L1033.1,165.8 L1027.9,167.9 L1015.9,164.0 L1013.8,157.4 L1024.6,147.9 Z" fill="#fa8c70" stroke="#fa8c70" stroke-width="1.6" stroke-linejoin="round"/>
<path d="M1030.6,157.1 L1029.2,162.5 L1025.9,163.8 L1018.2,161.4 L1016.8,157.1 L1023.8,151.1 Z" fill="#fdab94" stroke="#fdab94" stroke-width="3" stroke-linejoin="round" opacity="0.55"/>
<path d="M850.5,169.9 L854.1,181.5 L860.8,187.0 L869.9,179.1 L869.4,173.0 L856.2,165.4 Z" fill="#fa8c70" stroke="#fa8c70" stroke-width="1.6" stroke-linejoin="round"/>
<path d="M853.0,170.9 L855.3,178.3 L859.6,181.8 L865.4,176.8 L865.1,172.9 L856.7,168.0 Z" fill="#fdab94" stroke="#fdab94" stroke-width="3" stroke-linejoin="round" opacity="0.55"/>
<path d="M886.7,171.3 L878.2,164.6 L872.1,172.7 L872.6,178.8 L886.9,182.3 Z" fill="#fa8c70" stroke="#fa8c70" stroke-width="1.6" stroke-linejoin="round"/>
<path d="M883.0,171.0 L877.6,166.7 L873.7,172.0 L874.0,175.9 L883.2,178.1 Z" fill="#fdab94" stroke="#fdab94" stroke-width="3" stroke-linejoin="round" opacity="0.55"/>
<path d="M906.3,181.6 L901.4,184.9 L890.3,183.8 L889.5,182.9 L889.3,171.8 L901.4,161.9 L908.0,176.9 Z" fill="#fa8c70" stroke="#fa8c70" stroke-width="1.6" stroke-linejoin="round"/>
<path d="M902.3,179.0 L899.2,181.1 L892.1,180.4 L891.6,179.8 L891.5,172.7 L899.2,166.4 L903.4,176.0 Z" fill="#fdab94" stroke="#fdab94" stroke-width="3" stroke-linejoin="round" opacity="0.55"/>
<path d="M932.7,183.4 L917.8,188.1 L909.2,182.0 L910.9,177.3 L924.1,172.0 Z" fill="#fa8c70" stroke="#fa8c70" stroke-width="1.6" stroke-linejoin="round"/>
<path d="M926.7,181.2 L917.2,184.2 L911.7,180.3 L912.8,177.3 L921.2,173.9 Z" fill="#fdab94" stroke="#fdab94" stroke-width="3" stroke-linejoin="round" opacity="0.55"/>
<path d="M935.3,182.7 L938.0,184.0 L947.6,180.4 L948.2,177.0 L938.9,162.8 L927.3,169.4 L926.7,171.3 Z" fill="#fa8c70" stroke="#fa8c70" stroke-width="1.6" stroke-linejoin="round"/>
<path d="M935.0,178.8 L936.8,179.7 L942.9,177.4 L943.3,175.2 L937.4,166.2 L929.9,170.4 L929.5,171.6 Z" fill="#fdab94" stroke="#fdab94" stroke-width="3" stroke-linejoin="round" opacity="0.55"/>
<path d="M971.5,182.9 L955.3,185.1 L950.6,180.8 L951.3,177.3 L957.9,170.5 L968.5,170.6 Z" fill="#fa8c70" stroke="#fa8c70" stroke-width="1.6" stroke-linejoin="round"/>
<path d="M966.1,179.9 L955.7,181.3 L952.7,178.5 L953.1,176.3 L957.3,172.0 L964.1,172.1 Z" fill="#fdab94" stroke="#fdab94" stroke-width="3" stroke-linejoin="round" opacity="0.55"/>
<path d="M985.3,184.1 L988.1,174.8 L978.8,162.0 L971.4,170.5 L974.4,182.8 L981.4,186.7 Z" fill="#fa8c70" stroke="#fa8c70" stroke-width="1.6" stroke-linejoin="round"/>
<path d="M982.4,180.3 L984.1,174.3 L978.2,166.2 L973.5,171.6 L975.4,179.4 L979.9,182.0 Z" fill="#fdab94" stroke="#fdab94" stroke-width="3" stroke-linejoin="round" opacity="0.55"/>
<path d="M1006.3,174.4 L997.2,172.3 L990.7,175.2 L988.0,184.5 L1002.2,188.9 L1008.2,182.4 Z" fill="#fa8c70" stroke="#fa8c70" stroke-width="1.6" stroke-linejoin="round"/>
<path d="M1002.6,175.1 L996.8,173.7 L992.6,175.6 L990.9,181.5 L1000.0,184.3 L1003.8,180.2 Z" fill="#fdab94" stroke="#fdab94" stroke-width="3" stroke-linejoin="round" opacity="0.55"/>
<path d="M1026.8,170.2 L1021.7,184.5 L1021.7,184.5 L1010.9,182.0 L1008.9,174.0 L1014.9,166.4 Z" fill="#fa8c70" stroke="#fa8c70" stroke-width="1.6" stroke-linejoin="round"/>
<path d="M1022.4,171.5 L1019.2,180.6 L1019.2,180.6 L1012.2,179.0 L1011.0,173.9 L1014.8,169.0 Z" fill="#fdab94" stroke="#fdab94" stroke-width="3" stroke-linejoin="round" opacity="0.55"/>
<path d="M1044.2,177.5 L1036.2,188.8 L1023.9,184.7 L1029.0,170.4 L1034.3,168.3 Z" fill="#fa8c70" stroke="#fa8c70" stroke-width="1.6" stroke-linejoin="round"/>
<path d="M1039.3,176.4 L1034.2,183.7 L1026.4,181.0 L1029.7,171.9 L1033.0,170.5 Z" fill="#fdab94" stroke="#fdab94" stroke-width="3" stroke-linejoin="round" opacity="0.55"/>
<path d="M833.8,194.0 L853.0,184.0 L859.7,189.4 L861.0,198.5 L854.0,202.7 Z" fill="#fa8c70" stroke="#fa8c70" stroke-width="1.6" stroke-linejoin="round"/>
<path d="M839.5,192.7 L851.7,186.3 L856.1,189.8 L856.9,195.6 L852.4,198.3 Z" fill="#fdab94" stroke="#fdab94" stroke-width="3" stroke-linejoin="round" opacity="0.55"/>
<path d="M880.6,199.0 L887.1,185.7 L886.3,184.8 L872.0,181.3 L862.9,189.1 L864.2,198.2 L872.6,203.0 Z" fill="#fa8c70" stroke="#fa8c70" stroke-width="1.6" stroke-linejoin="round"/>
<path d="M877.6,195.2 L881.7,186.6 L881.3,186.0 L872.1,183.8 L866.3,188.8 L867.1,194.6 L872.5,197.7 Z" fill="#fdab94" stroke="#fdab94" stroke-width="3" stroke-linejoin="round" opacity="0.55"/>
<path d="M901.8,198.8 L893.1,204.9 L883.2,199.6 L889.7,186.2 L900.7,187.4 Z" fill="#fa8c70" stroke="#fa8c70" stroke-width="1.6" stroke-linejoin="round"/>
<path d="M897.9,196.4 L892.3,200.3 L886.0,196.9 L890.1,188.3 L897.2,189.1 Z" fill="#fdab94" stroke="#fdab94" stroke-width="3" stroke-linejoin="round" opacity="0.55"/>
<path d="M916.5,189.9 L919.1,199.0 L908.5,202.6 L904.1,198.5 L903.0,187.1 L908.0,183.8 Z" fill="#fa8c70" stroke="#fa8c70" stroke-width="1.6" stroke-linejoin="round"/>
<path d="M913.1,190.0 L914.8,195.8 L908.0,198.1 L905.2,195.5 L904.5,188.2 L907.7,186.1 Z" fill="#fdab94" stroke="#fdab94" stroke-width="3" stroke-linejoin="round" opacity="0.55"/>
<path d="M934.1,185.4 L936.8,186.7 L933.2,202.7 L930.4,204.9 L921.8,199.2 L919.2,190.1 Z" fill="#fa8c70" stroke="#fa8c70" stroke-width="1.6" stroke-linejoin="round"/>
<path d="M931.4,187.6 L933.1,188.4 L930.8,198.6 L929.0,200.1 L923.5,196.4 L921.9,190.6 Z" fill="#fdab94" stroke="#fdab94" stroke-width="3" stroke-linejoin="round" opacity="0.55"/>
<path d="M953.7,187.4 L956.2,200.0 L949.7,204.9 L935.8,202.6 L939.3,186.6 L949.0,183.0 Z" fill="#fa8c70" stroke="#fa8c70" stroke-width="1.6" stroke-linejoin="round"/>
<path d="M950.4,188.6 L952.0,196.7 L947.8,199.8 L938.9,198.3 L941.2,188.1 L947.4,185.8 Z" fill="#fdab94" stroke="#fdab94" stroke-width="3" stroke-linejoin="round" opacity="0.55"/>
<path d="M980.0,189.2 L973.0,185.2 L956.8,187.4 L959.4,200.0 L969.7,204.6 L978.6,197.8 Z" fill="#fa8c70" stroke="#fa8c70" stroke-width="1.6" stroke-linejoin="round"/>
<path d="M975.2,189.7 L970.7,187.2 L960.4,188.6 L962.0,196.7 L968.6,199.6 L974.3,195.2 Z" fill="#fdab94" stroke="#fdab94" stroke-width="3" stroke-linejoin="round" opacity="0.55"/>
<path d="M986.9,186.7 L1001.2,191.1 L1003.4,201.1 L991.3,205.7 L981.6,197.9 L983.0,189.3 Z" fill="#fa8c70" stroke="#fa8c70" stroke-width="1.6" stroke-linejoin="round"/>
<path d="M987.5,188.6 L996.6,191.4 L998.0,197.8 L990.3,200.8 L984.1,195.8 L985.0,190.3 Z" fill="#fdab94" stroke="#fdab94" stroke-width="3" stroke-linejoin="round" opacity="0.55"/>
<path d="M1020.8,187.0 L1017.8,201.0 L1008.5,202.4 L1006.2,201.0 L1004.0,190.9 L1010.0,184.5 Z" fill="#fa8c70" stroke="#fa8c70" stroke-width="1.6" stroke-linejoin="round"/>
<path d="M1016.3,188.5 L1014.4,197.4 L1008.5,198.4 L1007.0,197.4 L1005.6,191.0 L1009.4,186.9 Z" fill="#fdab94" stroke="#fdab94" stroke-width="3" stroke-linejoin="round" opacity="0.55"/>
<path d="M1035.3,191.2 L1023.1,187.0 L1023.1,187.1 L1020.1,201.1 L1025.5,204.6 L1037.1,198.5 Z" fill="#fa8c70" stroke="#fa8c70" stroke-width="1.6" stroke-linejoin="round"/>
<path d="M1031.4,191.3 L1023.6,188.7 L1023.6,188.7 L1021.7,197.6 L1025.1,199.9 L1032.6,196.0 Z" fill="#fdab94" stroke="#fdab94" stroke-width="3" stroke-linejoin="round" opacity="0.55"/>
<path d="M870.9,205.8 L862.4,201.0 L855.5,205.2 L849.6,217.4 L863.4,222.9 L872.7,217.9 Z" fill="#fa8c70" stroke="#fa8c70" stroke-width="1.6" stroke-linejoin="round"/>
<path d="M866.8,206.7 L861.4,203.7 L857.0,206.4 L853.2,214.2 L862.0,217.7 L868.0,214.5 Z" fill="#fdab94" stroke="#fdab94" stroke-width="3" stroke-linejoin="round" opacity="0.55"/>
<path d="M891.5,207.2 L881.6,201.9 L873.7,205.8 L875.6,217.9 L880.5,222.0 L893.6,216.9 Z" fill="#fa8c70" stroke="#fa8c70" stroke-width="1.6" stroke-linejoin="round"/>
<path d="M887.4,207.7 L881.0,204.3 L876.0,206.8 L877.2,214.6 L880.3,217.2 L888.7,213.9 Z" fill="#fdab94" stroke="#fdab94" stroke-width="3" stroke-linejoin="round" opacity="0.55"/>
<path d="M907.9,216.0 L907.3,205.0 L902.9,200.9 L894.1,207.1 L896.2,216.7 L899.2,217.9 Z" fill="#fa8c70" stroke="#fa8c70" stroke-width="1.6" stroke-linejoin="round"/>
<path d="M904.5,212.8 L904.1,205.8 L901.3,203.2 L895.7,207.1 L897.1,213.3 L899.0,214.1 Z" fill="#fdab94" stroke="#fdab94" stroke-width="3" stroke-linejoin="round" opacity="0.55"/>
<path d="M910.3,216.0 L909.8,205.0 L920.4,201.4 L929.0,207.1 L927.3,214.2 L917.2,219.6 Z" fill="#fa8c70" stroke="#fa8c70" stroke-width="1.6" stroke-linejoin="round"/>
<path d="M912.5,212.8 L912.1,205.8 L918.9,203.5 L924.4,207.1 L923.3,211.7 L916.9,215.1 Z" fill="#fdab94" stroke="#fdab94" stroke-width="3" stroke-linejoin="round" opacity="0.55"/>
<path d="M948.5,207.5 L949.2,219.6 L938.8,223.6 L930.1,214.5 L931.8,207.4 L934.6,205.2 Z" fill="#fa8c70" stroke="#fa8c70" stroke-width="1.6" stroke-linejoin="round"/>
<path d="M944.0,208.3 L944.5,216.0 L937.8,218.6 L932.2,212.8 L933.3,208.2 L935.1,206.8 Z" fill="#fdab94" stroke="#fdab94" stroke-width="3" stroke-linejoin="round" opacity="0.55"/>
<path d="M968.7,217.0 L968.3,207.2 L958.0,202.7 L951.5,207.5 L952.2,219.6 L960.0,223.5 Z" fill="#fa8c70" stroke="#fa8c70" stroke-width="1.6" stroke-linejoin="round"/>
<path d="M964.5,214.3 L964.2,208.1 L957.6,205.2 L953.5,208.3 L953.9,216.0 L958.9,218.5 Z" fill="#fdab94" stroke="#fdab94" stroke-width="3" stroke-linejoin="round" opacity="0.55"/>
<path d="M980.1,200.2 L971.2,207.1 L971.6,216.8 L978.5,221.1 L989.4,217.7 L989.8,208.0 Z" fill="#fa8c70" stroke="#fa8c70" stroke-width="1.6" stroke-linejoin="round"/>
<path d="M979.1,203.2 L973.4,207.6 L973.6,213.8 L978.1,216.5 L985.0,214.4 L985.3,208.2 Z" fill="#fdab94" stroke="#fdab94" stroke-width="3" stroke-linejoin="round" opacity="0.55"/>
<path d="M992.7,208.2 L992.3,217.8 L999.5,223.9 L1007.5,219.1 L1007.0,205.0 L1004.7,203.6 Z" fill="#fa8c70" stroke="#fa8c70" stroke-width="1.6" stroke-linejoin="round"/>
<path d="M994.5,208.7 L994.3,214.9 L998.9,218.8 L1004.0,215.7 L1003.7,206.7 L1002.3,205.7 Z" fill="#fdab94" stroke="#fdab94" stroke-width="3" stroke-linejoin="round" opacity="0.55"/>
<path d="M1024.1,207.1 L1025.5,218.0 L1018.4,221.7 L1009.9,219.0 L1009.4,205.0 L1018.7,203.5 Z" fill="#fa8c70" stroke="#fa8c70" stroke-width="1.6" stroke-linejoin="round"/>
<path d="M1020.8,207.8 L1021.7,214.8 L1017.2,217.1 L1011.7,215.4 L1011.4,206.4 L1017.3,205.5 Z" fill="#fdab94" stroke="#fdab94" stroke-width="3" stroke-linejoin="round" opacity="0.55"/>
<path d="M1038.5,200.9 L1026.8,207.0 L1028.2,217.9 L1038.1,222.1 L1052.7,209.8 Z" fill="#fa8c70" stroke="#fa8c70" stroke-width="1.6" stroke-linejoin="round"/>
<path d="M1036.9,203.5 L1029.4,207.4 L1030.3,214.4 L1036.6,217.1 L1046.0,209.2 Z" fill="#fdab94" stroke="#fdab94" stroke-width="3" stroke-linejoin="round" opacity="0.55"/>
<path d="M859.9,234.9 L852.4,238.3 L830.9,230.2 L848.0,219.9 L861.7,225.4 Z" fill="#fa8c70" stroke="#fa8c70" stroke-width="1.6" stroke-linejoin="round"/>
<path d="M855.5,231.8 L850.7,234.0 L837.0,228.8 L847.9,222.3 L856.7,225.8 Z" fill="#fdab94" stroke="#fdab94" stroke-width="3" stroke-linejoin="round" opacity="0.55"/>
<path d="M879.0,224.5 L880.7,234.8 L871.2,239.8 L862.9,234.9 L864.7,225.4 L874.1,220.4 Z" fill="#fa8c70" stroke="#fa8c70" stroke-width="1.6" stroke-linejoin="round"/>
<path d="M875.5,225.3 L876.6,231.8 L870.5,235.1 L865.2,231.9 L866.4,225.9 L872.4,222.7 Z" fill="#fdab94" stroke="#fdab94" stroke-width="3" stroke-linejoin="round" opacity="0.55"/>
<path d="M897.8,220.8 L894.8,219.5 L881.6,224.6 L883.4,234.9 L890.9,240.6 L891.8,240.6 L898.2,235.3 Z" fill="#fa8c70" stroke="#fa8c70" stroke-width="1.6" stroke-linejoin="round"/>
<path d="M894.4,223.2 L892.5,222.4 L884.1,225.7 L885.2,232.3 L890.0,235.9 L890.6,235.9 L894.7,232.5 Z" fill="#fdab94" stroke="#fdab94" stroke-width="3" stroke-linejoin="round" opacity="0.55"/>
<path d="M909.0,218.3 L915.9,222.0 L915.1,234.2 L914.8,234.5 L900.8,234.8 L900.4,220.3 Z" fill="#fa8c70" stroke="#fa8c70" stroke-width="1.6" stroke-linejoin="round"/>
<path d="M908.1,220.4 L912.5,222.7 L912.0,230.5 L911.8,230.7 L902.9,230.9 L902.6,221.6 Z" fill="#fdab94" stroke="#fdab94" stroke-width="3" stroke-linejoin="round" opacity="0.55"/>
<path d="M917.8,234.3 L930.9,238.0 L937.0,230.1 L937.3,225.7 L928.6,216.6 L918.5,222.0 Z" fill="#fa8c70" stroke="#fa8c70" stroke-width="1.6" stroke-linejoin="round"/>
<path d="M920.6,230.7 L929.0,233.1 L932.9,228.1 L933.1,225.2 L927.5,219.4 L921.1,222.9 Z" fill="#fdab94" stroke="#fdab94" stroke-width="3" stroke-linejoin="round" opacity="0.55"/>
<path d="M940.1,230.3 L940.4,225.9 L950.8,221.9 L958.7,225.8 L958.7,233.4 L952.7,239.0 Z" fill="#fa8c70" stroke="#fa8c70" stroke-width="1.6" stroke-linejoin="round"/>
<path d="M942.7,228.8 L942.9,226.0 L949.6,223.4 L954.6,225.9 L954.7,230.8 L950.8,234.3 Z" fill="#fdab94" stroke="#fdab94" stroke-width="3" stroke-linejoin="round" opacity="0.55"/>
<path d="M971.1,238.8 L961.5,233.4 L961.4,225.8 L970.1,219.2 L977.1,223.5 L978.1,233.4 Z" fill="#fa8c70" stroke="#fa8c70" stroke-width="1.6" stroke-linejoin="round"/>
<path d="M969.7,234.1 L963.5,230.6 L963.5,225.7 L969.1,221.5 L973.5,224.3 L974.1,230.6 Z" fill="#fdab94" stroke="#fdab94" stroke-width="3" stroke-linejoin="round" opacity="0.55"/>
<path d="M998.0,226.2 L990.7,220.1 L979.8,223.5 L980.9,233.4 L991.3,237.9 L997.3,233.7 Z" fill="#fa8c70" stroke="#fa8c70" stroke-width="1.6" stroke-linejoin="round"/>
<path d="M994.0,226.1 L989.4,222.2 L982.4,224.3 L983.0,230.7 L989.7,233.6 L993.6,230.9 Z" fill="#fdab94" stroke="#fdab94" stroke-width="3" stroke-linejoin="round" opacity="0.55"/>
<path d="M1017.1,236.0 L1017.2,224.2 L1008.7,221.6 L1000.7,226.4 L1000.0,233.9 L1009.4,240.2 Z" fill="#fa8c70" stroke="#fa8c70" stroke-width="1.6" stroke-linejoin="round"/>
<path d="M1013.1,232.8 L1013.2,225.2 L1007.7,223.5 L1002.6,226.6 L1002.2,231.4 L1008.2,235.5 Z" fill="#fdab94" stroke="#fdab94" stroke-width="3" stroke-linejoin="round" opacity="0.55"/>
<path d="M1019.7,235.8 L1019.8,224.0 L1026.9,220.3 L1036.8,224.5 L1037.1,229.4 L1024.4,237.8 Z" fill="#fa8c70" stroke="#fa8c70" stroke-width="1.6" stroke-linejoin="round"/>
<path d="M1021.5,232.0 L1021.6,224.4 L1026.1,222.1 L1032.4,224.8 L1032.6,227.9 L1024.5,233.3 Z" fill="#fdab94" stroke="#fdab94" stroke-width="3" stroke-linejoin="round" opacity="0.55"/>
<path d="M860.5,254.4 L867.7,251.9 L869.8,242.1 L861.4,237.2 L853.9,240.7 L857.8,252.8 Z" fill="#fa8c70" stroke="#fa8c70" stroke-width="1.6" stroke-linejoin="round"/>
<path d="M860.0,250.3 L864.6,248.8 L865.9,242.5 L860.6,239.4 L855.8,241.6 L858.3,249.4 Z" fill="#fdab94" stroke="#fdab94" stroke-width="3" stroke-linejoin="round" opacity="0.55"/>
<path d="M872.1,242.1 L870.0,251.9 L880.5,258.1 L889.1,242.7 L881.6,237.1 Z" fill="#fa8c70" stroke="#fa8c70" stroke-width="1.6" stroke-linejoin="round"/>
<path d="M873.5,242.4 L872.1,248.7 L878.8,252.7 L884.3,242.9 L879.6,239.2 Z" fill="#fdab94" stroke="#fdab94" stroke-width="3" stroke-linejoin="round" opacity="0.55"/>
<path d="M914.1,236.7 L912.3,248.4 L902.4,251.7 L893.6,242.3 L900.1,237.0 Z" fill="#fa8c70" stroke="#fa8c70" stroke-width="1.6" stroke-linejoin="round"/>
<path d="M909.7,237.9 L908.5,245.4 L902.1,247.4 L896.5,241.4 L900.7,238.1 Z" fill="#fdab94" stroke="#fdab94" stroke-width="3" stroke-linejoin="round" opacity="0.55"/>
<path d="M916.5,236.8 L914.7,248.5 L918.2,252.2 L932.4,248.4 L930.0,240.2 L916.8,236.5 Z" fill="#fa8c70" stroke="#fa8c70" stroke-width="1.6" stroke-linejoin="round"/>
<path d="M917.3,238.1 L916.1,245.6 L918.3,248.0 L927.5,245.6 L925.9,240.3 L917.5,237.9 Z" fill="#fdab94" stroke="#fdab94" stroke-width="3" stroke-linejoin="round" opacity="0.55"/>
<path d="M938.7,232.3 L951.3,240.9 L950.1,246.6 L937.3,250.6 L935.2,248.3 L932.7,240.1 Z" fill="#fa8c70" stroke="#fa8c70" stroke-width="1.6" stroke-linejoin="round"/>
<path d="M938.5,235.0 L946.6,240.5 L945.8,244.2 L937.6,246.7 L936.2,245.3 L934.6,240.0 Z" fill="#fdab94" stroke="#fdab94" stroke-width="3" stroke-linejoin="round" opacity="0.55"/>
<path d="M954.1,241.0 L960.2,235.4 L969.8,240.9 L970.5,247.6 L957.1,251.7 L952.9,246.7 Z" fill="#fa8c70" stroke="#fa8c70" stroke-width="1.6" stroke-linejoin="round"/>
<path d="M955.5,240.9 L959.4,237.3 L965.6,240.8 L966.0,245.1 L957.4,247.7 L954.7,244.5 Z" fill="#fdab94" stroke="#fdab94" stroke-width="3" stroke-linejoin="round" opacity="0.55"/>
<path d="M972.6,241.0 L973.2,247.7 L978.0,253.3 L988.2,248.7 L990.0,240.1 L979.6,235.6 Z" fill="#fa8c70" stroke="#fa8c70" stroke-width="1.6" stroke-linejoin="round"/>
<path d="M974.3,241.0 L974.8,245.3 L977.8,248.9 L984.3,245.9 L985.5,240.4 L978.8,237.6 Z" fill="#fdab94" stroke="#fdab94" stroke-width="3" stroke-linejoin="round" opacity="0.55"/>
<path d="M1008.1,242.4 L998.7,236.1 L992.7,240.3 L990.9,248.9 L999.3,256.5 L1008.4,250.6 Z" fill="#fa8c70" stroke="#fa8c70" stroke-width="1.6" stroke-linejoin="round"/>
<path d="M1004.1,242.4 L998.1,238.4 L994.2,241.1 L993.1,246.5 L998.4,251.4 L1004.3,247.7 Z" fill="#fdab94" stroke="#fdab94" stroke-width="3" stroke-linejoin="round" opacity="0.55"/>
<path d="M1018.7,238.5 L1011.0,242.6 L1011.3,250.9 L1018.9,255.8 L1029.0,252.9 L1029.2,252.6 L1023.4,240.4 Z" fill="#fa8c70" stroke="#fa8c70" stroke-width="1.6" stroke-linejoin="round"/>
<path d="M1018.2,240.6 L1013.3,243.3 L1013.5,248.5 L1018.4,251.7 L1024.8,249.8 L1024.9,249.6 L1021.2,241.8 Z" fill="#fdab94" stroke="#fdab94" stroke-width="3" stroke-linejoin="round" opacity="0.55"/>
<path d="M1025.5,239.6 L1038.2,231.3 L1046.1,244.7 L1031.3,251.8 Z" fill="#fa8c70" stroke="#fa8c70" stroke-width="1.6" stroke-linejoin="round"/>
<path d="M1028.0,239.2 L1036.1,233.9 L1041.2,242.5 L1031.7,247.0 Z" fill="#fdab94" stroke="#fdab94" stroke-width="3" stroke-linejoin="round" opacity="0.55"/>
<path d="M858.9,269.5 L859.2,256.7 L856.5,255.1 L836.6,260.8 L850.7,272.2 Z" fill="#fa8c70" stroke="#fa8c70" stroke-width="1.6" stroke-linejoin="round"/>
<path d="M855.6,265.9 L855.7,257.7 L854.0,256.7 L841.3,260.4 L850.3,267.6 Z" fill="#fdab94" stroke="#fdab94" stroke-width="3" stroke-linejoin="round" opacity="0.55"/>
<path d="M879.4,260.8 L879.2,260.4 L868.8,254.1 L861.6,256.6 L861.3,269.4 L868.4,273.6 Z" fill="#fa8c70" stroke="#fa8c70" stroke-width="1.6" stroke-linejoin="round"/>
<path d="M874.9,260.2 L874.8,260.0 L868.2,256.0 L863.6,257.5 L863.4,265.7 L867.9,268.4 Z" fill="#fdab94" stroke="#fdab94" stroke-width="3" stroke-linejoin="round" opacity="0.55"/>
<path d="M891.3,266.5 L899.5,262.0 L900.5,253.4 L891.8,244.0 L890.9,244.0 L882.2,259.4 L882.4,259.9 Z" fill="#fa8c70" stroke="#fa8c70" stroke-width="1.6" stroke-linejoin="round"/>
<path d="M890.3,261.4 L895.5,258.5 L896.2,253.0 L890.6,247.0 L890.0,247.0 L884.5,256.9 L884.6,257.1 Z" fill="#fdab94" stroke="#fdab94" stroke-width="3" stroke-linejoin="round" opacity="0.55"/>
<path d="M913.2,250.7 L916.7,254.3 L917.4,264.8 L912.2,267.8 L902.3,262.5 L903.3,253.9 Z" fill="#fa8c70" stroke="#fa8c70" stroke-width="1.6" stroke-linejoin="round"/>
<path d="M911.3,252.5 L913.6,254.8 L914.0,261.5 L910.7,263.4 L904.4,260.0 L905.0,254.5 Z" fill="#fdab94" stroke="#fdab94" stroke-width="3" stroke-linejoin="round" opacity="0.55"/>
<path d="M935.4,267.1 L935.7,252.9 L933.6,250.7 L919.3,254.4 L920.0,264.9 L933.8,268.0 Z" fill="#fa8c70" stroke="#fa8c70" stroke-width="1.6" stroke-linejoin="round"/>
<path d="M932.3,263.2 L932.5,254.1 L931.2,252.7 L922.0,255.1 L922.5,261.8 L931.3,263.8 Z" fill="#fdab94" stroke="#fdab94" stroke-width="3" stroke-linejoin="round" opacity="0.55"/>
<path d="M938.0,267.1 L938.3,252.9 L951.1,248.9 L955.3,253.9 L956.3,264.9 L949.5,270.2 Z" fill="#fa8c70" stroke="#fa8c70" stroke-width="1.6" stroke-linejoin="round"/>
<path d="M940.6,263.2 L940.8,254.1 L949.0,251.6 L951.7,254.8 L952.3,261.8 L948.0,265.2 Z" fill="#fdab94" stroke="#fdab94" stroke-width="3" stroke-linejoin="round" opacity="0.55"/>
<path d="M971.6,249.8 L958.2,253.9 L959.2,264.9 L973.3,266.8 L974.7,265.8 L976.4,255.4 Z" fill="#fa8c70" stroke="#fa8c70" stroke-width="1.6" stroke-linejoin="round"/>
<path d="M969.6,252.1 L961.1,254.7 L961.7,261.7 L970.7,263.0 L971.6,262.3 L972.7,255.7 Z" fill="#fdab94" stroke="#fdab94" stroke-width="3" stroke-linejoin="round" opacity="0.55"/>
<path d="M997.7,258.5 L989.3,250.9 L979.1,255.6 L977.4,266.0 L987.4,269.0 L997.2,263.1 Z" fill="#fa8c70" stroke="#fa8c70" stroke-width="1.6" stroke-linejoin="round"/>
<path d="M993.2,258.0 L987.8,253.2 L981.3,256.2 L980.2,262.8 L986.6,264.7 L992.9,260.9 Z" fill="#fdab94" stroke="#fdab94" stroke-width="3" stroke-linejoin="round" opacity="0.55"/>
<path d="M1009.6,252.9 L1000.5,258.8 L1000.0,263.3 L1008.6,272.1 L1014.9,268.5 L1017.3,257.8 Z" fill="#fa8c70" stroke="#fa8c70" stroke-width="1.6" stroke-linejoin="round"/>
<path d="M1008.2,255.1 L1002.4,258.8 L1002.1,261.7 L1007.6,267.4 L1011.6,265.1 L1013.1,258.2 Z" fill="#fdab94" stroke="#fdab94" stroke-width="3" stroke-linejoin="round" opacity="0.55"/>
<path d="M1029.9,255.4 L1034.9,271.0 L1030.9,275.0 L1017.4,269.0 L1019.8,258.3 Z" fill="#fa8c70" stroke="#fa8c70" stroke-width="1.6" stroke-linejoin="round"/>
<path d="M1027.7,258.0 L1030.9,267.9 L1028.4,270.5 L1019.7,266.6 L1021.2,259.8 Z" fill="#fdab94" stroke="#fdab94" stroke-width="3" stroke-linejoin="round" opacity="0.55"/>
<path d="M864.0,289.3 L849.3,283.9 L851.8,274.4 L860.0,271.8 L867.0,275.9 L868.3,279.3 Z" fill="#fa8c70" stroke="#fa8c70" stroke-width="1.6" stroke-linejoin="round"/>
<path d="M861.6,284.4 L852.2,280.9 L853.8,274.9 L859.0,273.2 L863.5,275.9 L864.4,278.0 Z" fill="#fdab94" stroke="#fdab94" stroke-width="3" stroke-linejoin="round" opacity="0.55"/>
<path d="M871.3,278.7 L870.0,275.3 L881.0,262.6 L889.9,269.2 L889.6,281.2 L886.0,282.3 Z" fill="#fa8c70" stroke="#fa8c70" stroke-width="1.6" stroke-linejoin="round"/>
<path d="M873.9,276.1 L873.1,274.0 L880.1,265.8 L885.8,270.1 L885.6,277.7 L883.3,278.4 Z" fill="#fdab94" stroke="#fdab94" stroke-width="3" stroke-linejoin="round" opacity="0.55"/>
<path d="M892.7,269.2 L900.9,264.8 L910.8,270.0 L909.5,279.6 L898.7,285.6 L892.3,281.2 Z" fill="#fa8c70" stroke="#fa8c70" stroke-width="1.6" stroke-linejoin="round"/>
<path d="M894.6,270.2 L899.9,267.3 L906.2,270.6 L905.3,276.8 L898.5,280.6 L894.4,277.8 Z" fill="#fdab94" stroke="#fdab94" stroke-width="3" stroke-linejoin="round" opacity="0.55"/>
<path d="M927.6,285.4 L924.2,287.0 L912.4,279.9 L913.7,270.2 L918.9,267.2 L932.7,270.4 Z" fill="#fa8c70" stroke="#fa8c70" stroke-width="1.6" stroke-linejoin="round"/>
<path d="M924.4,281.1 L922.2,282.1 L914.7,277.5 L915.6,271.4 L918.9,269.5 L927.7,271.5 Z" fill="#fdab94" stroke="#fdab94" stroke-width="3" stroke-linejoin="round" opacity="0.55"/>
<path d="M939.0,290.7 L951.0,282.7 L948.4,272.8 L936.8,269.7 L935.3,270.7 L930.1,285.7 Z" fill="#fa8c70" stroke="#fa8c70" stroke-width="1.6" stroke-linejoin="round"/>
<path d="M938.4,285.2 L946.1,280.1 L944.4,273.8 L937.0,271.8 L936.0,272.4 L932.7,282.0 Z" fill="#fdab94" stroke="#fdab94" stroke-width="3" stroke-linejoin="round" opacity="0.55"/>
<path d="M953.8,282.4 L957.3,285.3 L970.4,282.5 L972.1,269.2 L958.0,267.3 L951.2,272.5 Z" fill="#fa8c70" stroke="#fa8c70" stroke-width="1.6" stroke-linejoin="round"/>
<path d="M955.2,279.1 L957.4,280.9 L965.9,279.2 L966.9,270.6 L957.9,269.4 L953.6,272.8 Z" fill="#fdab94" stroke="#fdab94" stroke-width="3" stroke-linejoin="round" opacity="0.55"/>
<path d="M973.2,282.7 L974.9,269.4 L976.3,268.4 L986.3,271.4 L990.5,282.7 L980.1,291.1 Z" fill="#fa8c70" stroke="#fa8c70" stroke-width="1.6" stroke-linejoin="round"/>
<path d="M974.7,279.6 L975.8,271.1 L976.7,270.5 L983.1,272.4 L985.8,279.6 L979.1,285.1 Z" fill="#fdab94" stroke="#fdab94" stroke-width="3" stroke-linejoin="round" opacity="0.55"/>
<path d="M1007.2,274.0 L1005.1,284.3 L993.1,282.3 L988.9,271.1 L998.6,265.1 Z" fill="#fa8c70" stroke="#fa8c70" stroke-width="1.6" stroke-linejoin="round"/>
<path d="M1003.1,273.3 L1001.7,279.9 L994.1,278.6 L991.4,271.4 L997.6,267.6 Z" fill="#fdab94" stroke="#fdab94" stroke-width="3" stroke-linejoin="round" opacity="0.55"/>
<path d="M1029.6,277.0 L1028.9,280.7 L1018.0,288.5 L1008.1,285.7 L1007.6,285.0 L1009.8,274.7 L1016.1,271.1 Z" fill="#fa8c70" stroke="#fa8c70" stroke-width="1.6" stroke-linejoin="round"/>
<path d="M1024.0,277.0 L1023.5,279.4 L1016.6,284.4 L1010.2,282.6 L1010.0,282.1 L1011.3,275.5 L1015.3,273.2 Z" fill="#fdab94" stroke="#fdab94" stroke-width="3" stroke-linejoin="round" opacity="0.55"/>
<path d="M1037.0,272.9 L1065.2,272.0 L1040.7,292.8 L1032.3,280.5 L1033.0,276.8 Z" fill="#fa8c70" stroke="#fa8c70" stroke-width="1.6" stroke-linejoin="round"/>
<path d="M1037.7,273.9 L1055.7,273.3 L1040.0,286.7 L1034.7,278.8 L1035.1,276.4 Z" fill="#fdab94" stroke="#fdab94" stroke-width="3" stroke-linejoin="round" opacity="0.55"/>
<path d="M865.7,291.2 L870.1,281.1 L884.7,284.7 L869.3,312.1 Z" fill="#fa8c70" stroke="#fa8c70" stroke-width="1.6" stroke-linejoin="round"/>
<path d="M867.2,290.4 L869.9,283.9 L879.3,286.3 L869.4,303.8 Z" fill="#fdab94" stroke="#fdab94" stroke-width="3" stroke-linejoin="round" opacity="0.55"/>
<path d="M907.1,327.0 L900.0,288.7 L910.8,282.7 L922.6,289.9 Z" fill="#fa8c70" stroke="#fa8c70" stroke-width="1.6" stroke-linejoin="round"/>
<path d="M907.2,315.0 L902.6,290.5 L909.5,286.7 L917.1,291.3 Z" fill="#fdab94" stroke="#fdab94" stroke-width="3" stroke-linejoin="round" opacity="0.55"/>
<path d="M1036.0,325.7 L1020.0,291.1 L1030.9,283.3 L1039.3,295.6 Z" fill="#fa8c70" stroke="#fa8c70" stroke-width="1.6" stroke-linejoin="round"/>
<path d="M1033.4,314.9 L1023.2,292.7 L1030.2,287.7 L1035.5,295.6 Z" fill="#fdab94" stroke="#fdab94" stroke-width="3" stroke-linejoin="round" opacity="0.55"/>
</g>
<path d="M366,890 C383,889 398,902 398.5,919 C399,936 386,948 368,948 C360,948 354,946 350,943 C345,947 336,944 334,936 C332,929 335,922 339,918 C338,903 350,891 366,890 Z" fill="#ee4630"/>
<g clip-path="url(#bb3)">
<path d="M324.5,887.9 L327.5,877.4 L322.0,870.6 L297.0,880.9 L317.9,894.6 Z" fill="#fb9a80" stroke="#fb9a80" stroke-width="1.6" stroke-linejoin="round"/>
<path d="M321.1,884.7 L323.0,877.9 L319.5,873.6 L303.5,880.2 L316.9,889.0 Z" fill="#fdbaa6" stroke="#fdbaa6" stroke-width="3" stroke-linejoin="round" opacity="0.55"/>
<path d="M327.9,888.3 L330.9,877.7 L345.3,877.2 L352.3,882.4 L353.3,885.5 L342.4,896.5 Z" fill="#fb9a80" stroke="#fb9a80" stroke-width="1.6" stroke-linejoin="round"/>
<path d="M332.0,885.7 L333.9,879.0 L343.1,878.7 L347.6,882.0 L348.2,884.0 L341.2,891.0 Z" fill="#fdbaa6" stroke="#fdbaa6" stroke-width="3" stroke-linejoin="round" opacity="0.55"/>
<path d="M357.0,885.3 L356.0,882.1 L366.4,870.9 L385.4,877.6 L380.0,889.7 L364.8,891.5 Z" fill="#fb9a80" stroke="#fb9a80" stroke-width="1.6" stroke-linejoin="round"/>
<path d="M360.0,883.2 L359.4,881.2 L366.1,874.0 L378.2,878.3 L374.8,886.1 L365.0,887.2 Z" fill="#fdbaa6" stroke="#fdbaa6" stroke-width="3" stroke-linejoin="round" opacity="0.55"/>
<path d="M389.9,901.4 L408.3,896.9 L404.7,881.8 L390.2,877.3 L389.0,878.3 L383.6,890.4 Z" fill="#fb9a80" stroke="#fb9a80" stroke-width="1.6" stroke-linejoin="round"/>
<path d="M390.5,895.2 L402.2,892.4 L399.9,882.7 L390.7,879.8 L389.9,880.5 L386.5,888.2 Z" fill="#fdbaa6" stroke="#fdbaa6" stroke-width="3" stroke-linejoin="round" opacity="0.55"/>
<path d="M326.1,891.0 L340.6,899.2 L339.0,912.1 L331.9,914.9 L319.3,909.6 L319.6,897.7 Z" fill="#fb9a80" stroke="#fb9a80" stroke-width="1.6" stroke-linejoin="round"/>
<path d="M326.3,894.5 L335.6,899.8 L334.5,908.0 L330.0,909.8 L322.0,906.4 L322.1,898.8 Z" fill="#fdbaa6" stroke="#fdbaa6" stroke-width="3" stroke-linejoin="round" opacity="0.55"/>
<path d="M342.3,912.0 L353.6,915.3 L360.5,910.3 L362.7,894.4 L354.8,888.1 L343.9,899.1 Z" fill="#fb9a80" stroke="#fb9a80" stroke-width="1.6" stroke-linejoin="round"/>
<path d="M345.1,907.6 L352.4,909.7 L356.8,906.5 L358.2,896.3 L353.2,892.3 L346.2,899.4 Z" fill="#fdbaa6" stroke="#fdbaa6" stroke-width="3" stroke-linejoin="round" opacity="0.55"/>
<path d="M364.0,910.7 L384.7,917.8 L385.4,917.2 L387.6,904.0 L381.4,893.0 L366.2,894.8 Z" fill="#fb9a80" stroke="#fb9a80" stroke-width="1.6" stroke-linejoin="round"/>
<path d="M368.1,907.9 L381.4,912.4 L381.8,912.1 L383.2,903.6 L379.2,896.6 L369.5,897.7 Z" fill="#fdbaa6" stroke="#fdbaa6" stroke-width="3" stroke-linejoin="round" opacity="0.55"/>
<path d="M389.0,917.8 L407.6,921.5 L422.4,908.0 L409.6,900.0 L391.2,904.6 Z" fill="#fb9a80" stroke="#fb9a80" stroke-width="1.6" stroke-linejoin="round"/>
<path d="M393.4,913.9 L405.3,916.3 L414.8,907.6 L406.6,902.6 L394.8,905.4 Z" fill="#fdbaa6" stroke="#fdbaa6" stroke-width="3" stroke-linejoin="round" opacity="0.55"/>
<path d="M330.5,917.7 L330.3,929.3 L317.4,938.0 L301.0,922.2 L317.9,912.4 Z" fill="#fb9a80" stroke="#fb9a80" stroke-width="1.6" stroke-linejoin="round"/>
<path d="M325.5,918.7 L325.4,926.1 L317.1,931.7 L306.6,921.6 L317.5,915.3 Z" fill="#fdbaa6" stroke="#fdbaa6" stroke-width="3" stroke-linejoin="round" opacity="0.55"/>
<path d="M340.9,915.1 L352.3,918.5 L355.2,931.7 L344.2,941.6 L333.7,929.5 L333.8,918.0 Z" fill="#fb9a80" stroke="#fb9a80" stroke-width="1.6" stroke-linejoin="round"/>
<path d="M340.8,917.7 L348.1,919.9 L349.9,928.4 L342.9,934.7 L336.2,927.0 L336.3,919.6 Z" fill="#fdbaa6" stroke="#fdbaa6" stroke-width="3" stroke-linejoin="round" opacity="0.55"/>
<path d="M355.9,918.3 L362.7,913.3 L383.4,920.4 L380.7,929.0 L371.6,936.1 L358.8,931.6 Z" fill="#fb9a80" stroke="#fb9a80" stroke-width="1.6" stroke-linejoin="round"/>
<path d="M359.5,919.5 L363.9,916.3 L377.2,920.8 L375.5,926.3 L369.6,930.8 L361.4,927.9 Z" fill="#fdbaa6" stroke="#fdbaa6" stroke-width="3" stroke-linejoin="round" opacity="0.55"/>
<path d="M387.8,920.5 L406.4,924.1 L408.8,937.5 L397.6,944.2 L384.5,929.7 L387.1,921.0 Z" fill="#fb9a80" stroke="#fb9a80" stroke-width="1.6" stroke-linejoin="round"/>
<path d="M389.5,922.5 L401.4,924.9 L402.9,933.4 L395.8,937.7 L387.4,928.4 L389.1,922.9 Z" fill="#fdbaa6" stroke="#fdbaa6" stroke-width="3" stroke-linejoin="round" opacity="0.55"/>
<path d="M332.0,932.4 L319.1,941.1 L319.9,950.3 L331.8,958.6 L341.5,951.1 L342.5,944.5 Z" fill="#fb9a80" stroke="#fb9a80" stroke-width="1.6" stroke-linejoin="round"/>
<path d="M330.7,936.2 L322.4,941.8 L323.0,947.7 L330.6,953.0 L336.8,948.2 L337.4,944.0 Z" fill="#fdbaa6" stroke="#fdbaa6" stroke-width="3" stroke-linejoin="round" opacity="0.55"/>
<path d="M346.3,944.5 L345.3,951.1 L361.2,958.5 L370.2,952.0 L370.2,939.1 L357.3,934.7 Z" fill="#fb9a80" stroke="#fb9a80" stroke-width="1.6" stroke-linejoin="round"/>
<path d="M349.7,944.1 L349.1,948.3 L359.2,953.0 L365.0,948.9 L364.9,940.6 L356.7,937.8 Z" fill="#fdbaa6" stroke="#fdbaa6" stroke-width="3" stroke-linejoin="round" opacity="0.55"/>
<path d="M373.8,952.1 L373.7,939.2 L382.8,932.1 L396.0,946.7 L393.8,956.0 L383.2,956.7 Z" fill="#fb9a80" stroke="#fb9a80" stroke-width="1.6" stroke-linejoin="round"/>
<path d="M376.4,949.1 L376.4,940.9 L382.2,936.3 L390.7,945.7 L389.2,951.6 L382.5,952.0 Z" fill="#fdbaa6" stroke="#fdbaa6" stroke-width="3" stroke-linejoin="round" opacity="0.55"/>
<path d="M410.5,940.6 L399.3,947.3 L397.1,956.6 L403.6,965.3 L427.0,948.2 Z" fill="#fb9a80" stroke="#fb9a80" stroke-width="1.6" stroke-linejoin="round"/>
<path d="M408.4,943.3 L401.3,947.7 L399.8,953.6 L404.0,959.1 L419.0,948.2 Z" fill="#fdbaa6" stroke="#fdbaa6" stroke-width="3" stroke-linejoin="round" opacity="0.55"/>
</g>
<path d="M366,890 C383,889 398,902 398.5,919 C399,936 386,948 368,948 C360,948 354,946 350,943 C345,947 336,944 334,936 C332,929 335,922 339,918 C338,903 350,891 366,890 Z" fill="none" stroke="#f04a30" stroke-width="2"/>
<ellipse cx="1001" cy="694" rx="24" ry="13" fill="#fa8868"/><rect x="977" y="694" width="48" height="24" fill="#ef6a52"/><ellipse cx="1001" cy="718" rx="24" ry="13" fill="#ef6a52"/><ellipse cx="1001" cy="692" rx="24" ry="13" fill="#f8917a"/>
<ellipse cx="1010" cy="722" rx="22" ry="16" fill="#68c8fc" transform="rotate(15 1010 722)"/><ellipse cx="1012" cy="716" rx="20" ry="11" fill="#bfe3f9" transform="rotate(15 1012 716)"/>
<ellipse cx="979" cy="733" rx="24" ry="21" fill="#e8553f"/>
<ellipse cx="979" cy="727" rx="24" ry="21" fill="#fa8868"/>
<path d="M962,713 L996,742 M996,713 L964,743" stroke="#e2452f" stroke-width="1.6"/>
<g transform="rotate(-30 960 693)"><rect x="922" y="679" width="76" height="28" rx="14" fill="#68c8fc"/><path d="M962,679 H984 A14,14 0 0 1 984,707 H962 Z" fill="#ffffff"/><path d="M962,679 H984 A14,14 0 0 1 997,688 H962 Z" fill="#dff1fc" opacity="0.0"/><rect x="930" y="683" width="28" height="5" rx="2.5" fill="#9fd6f8"/></g>
<rect x="832" y="872" width="72" height="50" rx="5" fill="#68c8fc"/>
<rect x="832" y="874" width="72" height="12" fill="#fbeee8"/>
<rect x="832" y="885.5" width="72" height="7.5" fill="#f0604a"/>
<rect x="835.5" y="894" width="62.5" height="22" fill="#ffffff"/>
<path d="M840,899 H880 M840,903.5 H880 M840,908 H880 M840,912 H880" stroke="#fa8868" stroke-width="1.5"/><path d="M840,901 H880 M840,906 H880" stroke="#68c8fc" stroke-width="1.2"/>
<rect x="884" y="897" width="11" height="16" fill="#f9b0a0"/>
<rect x="824" y="857" width="86.5" height="18.5" rx="4" fill="#7cc4f2"/>
<path d="M827.9,860 V872.5 M831.9,860 V872.5 M835.8,860 V872.5 M839.7,860 V872.5 M843.7,860 V872.5 M847.6,860 V872.5 M851.5,860 V872.5 M855.5,860 V872.5 M859.4,860 V872.5 M863.3,860 V872.5 M867.2,860 V872.5 M871.2,860 V872.5 M875.1,860 V872.5 M879.0,860 V872.5 M883.0,860 V872.5 M886.9,860 V872.5 M890.8,860 V872.5 M894.8,860 V872.5 M898.7,860 V872.5 M902.6,860 V872.5 M906.6,860 V872.5 " stroke="#bfe5fb" stroke-width="1.4"/>
<rect x="920.5" y="826" width="82.5" height="97" rx="6" fill="#f26a52"/>
<path d="M930,832 V920 M946,832 V920 M962,832 V920 M978,832 V920 M992,832 V920" stroke="#f8917a" stroke-width="6" opacity="0.6"/>
<rect x="928" y="855.5" width="68" height="50" fill="#ffffff"/>
<path d="M934,864 H982" stroke="#2b63b6" stroke-width="3"/>
<path d="M934,871 H990 M934,888 H990 M934,899 H990" stroke="#68c8fc" stroke-width="1.6"/><path d="M934,876.5 H990 M934,882 H990 M934,893.5 H990" stroke="#fa8868" stroke-width="1.6"/>
<rect x="913" y="809" width="97.5" height="21.5" rx="4" fill="#7cc4f2"/>
<path d="M916.8,812 V827.5 M920.5,812 V827.5 M924.2,812 V827.5 M928.0,812 V827.5 M931.8,812 V827.5 M935.5,812 V827.5 M939.2,812 V827.5 M943.0,812 V827.5 M946.8,812 V827.5 M950.5,812 V827.5 M954.2,812 V827.5 M958.0,812 V827.5 M961.8,812 V827.5 M965.5,812 V827.5 M969.2,812 V827.5 M973.0,812 V827.5 M976.8,812 V827.5 M980.5,812 V827.5 M984.2,812 V827.5 M988.0,812 V827.5 M991.8,812 V827.5 M995.5,812 V827.5 M999.2,812 V827.5 M1003.0,812 V827.5 M1006.8,812 V827.5 " stroke="#bfe5fb" stroke-width="1.4"/>
<circle cx="1026" cy="913" r="11" fill="#fa8868"/>
</svg>
</body></html>
